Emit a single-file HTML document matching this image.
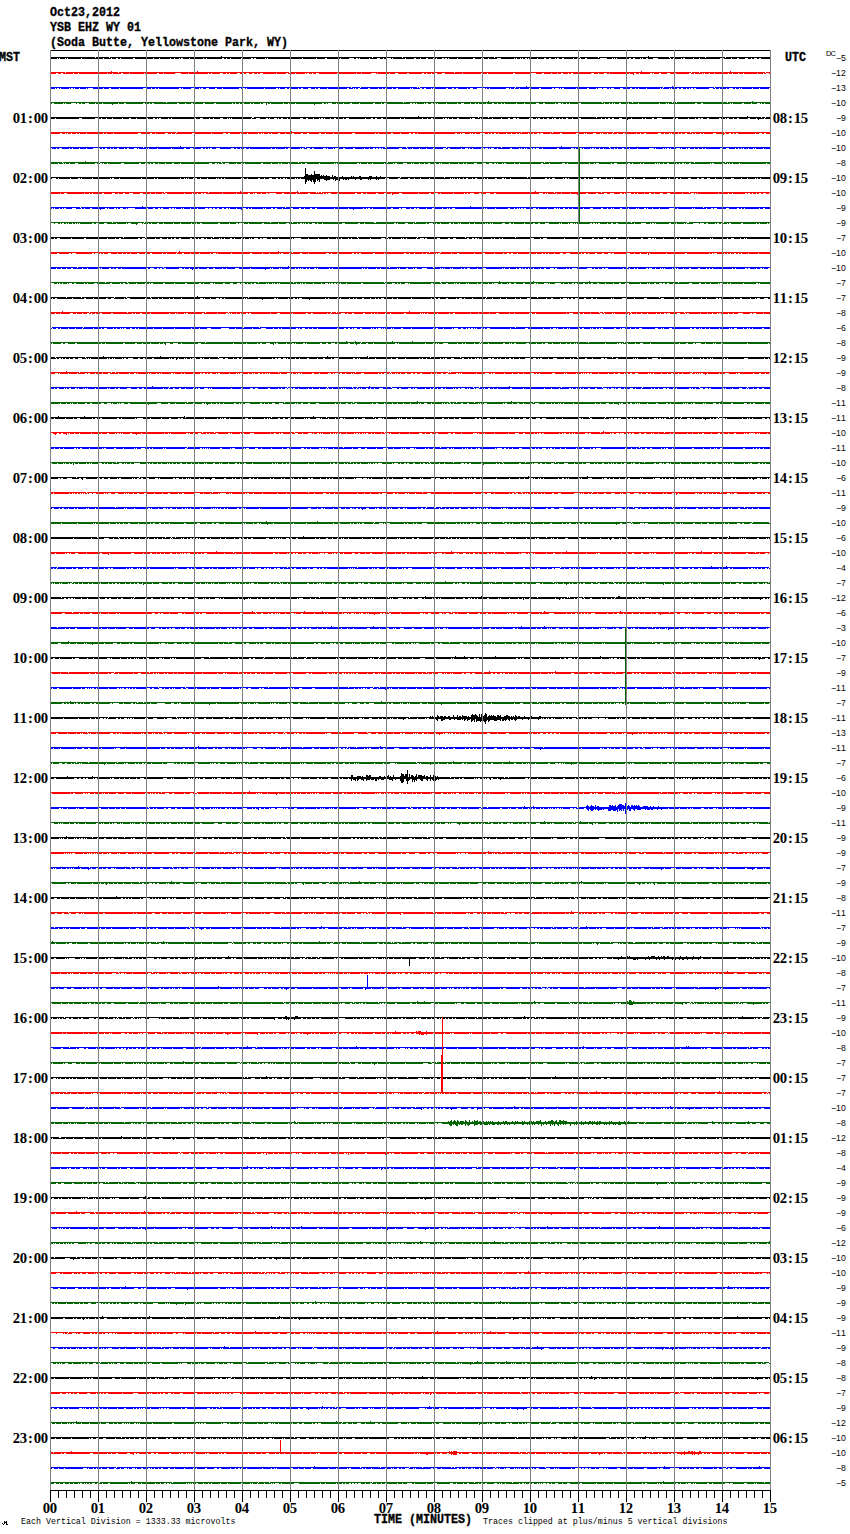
<!DOCTYPE html><html><head><meta charset="utf-8"><style>
html,body{margin:0;padding:0;background:#fff}
body{width:850px;height:1534px;position:relative;overflow:hidden}
div{position:absolute;white-space:pre;line-height:1;color:#000}
.m{font-family:"Liberation Mono",monospace;font-weight:bold;font-size:13.66px;transform:scaleX(.854);transform-origin:0 0;-webkit-text-stroke:.35px #000}
.s{font-family:"Liberation Serif",serif;font-weight:bold;font-size:13.6px}
.s b{display:inline-block;width:7px;text-align:center;font-weight:bold;transform:scaleX(1.08)}
.r{font-family:"Liberation Sans",sans-serif;font-size:8.7px}
.r b{display:inline-block;width:5px;text-align:center;font-weight:normal}
.f{font-family:"Liberation Mono",monospace;font-size:9.1px;transform:scaleX(.914);transform-origin:0 0}

</style></head><body>
<svg width="850" height="1534" shape-rendering="crispEdges" style="position:absolute;left:0;top:0"><path fill="#000" d="M50 57h45v1h1v-1h13v1h1v-1h111v-1h1v1h150v1h1v-1h29v1h1v-1h91v1h1v-1h84v1h1v-1h18v1h1v-1h49v-1h1v1h20v1h1v-1h35v1h1v-1h19v1h1v-1h44V59h-9v-1h-2v1h-2v-1h-3v1h-2v-1h-1v1h-3v-1h-3v1h-6v-1h-2v1h-5v-1h-1v1h-7v-1h-4v1h-20v-1h-1v1h-5v-1h-1v1h-8v-1h-2v1h-1v-1h-1v1h-6v-1h-2v1h-2v-1h-1v1h-12v-1h-5v1h-5v-1h-2v1h-3v-1h-1v1h-1v-1h-1v1h-5v-1h-2v1h-2v-1h-2v1h-12v-1h-1v1h-1v-1h-1v1h-1v-1h-1v1h-5v-1h-7v1h-13v-1h-2v1h-4v-1h-1v1h-2v-1h-1v1h-3v-1h-1v1h-9v-1h-2v1h-3v-1h-2v1h-1v-1h-1v1h-4v-1h-2v1h-3v-1h-2v1h-6v-1h-1v1h-8v-1h-1v1h-1v-1h-2v1h-2v-1h-1v1h-1v-1h-1v1h-3v-1h-1v1h-1v-1h-1v1h-13v-1h-4v1h-8v-1h-1v1h-4v-1h-1v1h-1v-1h-1v1h-6v-1h-2v1h-15v-1h-1v1h-8v-1h-1v1h-1v-1h-2v1h-1v-1h-2v1h-5v-1h-1v1h-2v-1h-1v1h-5v-1h-2v1h-5v-1h-1v1h-4v-1h-2v1h-8v-1h-1v1h-12v-1h-1v1h-1v-1h-4v1h-3v-1h-1v1h-3v-1h-3v1h-7v-1h-1v1h-9v-1h-1v1h-1v-1h-2v1h-2v-1h-5v1h-8v-1h-1v1h-1v-1h-1v1h-11v-1h-2v1h-8v-1h-1v1h-13v-1h-1v1h-34v-1h-1v1h-1v-1h-1v1h-9v-1h-2v1h-1v-1h-2v1h-8v-1h-2v1h-10v-1h-1v1h-3v-1h-1v1h-2v-1h-2v1h-15v-1h-1v1h-2v-1h-1v1h-8v-1h-1v1h-4v-1h-1v1h-6v-1h-2v1h-1v-1h-1v1h-4v-1h-1v1h-3v-1h-1v1h-10v-1h-1v1h-5v-1h-1v1h-18v-1h-2v1h-12v-1h-1v1h-2v-1h-2v1h-4v-1h-1v1h-7v-1h-1v1h-21v-1h-1v1h-13v-1h-1v1h-1v-1h-1v1h-5v-1h-1v1h-1v-1h-1v1h-7z"/><path fill="#f00" d="M50 72h15v1h1v-1h45v-1h1v1h6v1h1v-1h78v-1h1v1h91v1h1v-1h164v1h1v-1h186v-1h1v1h49v1h1v-1h7v1h1v-1h30v-1h1v1h34v1h1v-1h4V74h-1v-1h-3v1h-2v-1h-1v1h-5v-1h-1v1h-13v-1h-1v1h-4v-1h-1v1h-5v-1h-1v1h-3v-1h-1v1h-13v-1h-1v1h-4v-1h-1v1h-4v-1h-1v1h-1v-1h-1v1h-7v-1h-1v1h-3v-1h-2v1h-13v-1h-1v1h-5v-1h-3v1h-6v-1h-2v1h-5v-1h-1v1h-1v-1h-2v1h-10v-1h-1v1h-3v-1h-2v2h-1v-1h-3v-1h-1v1h-19v-1h-1v1h-2v-1h-3v1h-5v-1h-1v1h-4v-1h-3v1h-12v-1h-1v1h-5v-1h-2v1h-2v-1h-1v1h-5v-1h-2v1h-3v-1h-1v1h-5v-1h-1v1h-7v-1h-2v1h-6v-1h-5v1h-16v-1h-2v1h-25v-1h-1v1h-4v-1h-2v1h-18v-1h-1v1h-17v-1h-3v1h-5v-1h-3v1h-2v-1h-1v1h-4v-1h-1v1h-2v-1h-2v1h-13v-1h-2v1h-9v-1h-3v1h-5v-1h-1v1h-11v-1h-1v1h-1v-1h-5v1h-9v-1h-1v1h-4v-1h-1v1h-18v-1h-1v1h-18v-1h-3v1h-3v-1h-1v1h-3v-1h-2v1h-1v-1h-1v1h-9v-1h-1v1h-7v-1h-2v1h-9v-1h-1v1h-13v-1h-3v1h-2v-1h-1v1h-3v-1h-2v1h-3v-1h-3v1h-2v-1h-1v1h-3v-1h-3v1h-7v-1h-1v1h-2v-1h-1v1h-3v-1h-3v1h-8v-1h-1v1h-2v-1h-1v1h-13v-1h-1v1h-5v-1h-1v1h-7v-1h-6v1h-11v-1h-1v1h-4v-1h-2v1h-12v-1h-1v1h-14v-1h-1v1h-6v-1h-2v1h-8v-1h-1v1h-4v-1h-1v1h-28v-1h-1v1h-4v-1h-1v1h-10v-1h-2v1h-3v-1h-2v1h-5v-1h-1z"/><path fill="#00f" d="M50 87h301v1h1v-1h8v1h1v-1h56v1h1v-1h1v1h1v-1h95v1h1v-1h10v-1h1v1h136v1h1v-1h8v-1h1v1h41v1h1v-1h55V88h-1v1h-9v-1h-1v1h-6v-1h-1v1h-10v-1h-1v1h-1v-1h-1v1h-3v-1h-1v1h-2v-1h-4v1h-2v-1h-1v1h-6v-1h-1v1h-3v-1h-1v1h-2v-1h-4v1h-13v-1h-2v1h-1v-1h-2v1h-1v-1h-1v1h-2v-1h-1v1h-3v-1h-2v1h-2v-1h-2v1h-5v-1h-1v1h-1v-1h-1v1h-6v-1h-1v1h-1v-1h-1v1h-13v-1h-1v1h-7v-1h-1v1h-2v-1h-1v1h-3v-1h-2v1h-7v-1h-3v1h-6v-1h-3v1h-1v-1h-1v1h-2v-1h-4v1h-1v-1h-4v1h-1v-1h-1v1h-7v-1h-2v1h-8v-1h-1v1h-1v-1h-1v1h-12v-1h-2v1h-1v-1h-1v1h-1v-1h-4v1h-1v-1h-2v1h-11v-1h-2v1h-9v-1h-1v1h-9v-1h-1v1h-4v-1h-1v1h-3v-1h-1v1h-1v-1h-3v1h-16v-1h-1v1h-2v-1h-1v1h-1v-1h-8v1h-4v-1h-3v1h-2v-1h-1v1h-9v-1h-2v1h-2v-1h-2v1h-4v-1h-2v1h-12v-1h-1v1h-1v-1h-1v1h-5v-1h-2v1h-2v-1h-2v1h-7v-1h-1v1h-1v-1h-1v1h-12v-1h-2v1h-3v-1h-1v1h-5v-1h-2v1h-2v-1h-1v1h-3v-1h-1v1h-8v-1h-2v1h-8v-1h-2v1h-2v-1h-1v1h-1v-1h-1v1h-4v-1h-2v1h-19v-1h-1v1h-7v-1h-2v1h-2v-1h-1v1h-4v-1h-3v1h-5v-1h-2v1h-2v-1h-1v1h-8v-1h-1v1h-2v-1h-2v1h-5v-1h-1v1h-1v-1h-2v1h-11v-1h-1v1h-17v-1h-1v1h-1v-1h-2v1h-2v-1h-2v1h-16v-1h-1v1h-5v-1h-2v1h-6v-1h-3v1h-3v-1h-2v1h-1v-1h-1v1h-5v-1h-3v1h-8v-1h-1v1h-1v-1h-2v1h-20v-1h-1v1h-2v-1h-1v1h-3v-1h-1v1h-5v-1h-3v1h-23v-1h-1v1h-8v-1h-2v1h-5v-1h-1v1h-10v-1h-5v1h-1v-1h-1v1h-6v-1h-1v1h-4v-1h-1v1h-1v-1h-2v1h-1v-1h-1v1h-8v-1h-1v1h-1v-1h-2v1h-1v-1h-1v1h-5z"/><path fill="#006400" d="M50 102h116v1h1v-1h236v1h1v-1h84v-1h1v1h113v1h1v-1h29v1h1v-1h39v1h1v-1h3v1h1v-1h50v1h1v-1h24v-1h1v1h17V104h-5v-1h-1v1h-2v-1h-1v1h-1v-1h-3v1h-5v-1h-1v1h-7v-1h-2v1h-9v-1h-1v1h-1v-1h-1v1h-27v-1h-2v1h-4v-1h-2v1h-26v-1h-1v1h-1v-1h-1v1h-6v-1h-1v1h-20v-1h-1v1h-9v-1h-1v1h-7v-1h-2v1h-4v-1h-1v1h-1v-1h-1v1h-2v-1h-1v1h-4v-1h-1v1h-23v-1h-2v1h-9v-1h-1v1h-2v-1h-1v1h-3v-1h-1v1h-1v-1h-3v1h-2v-1h-1v1h-10v-1h-2v1h-4v-1h-3v1h-11v-1h-1v1h-7v-1h-1v1h-11v-1h-1v1h-2v-1h-1v1h-3v-1h-1v1h-3v-1h-2v1h-5v-1h-1v1h-7v-1h-1v1h-2v-1h-1v1h-4v-1h-1v1h-6v-1h-3v1h-3v-1h-1v1h-10v-1h-1v1h-8v-1h-1v1h-1v-1h-2v1h-1v-1h-2v1h-3v-1h-2v1h-1v-1h-1v1h-7v-1h-1v1h-1v-1h-2v1h-1v-1h-2v1h-23v-1h-3v1h-2v-1h-1v1h-6v-1h-2v1h-13v-1h-1v1h-7v-1h-2v1h-6v-1h-1v1h-6v-1h-1v1h-4v-1h-4v1h-1v-1h-1v1h-2v-1h-2v1h-7v1h-1v-1h-18v-1h-1v1h-6v-1h-1v1h-4v-1h-1v1h-12v-1h-1v1h-2v-1h-1v2h-1v-2h-3v1h-2v-1h-1v1h-6v-1h-1v1h-2v-1h-1v1h-6v-1h-1v1h-3v-1h-1v1h-3v-1h-1v1h-2v-1h-1v1h-16v-1h-2v1h-9v-1h-2v1h-10v-1h-2v1h-5v-1h-1v1h-6v-1h-2v1h-23v-1h-2v1h-2v-1h-1v1h-4v-1h-2v1h-17v-1h-2v1h-5v-1h-1v1h-5v1h-1v-1h-9v-1h-1v1h-6v-1h-1v1h-6v-1h-4v1h-3v-1h-1v1h-2v-1h-2v1h-1v-1h-5v1h-5v-1h-1v1h-1v-1h-1v1h-9v-1h-2v1h-2z"/><path fill="#000" d="M50 117h202v1h2v-1h164v-1h1v1h59v1h1v-1h9v1h1v-1h107v1h1v-1h150v-1h1v1h13v1h1v-1h3v1h1v-1h4V119h-5v-1h-1v1h-5v1h-1v-1h-1v-1h-1v1h-6v-1h-2v1h-9v-1h-2v1h-3v-1h-1v1h-4v-1h-2v1h-1v-1h-1v1h-4v-1h-2v1h-10v-1h-2v1h-4v-1h-2v1h-1v-1h-2v1h-2v-1h-1v1h-6v-1h-1v1h-10v-1h-2v1h-2v-1h-1v1h-11v-1h-5v1h-3v-1h-2v1h-6v-1h-1v1h-2v-1h-1v1h-10v-1h-1v1h-3v1h-1v-1h-5v-1h-3v1h-5v-1h-2v1h-2v-1h-2v1h-2v-1h-1v1h-3v-1h-1v1h-20v-1h-3v1h-5v-1h-1v1h-4v-1h-2v1h-3v-1h-1v1h-2v-1h-1v1h-3v-1h-2v1h-1v-1h-1v1h-3v-1h-2v1h-3v-1h-1v1h-3v-1h-2v1h-1v-1h-1v1h-3v-1h-4v1h-10v-1h-2v1h-1v-1h-3v1h-3v-1h-2v1h-6v-1h-1v1h-8v-1h-1v1h-11v-1h-1v1h-5v-1h-3v1h-1v-1h-1v1h-11v-1h-2v1h-4v-1h-1v1h-3v-1h-1v1h-1v-1h-2v1h-1v-1h-1v1h-8v-1h-1v1h-1v-1h-2v1h-3v-1h-1v1h-4v-1h-1v1h-17v-1h-1v1h-3v-1h-1v1h-17v-1h-2v1h-4v-1h-2v1h-2v-1h-2v1h-5v-1h-1v1h-16v-1h-3v1h-2v-1h-1v1h-7v-1h-2v1h-3v-1h-1v1h-5v-1h-1v1h-1v-1h-2v1h-1v-1h-1v1h-5v-1h-1v1h-5v-1h-2v1h-3v-1h-3v1h-12v-1h-1v1h-4v-1h-2v1h-2v-1h-1v1h-1v-1h-3v1h-4v-1h-1v1h-1v-1h-2v1h-6v-1h-4v1h-4v-1h-1v1h-19v-1h-1v1h-1v-1h-1v1h-1v-1h-1v1h-4v-1h-3v1h-6v-1h-1v1h-3v-1h-1v1h-6v-1h-3v1h-4v-1h-2v1h-22v-1h-1v1h-2v-1h-1v1h-7v-1h-2v1h-1v-1h-1v1h-2v-1h-2v1h-5v-1h-1v1h-10v-1h-1v1h-5v-1h-2v1h-6v-1h-1v1h-9v-1h-1v1h-5v-1h-1v1h-4v-1h-1v1h-3v-1h-3v1h-13v-1h-3v1h-23v-1h-1v1h-5z"/><path fill="#f00" d="M50 132h126v1h1v-1h114v-1h1v1h229v1h1v-1h30v1h1v-1h60v1h1v-1h12v-1h1v1h63v1h1v-1h33v1h1v-1h45V134h-4v-1h-2v1h-2v-1h-3v1h-3v-1h-1v1h-17v-1h-2v1h-2v-1h-1v1h-2v-1h-2v1h-3v-1h-1v1h-1v1h-1v-1h-7v-1h-3v1h-9v-1h-1v1h-2v-1h-1v1h-4v-1h-1v1h-2v-1h-1v1h-5v-1h-2v1h-3v-1h-1v1h-2v-1h-1v1h-6v-1h-1v1h-1v-1h-1v1h-4v-1h-1v1h-3v-1h-3v1h-12v-1h-2v1h-3v-1h-1v1h-3v-1h-1v1h-11v-1h-2v1h-5v-1h-1v1h-4v-1h-1v1h-4v-1h-1v1h-4v-1h-1v1h-1v-1h-1v1h-4v-1h-3v1h-6v-1h-1v1h-1v-1h-1v1h-6v-1h-2v1h-14v-1h-2v1h-9v-1h-1v1h-7v-1h-3v1h-1v-1h-2v1h-3v-1h-1v1h-4v-1h-1v1h-8v-1h-1v1h-2v-1h-1v1h-4v-1h-1v1h-4v-1h-1v1h-7v-1h-1v1h-2v-1h-2v1h-2v-1h-1v1h-2v-1h-1v1h-3v-1h-2v1h-1v-1h-2v1h-4v-1h-1v1h-2v-1h-1v1h-1v-1h-1v1h-5v-1h-3v1h-1v-1h-1v1h-3v-1h-2v1h-20v-1h-1v1h-16v-1h-1v1h-2v-1h-2v1h-2v-1h-2v1h-8v-1h-1v1h-7v-1h-2v1h-12v-1h-1v1h-2v-1h-1v1h-20v-1h-3v1h-18v-1h-1v1h-7v-1h-1v1h-4v-1h-2v1h-10v-1h-2v1h-4v-1h-2v1h-7v-1h-2v1h-6v-1h-1v1h-5v-1h-2v1h-6v-1h-1v1h-2v-1h-1v1h-4v-1h-1v1h-1v-1h-1v1h-2v-1h-1v1h-10v-1h-1v1h-6v-1h-1v1h-10v-1h-2v1h-2v-1h-3v1h-11v-1h-1v1h-17v-1h-2v1h-16v-1h-1v1h-3v-1h-1v1h-3v-1h-3v1h-9v-1h-1v1h-3v-1h-2v1h-9v-1h-3v1h-24v-1h-1v1h-6v-1h-1v1h-2v-1h-1v1h-16v-1h-1v1h-6v-1h-1v1h-2v-1h-1v1h-4v-1h-1v1h-3v-1h-1v1h-1v-1h-1v1h-3v-1h-2v1h-9v-1h-1z"/><path fill="#00f" d="M50 147h93v1h1v-1h36v-1h1v1h124v1h1v-1h79v1h1v-1h20v1h1v-1h39v1h1v-1h54v1h1v-1h59v-1h1v1h47v1h1v-1h160V149h-6v-1h-1v1h-7v-1h-1v1h-1v-1h-1v1h-4v-1h-1v1h-4v-1h-1v1h-1v-1h-1v1h-2v-1h-1v1h-2v-1h-1v1h-6v-1h-3v1h-4v-1h-2v1h-14v-1h-1v1h-2v-1h-1v1h-3v-1h-1v1h-3v-1h-1v1h-4v-1h-2v1h-1v-1h-1v1h-4v-1h-1v1h-1v-1h-4v1h-5v-1h-1v1h-1v-1h-2v1h-1v-1h-1v1h-1v-1h-1v1h-7v-1h-1v1h-1v-1h-5v1h-11v-1h-1v1h-7v-1h-1v1h-5v-1h-2v1h-4v-1h-1v1h-2v-1h-1v1h-3v-1h-1v1h-6v-1h-1v1h-3v-1h-1v1h-3v-1h-1v1h-1v-1h-2v1h-1v-1h-1v1h-6v-1h-1v1h-1v-1h-2v1h-4v-1h-1v1h-1v-1h-3v1h-12v-1h-2v1h-14v-1h-1v1h-3v-1h-3v1h-1v-1h-2v1h-1v-1h-1v1h-4v-1h-1v1h-1v-1h-1v1h-2v-1h-1v1h-1v-1h-1v1h-7v-1h-2v1h-12v-1h-1v1h-3v-1h-3v1h-1v-1h-1v1h-1v-1h-3v1h-1v-1h-1v1h-1v-1h-1v1h-8v-1h-1v1h-2v-1h-1v1h-1v-1h-3v1h-3v-1h-1v1h-11v-1h-2v1h-2v-1h-3v1h-8v-1h-2v1h-6v-1h-1v1h-6v-1h-1v1h-6v-1h-1v1h-4v-1h-1v1h-5v-1h-3v1h-16v-1h-1v1h-1v-1h-2v1h-1v-1h-2v1h-1v-1h-2v1h-3v-1h-1v1h-4v-1h-1v1h-9v-1h-2v1h-8v-1h-2v1h-4v-1h-4v1h-1v-1h-1v1h-5v-1h-1v1h-1v-1h-3v1h-9v-1h-2v1h-2v-1h-3v1h-3v-1h-2v1h-1v-1h-1v1h-10v-1h-2v1h-2v-1h-1v1h-9v-1h-1v1h-3v-1h-1v1h-21v-1h-1v1h-3v-1h-2v1h-3v-1h-1v1h-3v-1h-1v1h-2v-1h-3v1h-11v-1h-4v1h-4v-1h-2v1h-1v-1h-1v1h-2v-1h-1v1h-2v-1h-2v1h-6v-1h-1v1h-1v-1h-3v1h-4v-1h-2v1h-12v-1h-1v1h-13v-1h-1v1h-8v-1h-1v1h-9v-1h-1v1h-1v-1h-3v1h-5v-1h-2v1h-2v-1h-1v1h-5v-1h-2v1h-3v-1h-1v1h-2v-1h-1v1h-3v-1h-2v1h-2v-1h-1v1h-2v-1h-7v1h-6v-1h-1v1h-6v-1h-1v1h-6v-1h-1v1h-2v-1h-1v1h-7v-1h-3v1h-2v-1h-1v1h-4v-1h-2z"/><path fill="#006400" d="M50 162h12v1h1v-1h22v-1h1v1h13v1h1v-1h121v1h1v-1h76v1h1v-1h88v1h1v-1h156v1h1v-1h149v1h1v-1h30v1h1v-1h44V164h-3v-1h-1v1h-26v-1h-1v1h-6v-1h-1v1h-2v-1h-1v1h-1v-1h-1v1h-3v-1h-1v1h-9v-1h-2v1h-1v-1h-1v1h-19v-1h-2v1h-3v-1h-1v1h-1v-1h-2v1h-2v-1h-1v1h-2v-1h-1v1h-7v-1h-2v1h-3v-1h-1v1h-3v-1h-1v1h-1v-1h-1v1h-1v-1h-1v1h-11v-1h-1v1h-2v-1h-1v1h-7v-1h-1v1h-2v-1h-2v1h-11v-1h-3v1h-2v-1h-1v1h-12v-1h-3v1h-1v-1h-1v1h-4v-1h-1v1h-21v-1h-1v1h-2v-1h-3v1h-12v-1h-1v1h-6v-1h-2v1h-21v-1h-1v1h-4v-1h-1v1h-8v-1h-2v1h-1v-1h-1v1h-4v-1h-1v1h-1v-1h-2v1h-2v-1h-3v1h-3v-1h-3v1h-6v-1h-3v1h-7v-1h-1v1h-2v-1h-1v1h-4v-1h-1v1h-8v-1h-1v1h-7v-1h-1v1h-1v-1h-1v1h-3v-1h-1v1h-5v-1h-2v1h-3v-1h-1v1h-4v-1h-1v1h-5v-1h-1v1h-1v-1h-1v1h-4v-1h-4v1h-6v-1h-2v1h-1v-1h-1v1h-8v-1h-1v1h-11v-1h-1v1h-4v-1h-1v1h-6v-1h-1v1h-1v-1h-2v1h-18v-1h-1v1h-1v-1h-1v1h-1v-1h-1v1h-14v-1h-1v1h-12v-1h-2v1h-3v-1h-1v1h-10v-1h-1v1h-1v-1h-1v1h-6v-1h-1v1h-2v-1h-1v1h-6v-1h-1v1h-8v-1h-2v1h-16v-1h-1v1h-2v-1h-1v1h-4v-1h-1v1h-7v-1h-4v1h-2v-1h-1v1h-3v-1h-1v1h-1v-1h-2v1h-3v-1h-3v1h-28v-1h-1v1h-6v-1h-2v1h-6v-1h-1v1h-6v-1h-1v1h-3v-1h-2v1h-2v-1h-1v1h-2v-1h-1v1h-1v-1h-1v1h-4v-1h-2v1h-15v-1h-3v1h-13v-1h-1v1h-3v-1h-1v1h-1v-1h-2v1h-3v-1h-2v1h-17v-1h-3v1h-5v-1h-1v1h-3v-1h-1v1h-1v-1h-1v1h-4v-1h-1v1h-8z"/><path fill="#000" d="M50 177h254v-1h1v-8h1v6h2v1h3v-1h1v1h2v-4h1v3h5v2h1v-1h1v1h1v-1h1v1h2v-1h1v1h3v1h2v-2h1v2h1v-1h2v1h2v-1h1v1h3v-1h1v1h8v-1h1v1h1v-1h1v1h5v-1h2v1h8v-1h3v1h4v-1h1v1h3v-1h1v1h19v1h1v-1h43v1h1v-1h82v1h1v-1h242V179h-9v-1h-1v1h-2v-1h-1v1h-1v-1h-1v1h-7v-1h-1v1h-5v-1h-1v1h-7v-1h-3v1h-6v-1h-1v1h-8v-1h-1v1h-5v-1h-3v1h-3v-1h-3v1h-2v-1h-2v1h-6v-1h-3v1h-7v-1h-1v1h-2v-1h-2v1h-6v-1h-1v1h-1v-1h-1v1h-7v-1h-2v1h-1v-1h-1v1h-11v-1h-2v1h-8v-1h-1v1h-2v-1h-2v1h-5v-1h-1v1h-10v-1h-1v1h-1v-1h-1v1h-4v-1h-1v1h-5v-1h-2v1h-2v-1h-4v1h-4v-1h-1v1h-2v-1h-2v1h-3v-1h-1v1h-11v-1h-1v1h-1v-1h-2v1h-1v-1h-1v1h-8v-1h-3v1h-2v-1h-1v1h-2v-1h-2v1h-34v-1h-1v1h-4v-1h-1v1h-1v-1h-2v1h-5v-1h-2v1h-7v-1h-1v1h-2v-1h-1v1h-7v-1h-2v1h-2v-1h-1v1h-4v-1h-2v1h-2v-1h-1v1h-3v-1h-1v1h-1v-1h-1v1h-2v-1h-1v1h-1v-1h-1v1h-1v-1h-1v1h-20v-1h-1v1h-8v-1h-1v1h-5v-1h-1v1h-4v-1h-2v1h-8v-1h-2v1h-9v-1h-4v1h-6v1h-1v-1h-1v1h-1v-1h-5v1h-1v-1h-1v1h-1v-1h-6v1h-2v-1h-4v1h-1v-1h-6v1h-1v-1h-1v1h-2v-1h-1v1h-1v-1h-3v2h-1v-2h-1v1h-2v1h-1v-2h-1v1h-1v-1h-3v1h-3v1h-1v-1h-2v-1h-4v3h-1v-2h-1v1h-1v-2h-1v3h-1v2h-1v-2h-1v-2h-1v2h-1v-1h-1v-1h-1v1h-1v-1h-1v2h-1v2h-1v-5h-4v-1h-1v1h-2v-1h-1v1h-1v-1h-1v1h-8v-1h-1v1h-1v-1h-2v1h-2v-1h-1v1h-2v-1h-2v1h-4v-1h-3v1h-4v-1h-1v1h-4v-1h-2v1h-10v-1h-1v1h-3v-1h-1v1h-1v-1h-1v1h-16v-1h-1v1h-2v-1h-1v1h-2v-1h-1v1h-1v-1h-1v1h-8v-1h-1v1h-6v-1h-1v1h-3v-1h-2v1h-1v-1h-1v1h-4v-1h-1v1h-1v-1h-1v1h-1v-1h-1v1h-3v-1h-1v1h-22v-1h-1v1h-2v-1h-1v1h-12v-1h-1v1h-21v-1h-1v1h-5v-1h-2v1h-1v-1h-1v1h-17v-1h-1v1h-10v-1h-1v1h-1v-1h-2v1h-7v-1h-1v1h-11v-1h-1v1h-2v-1h-4v1h-1v-1h-1z"/><path fill="#f00" d="M50 192h114v1h1v-1h43v1h1v-1h31v-1h1v1h56v-1h1v1h1v1h1v-1h16v1h1v-1h1v1h1v-1h2v1h1v-1h213v-1h1v1h18v1h1v-1h46v1h1v-1h87v1h1v-1h80V193h-1v1h-3v-1h-3v1h-2v-1h-2v1h-2v-1h-1v1h-3v-1h-1v1h-2v-1h-2v1h-1v-1h-2v1h-12v-1h-1v1h-3v-1h-1v1h-5v-1h-1v1h-3v-1h-1v1h-20v-1h-1v1h-1v-1h-1v1h-1v-1h-3v1h-8v-1h-1v1h-12v-1h-3v1h-4v-1h-3v1h-5v-1h-1v1h-3v-1h-2v1h-4v-1h-1v1h-6v-1h-1v1h-2v-1h-1v1h-3v-1h-4v1h-2v-1h-1v1h-2v-1h-2v1h-6v-1h-4v1h-3v-1h-3v1h-6v-1h-2v1h-8v-1h-2v1h-8v1h-1v-1h-6v-1h-1v1h-8v-1h-1v1h-4v-1h-1v1h-8v-1h-1v1h-1v-1h-1v1h-2v-1h-4v1h-43v-1h-2v1h-4v-1h-4v1h-3v-1h-1v1h-1v-1h-2v1h-5v-1h-4v1h-2v-1h-1v1h-2v-1h-1v1h-10v-1h-1v1h-12v-1h-1v1h-2v-1h-3v1h-4v-1h-2v1h-10v-1h-1v1h-16v-1h-3v1h-6v1h-1v-2h-1v1h-5v-1h-2v1h-6v-1h-2v1h-9v-1h-1v1h-3v-1h-2v1h-4v-1h-2v1h-17v-1h-1v1h-6v-1h-3v1h-1v-1h-1v1h-2v-1h-1v1h-13v-1h-2v1h-11v-1h-1v1h-12v-1h-2v1h-6v-1h-7v1h-1v-1h-2v1h-4v-1h-1v1h-4v-1h-2v1h-1v-1h-1v1h-3v-1h-2v1h-11v-1h-1v1h-13v-1h-1v1h-16v-1h-2v1h-1v-1h-2v1h-3v-1h-1v1h-4v-1h-1v1h-7v-1h-1v1h-17v-1h-2v1h-2v-1h-1v1h-6v-1h-1v1h-4v-1h-1v1h-7v-1h-3v1h-7v-1h-4v1h-4v-1h-2v1h-4v-1h-1v1h-3v-1h-3v1h-8v-1h-2v1h-3v-1h-1v1h-5v-1h-1v1h-2v-1h-1v1h-4v-1h-1v1h-17v-1h-3v1h-3v-1h-1v1h-9v-1h-1z"/><path fill="#00f" d="M50 207h30v1h1v-1h61v-1h1v1h142v1h1v-1h184v-1h1v1h232v1h1v-1h66V209h-5v-1h-2v1h-3v-1h-1v1h-14v-1h-1v1h-2v-1h-1v1h-2v-1h-2v1h-8v-1h-3v1h-3v-1h-1v1h-5v-1h-3v1h-1v-1h-2v1h-4v-1h-1v1h-11v-1h-1v1h-1v-1h-1v1h-14v-1h-1v1h-3v-1h-5v1h-9v-1h-1v1h-6v-1h-1v1h-4v-1h-1v1h-1v-1h-2v1h-5v-1h-1v1h-1v-1h-1v1h-7v-1h-1v1h-6v-1h-2v1h-6v-1h-1v1h-1v-1h-1v1h-3v-1h-1v1h-4v-1h-2v1h-8v-1h-3v1h-6v-1h-1v1h-10v-1h-1v1h-3v-1h-1v1h-3v-1h-2v1h-3v-1h-1v1h-1v-1h-1v1h-1v-1h-2v1h-6v-1h-1v1h-8v-1h-1v1h-2v-1h-3v1h-7v-1h-2v1h-1v-1h-2v1h-1v-1h-1v1h-1v-1h-1v1h-2v-1h-1v1h-4v-1h-2v1h-12v-1h-1v1h-8v-1h-1v1h-1v-1h-1v1h-29v-1h-3v1h-2v-1h-1v1h-1v-1h-1v1h-4v-1h-1v1h-7v-1h-3v1h-5v-1h-1v1h-7v-1h-2v1h-1v-1h-2v1h-3v-1h-1v1h-4v-1h-4v1h-1v-1h-2v1h-6v-1h-2v1h-18v-1h-1v1h-2v-1h-2v1h-1v-1h-1v1h-2v-1h-1v1h-9v1h-1v-1h-4v-1h-1v1h-9v-1h-1v1h-3v-1h-1v1h-17v-1h-2v1h-3v-1h-2v1h-5v-1h-1v1h-3v-1h-2v1h-6v-1h-2v1h-8v-1h-1v1h-5v-1h-2v1h-2v-1h-2v1h-5v-1h-1v1h-1v-1h-1v1h-11v-1h-1v1h-2v-1h-1v1h-2v-1h-3v1h-1v1h-1v-1h-4v-1h-1v1h-6v-1h-1v1h-1v-1h-2v1h-2v-1h-2v1h-3v-1h-2v1h-2v-1h-2v1h-1v-1h-3v1h-1v-1h-3v1h-7v-1h-1v1h-2v-1h-1v1h-3v-1h-1v1h-6v-1h-1v1h-1v-1h-1v1h-5v-1h-1v1h-1v-1h-2v1h-1v-1h-2v1h-6v-1h-2v1h-1v-1h-2v1h-3v-1h-2v1h-5v-1h-1v1h-12v-1h-7v1h-1v-1h-1v1h-3v-1h-3v1h-2v-1h-1v1h-1v-1h-2v1h-5v-1h-1v1h-1v-1h-2v1h-4v1h-1v-1h-8v-1h-2v1h-5v-1h-1v1h-2v-1h-1v1h-5v-1h-4v1h-6v-1h-2v1h-1v-1h-1v1h-2v-1h-1v1h-4v-1h-1v1h-1v-1h-1v1h-1v-1h-1z"/><path fill="#006400" d="M50 222h62v1h1v-1h31v1h1v-1h125v1h1v-1h21v1h1v-1h81v1h2v-1h39v1h1v-1h215v1h1v-1h55v1h2v-1h34v1h1v-1h46V223h-1v1h-1v-1h-1v1h-7v-1h-1v1h-2v-1h-1v1h-13v-1h-2v1h-10v-1h-2v1h-1v-1h-1v1h-5v-1h-1v1h-2v-1h-2v1h-1v-1h-1v1h-7v-1h-2v1h-2v-1h-4v1h-1v-1h-6v1h-6v-1h-1v1h-1v-1h-1v1h-7v-1h-1v1h-1v-1h-1v1h-3v-1h-2v1h-13v-1h-1v1h-1v-1h-2v1h-1v-1h-1v1h-4v-1h-5v1h-6v-1h-1v1h-16v-1h-2v1h-3v-1h-2v1h-3v-1h-1v1h-7v-1h-2v1h-1v-1h-1v1h-1v-1h-2v1h-1v-1h-2v1h-13v-1h-1v1h-1v-1h-1v1h-1v-1h-3v1h-1v-1h-1v1h-6v-1h-1v1h-1v-1h-1v1h-10v-1h-4v1h-5v-1h-2v1h-3v-1h-2v1h-8v-1h-1v1h-10v-1h-1v1h-2v-1h-2v1h-4v-1h-3v1h-9v-1h-1v1h-1v-1h-1v1h-2v-1h-1v1h-1v-1h-1v1h-10v-1h-1v1h-4v-1h-1v1h-8v-1h-1v1h-1v-1h-1v1h-4v-1h-1v1h-2v-1h-2v1h-8v-1h-1v1h-3v-1h-1v1h-3v-1h-4v1h-2v-1h-1v1h-12v-1h-1v1h-5v-1h-3v1h-7v-1h-1v1h-1v-1h-2v1h-29v-1h-1v1h-4v-1h-2v1h-13v-1h-3v1h-19v-1h-1v1h-4v-1h-1v1h-2v-1h-3v1h-3v-1h-1v1h-2v-1h-1v1h-1v-1h-1v1h-1v-1h-2v1h-2v-1h-1v1h-8v-1h-3v1h-7v-1h-1v1h-14v-1h-2v1h-13v-1h-1v1h-4v-1h-5v1h-1v-1h-2v1h-6v-1h-1v1h-9v-1h-2v1h-16v-1h-2v1h-3v-1h-1v1h-4v-1h-1v1h-10v-1h-1v1h-6v-1h-1v1h-9v-1h-1v1h-4v-1h-2v1h-5v-1h-1v1h-2v-1h-1v1h-1v-1h-1v1h-2v-1h-1v1h-1v-1h-4v1h-1v1h-1v-1h-5v-1h-3v1h-1v-1h-1v1h-9v-1h-1v1h-9v-1h-3v1h-5v-1h-3v1h-2v-1h-2v1h-12v-1h-1v1h-1v-1h-1v1h-1v-1h-1v1h-2v-1h-1v1h-3v-1h-1v1h-1v-1h-1v1h-2v-1h-2v1h-1v-1h-1v1h-2v-1h-3v1h-1v-1h-4z"/><path fill="#000" d="M50 237h73v1h1v-1h21v1h1v-1h67v1h1v-1h143v1h1v-1h29v1h1v-1h29v1h1v-1h47v1h1v-1h49v1h1v-1h254V239h-23v-1h-1v1h-1v-1h-1v1h-3v-1h-1v1h-6v-1h-3v1h-3v-1h-1v1h-14v-1h-1v1h-1v-1h-1v1h-13v-1h-1v1h-2v-1h-1v1h-2v-1h-1v1h-10v-1h-1v1h-2v-1h-1v1h-12v-1h-1v1h-7v-1h-1v1h-1v-1h-2v1h-1v-1h-3v1h-5v-1h-2v1h-12v-1h-1v1h-10v-1h-2v1h-6v-1h-1v1h-3v-1h-3v1h-4v-1h-1v1h-4v-1h-2v1h-10v-1h-2v1h-1v-1h-1v1h-13v-1h-1v1h-17v-1h-4v1h-2v-1h-1v1h-6v-1h-3v1h-28v-1h-1v1h-2v-1h-1v1h-4v-1h-1v1h-2v-1h-1v1h-12v-1h-1v1h-1v-1h-2v1h-1v-1h-2v1h-3v-1h-2v1h-11v-1h-3v1h-3v-1h-2v1h-8v-1h-3v1h-10v-1h-2v1h-1v-1h-4v1h-3v-1h-1v1h-9v-1h-1v1h-2v-1h-1v1h-1v-1h-1v1h-9v-1h-1v1h-2v-1h-1v1h-3v-1h-4v1h-10v-1h-1v1h-11v-1h-1v1h-6v-1h-1v1h-2v-1h-1v1h-6v-1h-1v1h-4v-1h-1v1h-7v-1h-1v1h-9v-1h-1v1h-9v-1h-1v1h-7v-1h-7v1h-1v-1h-1v1h-13v-1h-1v1h-6v-1h-1v1h-4v-1h-4v1h-1v-1h-2v1h-2v-1h-4v1h-2v-1h-1v1h-1v-1h-1v1h-4v-1h-1v1h-2v-1h-1v1h-6v-1h-1v1h-2v-1h-2v1h-5v-1h-1v1h-2v-1h-1v1h-1v-1h-1v1h-7v-1h-1v1h-4v-1h-1v1h-2v-1h-3v1h-2v-1h-1v1h-2v-1h-1v1h-3v-1h-2v1h-9v-1h-2v1h-3v-1h-2v1h-2v-1h-1v1h-3v-1h-1v1h-5v-1h-2v1h-4v-1h-1v1h-10v-1h-3v1h-2v-1h-2v1h-17v-1h-2v1h-3v-1h-1v1h-7v-1h-1v1h-21v-1h-2v1h-12v-1h-1v1h-11v-1h-3v1h-2v-1h-1v1h-4z"/><path fill="#f00" d="M50 252h127v1h1v-1h1v-1h1v1h98v-1h1v1h13v1h1v-1h136v1h1v-1h10v1h1v-1h329V254h-11v-1h-1v1h-9v-1h-1v1h-6v-1h-1v1h-2v-1h-1v1h-2v-1h-2v1h-3v-1h-1v1h-2v-1h-1v1h-2v-1h-1v1h-1v-1h-1v1h-5v-1h-3v1h-1v-1h-1v1h-2v-1h-1v1h-22v-1h-2v1h-18v-1h-1v1h-16v-1h-1v2h-1v-2h-1v1h-6v-1h-1v1h-5v-1h-1v1h-4v-1h-4v1h-12v-1h-2v1h-1v-1h-3v1h-4v-1h-2v1h-5v-1h-2v1h-6v-1h-1v1h-2v-1h-2v1h-2v-1h-1v1h-11v-1h-4v1h-3v-1h-3v1h-5v-1h-1v1h-5v-1h-1v1h-2v-1h-1v1h-2v-1h-1v1h-5v-1h-1v1h-6v-1h-1v1h-11v-1h-1v1h-4v-1h-2v1h-2v-1h-2v1h-3v-1h-1v1h-8v-1h-1v1h-9v-1h-2v1h-8v-1h-1v1h-15v-1h-2v1h-5v-1h-1v1h-11v-1h-2v1h-1v-1h-1v1h-9v-1h-1v1h-3v-1h-1v1h-7v-1h-1v1h-4v-1h-1v1h-3v-1h-2v1h-19v-1h-1v1h-9v-1h-2v1h-12v-1h-2v1h-2v-1h-1v1h-2v-1h-2v1h-14v-1h-1v1h-5v-1h-1v1h-2v-1h-3v1h-17v-1h-1v1h-6v-1h-2v1h-9v-1h-2v1h-6v-1h-2v1h-1v-1h-1v1h-9v-1h-1v1h-6v-1h-1v1h-10v-1h-2v1h-18v-1h-1v1h-13v-1h-1v1h-1v-1h-3v1h-2v-1h-1v1h-10v-1h-1v1h-4v-1h-1v1h-3v-1h-1v1h-6v-1h-2v1h-5v-1h-1v1h-9v-1h-1v1h-3v-1h-1v1h-10v-1h-2v1h-3v-1h-2v1h-6v-1h-2v1h-6v-1h-1v1h-3v-1h-1v1h-3v-1h-1v1h-4v-1h-1v1h-6v-1h-3v1h-4v-1h-1v1h-2v-1h-1v1h-1v-1h-4v1h-1v-1h-2v1h-16v-1h-4v1h-1v-1h-2v1h-10v-1h-2v1h-7z"/><path fill="#00f" d="M50 267h27v1h1v-1h85v1h1v-1h124v-1h1v1h100v1h1v-1h43v1h1v-1h193v1h1v-1h142V268h-2v1h-4v-1h-1v1h-1v-1h-2v1h-3v-1h-1v1h-6v-1h-2v1h-1v-1h-2v1h-9v-1h-1v1h-2v-1h-1v1h-19v-1h-1v1h-2v-1h-1v1h-2v-1h-1v1h-6v-1h-2v1h-7v-1h-2v1h-5v-1h-1v1h-5v-1h-1v1h-1v-1h-1v1h-2v-1h-1v1h-7v-1h-1v1h-1v-1h-1v1h-1v-1h-1v1h-4v-1h-1v1h-3v-1h-3v1h-1v-1h-2v1h-8v-1h-1v1h-2v-1h-1v1h-4v-1h-1v1h-5v-1h-1v1h-15v-1h-3v1h-1v-1h-2v1h-3v-1h-1v1h-3v-1h-1v1h-2v-1h-5v1h-8v-1h-1v1h-1v-1h-5v1h-2v-1h-1v1h-2v-1h-1v1h-9v-1h-2v1h-1v-1h-4v1h-4v-1h-2v1h-3v-1h-1v1h-6v-1h-1v1h-4v-1h-1v1h-2v-1h-1v1h-2v-1h-1v1h-1v-1h-2v1h-2v-1h-1v1h-6v-1h-1v1h-4v-1h-1v1h-1v-1h-1v1h-16v-1h-3v1h-5v-1h-1v1h-7v-1h-3v1h-2v-1h-1v1h-2v-1h-1v1h-8v-1h-1v1h-1v-1h-1v1h-5v-1h-1v1h-1v-1h-1v1h-1v-1h-1v1h-13v-1h-5v1h-5v-1h-2v1h-1v-1h-1v1h-5v-1h-2v1h-6v-1h-1v1h-1v-1h-1v1h-16v-1h-1v1h-3v-1h-1v1h-8v-1h-1v1h-2v-1h-1v1h-1v-1h-1v1h-23v-1h-1v1h-5v-1h-1v1h-2v-1h-1v1h-11v-1h-1v1h-1v-1h-2v1h-4v-1h-1v1h-2v-1h-1v1h-3v-1h-1v1h-1v-1h-1v1h-1v-1h-1v1h-2v-1h-1v1h-5v-1h-1v1h-7v-1h-1v1h-1v-1h-1v1h-6v-1h-1v1h-1v-1h-1v1h-4v1h-1v-1h-14v-1h-1v1h-11v-1h-4v1h-8v-1h-1v1h-3v-1h-1v1h-7v-1h-2v1h-4v-1h-2v1h-8v-1h-1v1h-3v-1h-1v1h-1v1h-1v-1h-2v-1h-1v1h-4v-1h-1v1h-2v-1h-3v1h-13v-1h-2v1h-2v-1h-2v1h-1v-1h-2v1h-3v-1h-4v1h-2v-1h-1v1h-25v-1h-1v1h-3v-1h-2v1h-2v-1h-1v1h-2v-1h-2v1h-7v-1h-1v1h-1v-1h-1v1h-11v-1h-1v1h-4v-1h-1v1h-9v-1h-2v1h-4v-1h-1v1h-4v-1h-1v1h-4v-1h-1v1h-6z"/><path fill="#006400" d="M50 282h55v1h1v-1h21v1h1v-1h130v1h1v-1h34v1h1v-1h90v1h1v-1h55v1h1v-1h58v-1h1v1h33v-1h1v1h55v-1h1v1h88v1h1v-1h91V284h-10v-1h-1v1h-1v-1h-2v1h-12v-1h-1v1h-12v-1h-1v1h-2v-1h-1v1h-5v-1h-2v1h-1v-1h-1v1h-7v-1h-1v1h-4v-1h-1v1h-4v-1h-2v1h-7v-1h-3v1h-15v-1h-1v1h-4v-1h-2v1h-2v-1h-2v1h-1v-1h-3v1h-3v-1h-2v1h-4v-1h-1v1h-1v-1h-1v1h-6v-1h-1v1h-11v-1h-2v1h-1v-1h-1v1h-4v-1h-2v1h-5v-1h-1v1h-7v-1h-1v1h-6v-1h-2v1h-4v-1h-2v1h-2v-1h-1v1h-3v-1h-2v1h-6v-1h-2v1h-1v-1h-2v1h-3v-1h-1v1h-4v-1h-1v1h-2v-1h-6v1h-5v-1h-1v1h-1v-1h-4v1h-6v-1h-1v1h-1v-1h-2v1h-9v-1h-2v1h-7v-1h-2v1h-3v-1h-2v1h-1v-1h-1v1h-5v-1h-1v1h-3v-1h-4v1h-1v-1h-1v1h-3v-1h-1v1h-6v-1h-1v1h-3v-1h-1v1h-8v-1h-1v1h-1v-1h-1v1h-6v-1h-1v1h-2v-1h-1v1h-1v-1h-1v1h-6v-1h-2v1h-4v-1h-1v1h-6v-1h-1v1h-1v-1h-2v1h-21v-1h-1v1h-1v-1h-3v1h-4v-1h-1v1h-2v-1h-1v1h-2v-1h-3v1h-6v-1h-1v1h-22v-1h-2v1h-14v-1h-1v1h-5v-1h-1v1h-2v-1h-1v1h-1v-1h-2v1h-1v-1h-2v1h-1v-1h-1v1h-1v-1h-3v1h-3v-1h-1v1h-7v-1h-1v1h-7v-1h-1v1h-2v-1h-1v1h-1v-1h-1v1h-3v-1h-1v1h-5v-1h-1v1h-10v-1h-1v1h-1v-1h-1v1h-2v-1h-1v1h-1v-1h-1v1h-3v-1h-1v1h-1v-1h-1v1h-10v-1h-2v1h-2v-1h-1v1h-3v-1h-1v1h-2v-1h-4v1h-1v-1h-3v1h-4v-1h-3v1h-5v-1h-2v1h-8v-1h-1v1h-1v-1h-3v1h-6v-1h-1v1h-2v-1h-2v1h-12v-1h-2v1h-10v-1h-1v1h-9v-1h-2v1h-10v-1h-2v1h-1v-1h-1v1h-3v-1h-1v1h-8v-1h-1v1h-7v-1h-1v1h-3v-1h-2v1h-2v-1h-1v1h-8v-1h-2v1h-13v-1h-3v1h-6v-1h-1v1h-2v-1h-1v1h-8v-1h-2v1h-2v-1h-3v1h-1v-1h-1v1h-4v-1h-1v1h-2v-1h-1v1h-1v-1h-1v1h-3v-1h-3v1h-1z"/><path fill="#000" d="M50 297h16v1h1v-1h14v1h1v-1h32v1h1v-1h11v1h1v-1h23v1h1v-1h46v-1h1v1h50v1h1v-1h237v1h1v-1h50v1h1v-1h121v1h1v-1h110V299h-2v-1h-4v1h-4v-1h-3v1h-1v-1h-1v1h-4v-1h-1v1h-8v-1h-2v1h-5v-1h-1v1h-13v-1h-2v1h-1v-1h-2v1h-9v-1h-1v1h-4v-1h-1v1h-12v-1h-1v1h-8v-1h-1v1h-4v-1h-1v1h-10v-1h-3v1h-14v-1h-3v1h-9v-1h-1v1h-8v-1h-4v1h-8v-1h-1v1h-1v-1h-1v1h-14v-1h-1v1h-3v-1h-2v1h-5v-1h-2v1h-6v-1h-3v1h-2v-1h-2v1h-2v-1h-1v1h-1v-1h-4v1h-2v-1h-1v1h-7v-1h-2v1h-4v-1h-1v1h-15v-1h-4v1h-6v-1h-1v1h-4v-1h-1v1h-8v-1h-1v1h-5v-1h-1v1h-7v-1h-1v1h-6v-1h-1v1h-12v-1h-1v1h-7v-1h-1v1h-2v-1h-3v1h-2v-1h-1v1h-8v-1h-2v1h-6v-1h-2v1h-2v-1h-1v1h-3v-1h-1v1h-19v-1h-1v1h-13v-1h-1v1h-4v-1h-1v1h-8v-1h-3v1h-2v-1h-1v1h-2v-1h-1v1h-4v-1h-1v1h-6v-1h-2v1h-5v-1h-1v1h-2v-1h-1v1h-3v-1h-1v1h-8v-1h-1v1h-1v1h-1v-2h-1v1h-8v-1h-1v1h-2v-1h-1v1h-15v1h-1v-1h-7v-1h-3v1h-1v-1h-1v1h-2v-1h-2v1h-4v-1h-1v1h-10v-1h-1v1h-1v-1h-2v1h-11v1h-1v-1h-15v-1h-1v1h-1v-1h-1v1h-1v-1h-1v1h-17v-1h-1v1h-2v-1h-2v1h-1v-1h-3v1h-5v-1h-1v1h-5v-1h-1v1h-1v-1h-3v1h-18v-1h-1v1h-7v-1h-1v1h-3v-1h-1v1h-6v-1h-1v1h-3v-1h-1v1h-6v-1h-1v1h-5v-1h-1v1h-15v-1h-3v1h-2v-1h-1v1h-10v-1h-3v1h-3v-1h-2v1h-12v-1h-1v1h-7v-1h-2v1h-11v-1h-1v1h-15v-1h-2v1h-2v-1h-1v1h-2z"/><path fill="#f00" d="M50 312h12v-1h1v1h26v1h1v-1h37v1h1v-1h77v1h1v-1h22v1h1v-1h102v1h1v-1h4v1h1v-1h72v-1h1v1h189v1h1v-1h3v1h1v-1h26v1h1v-1h53v1h1v-1h85V314h-6v-1h-1v1h-7v-1h-3v1h-1v-1h-2v1h-7v-1h-5v1h-4v-1h-1v1h-4v-1h-1v1h-7v-1h-2v1h-1v-1h-1v1h-4v-1h-1v1h-4v-1h-1v1h-6v-1h-1v1h-11v-1h-2v1h-1v-1h-1v1h-5v-1h-3v1h-7v-1h-3v1h-1v-1h-2v1h-3v-1h-1v1h-3v-1h-1v1h-8v-1h-1v1h-5v-1h-1v1h-4v-1h-1v1h-4v-1h-1v1h-1v1h-1v-2h-1v1h-1v-1h-1v1h-11v-1h-1v1h-1v-1h-1v1h-7v-1h-1v1h-2v-1h-2v1h-9v-1h-1v1h-6v-1h-1v1h-3v-1h-1v1h-6v-1h-4v1h-2v-1h-1v1h-30v-1h-1v1h-3v-1h-3v1h-14v-1h-1v1h-4v-1h-1v1h-10v-1h-3v1h-6v-1h-1v1h-10v-1h-1v1h-7v-1h-1v1h-15v-1h-2v1h-3v-1h-1v1h-11v-1h-1v1h-9v-1h-1v1h-2v-1h-1v1h-1v-1h-1v1h-1v-1h-1v1h-14v-1h-2v1h-13v-1h-1v1h-4v-1h-1v1h-7v-1h-1v1h-2v-1h-1v1h-2v-1h-1v1h-6v-1h-2v1h-9v-1h-2v1h-4v-1h-1v1h-2v-1h-4v1h-10v-1h-1v1h-2v-1h-1v1h-14v-1h-2v1h-3v-1h-2v1h-13v-1h-1v1h-12v-1h-3v1h-6v-1h-1v1h-19v-1h-2v1h-1v-1h-2v1h-5v-1h-1v1h-3v-1h-1v1h-4v-1h-1v1h-1v-1h-1v1h-1v-1h-2v1h-8v-1h-1v1h-13v-1h-2v1h-14v-1h-2v1h-1v-1h-1v1h-6v-1h-1v1h-1v-1h-1v1h-5v-1h-1v1h-18v-1h-1v1h-8v-1h-2v1h-4v-1h-1v1h-2v-1h-1v1h-19v-1h-2v1h-9v-1h-2v1h-4v-1h-1v1h-3v-1h-1v1h-2v-1h-2v1h-4v-1h-1v1h-5v-1h-1v1h-3v-1h-3v1h-9v-1h-1v1h-4v-1h-1v1h-5z"/><path fill="#00f" d="M50 327h1v1h1v-1h31v1h1v-1h159v1h1v-1h15v1h1v-1h255v1h1v-1h254V329h-6v-1h-2v1h-9v-1h-1v1h-2v-1h-1v1h-1v-1h-1v1h-3v-1h-1v1h-6v-1h-3v1h-2v-1h-1v1h-1v-1h-1v1h-9v-1h-1v1h-9v-1h-1v1h-3v-1h-1v1h-3v-1h-1v1h-1v-1h-1v1h-3v-1h-2v1h-2v-1h-2v1h-18v-1h-3v1h-5v-1h-1v1h-1v-1h-1v1h-3v-1h-3v1h-13v-1h-3v1h-3v-1h-1v1h-4v-1h-1v1h-5v-1h-3v1h-1v-1h-1v1h-4v-1h-2v1h-11v-1h-2v1h-1v-1h-1v1h-2v-1h-1v1h-3v-1h-1v1h-1v-1h-1v1h-6v-1h-2v1h-2v-1h-1v1h-9v-1h-1v1h-1v-1h-1v1h-3v-1h-1v1h-5v-1h-1v1h-1v-1h-3v1h-2v-1h-1v1h-6v-1h-1v1h-12v-1h-1v1h-2v-1h-3v1h-14v-1h-1v1h-20v-1h-3v1h-2v-1h-1v1h-1v-1h-2v1h-4v-1h-1v1h-1v-1h-1v1h-1v-1h-2v1h-1v-1h-2v1h-1v-1h-1v1h-3v-1h-2v1h-3v-1h-4v1h-1v-1h-1v1h-8v-1h-1v1h-5v-1h-2v1h-2v-1h-1v1h-21v-1h-1v1h-8v-1h-2v1h-7v-1h-1v1h-1v-1h-1v1h-6v-1h-1v1h-1v-1h-1v1h-1v-1h-3v1h-1v-1h-1v1h-2v-1h-1v1h-1v-1h-1v1h-9v-1h-2v1h-3v-1h-3v1h-1v-1h-1v1h-2v-1h-2v1h-2v-1h-2v1h-6v-1h-1v1h-19v-1h-1v1h-4v-1h-1v1h-3v-1h-1v1h-3v-1h-3v1h-2v-1h-1v1h-1v-1h-2v1h-14v-1h-1v1h-2v-1h-1v1h-4v-1h-1v1h-7v-1h-5v1h-8v-1h-1v1h-9v-1h-1v1h-6v-1h-1v1h-6v-1h-8v1h-10v-1h-4v1h-7v-1h-1v1h-7v-1h-1v1h-16v-1h-1v1h-11v-1h-1v1h-8v-1h-1v1h-14v-1h-1v1h-2v-1h-1v1h-3v-1h-2v1h-4v-1h-2v1h-1v-1h-1v1h-1v-1h-1v1h-3v-1h-1v1h-2v-1h-1v1h-6v-1h-3v1h-2v-1h-1v1h-2v-1h-1v1h-4v-1h-1v1h-10v-1h-1v1h-6v-1h-1v1h-6v-1h-1v1h-7v-1h-1v1h-2v-1h-2v1h-3v-1h-1v1h-2z"/><path fill="#006400" d="M50 342h155v1h1v-1h140v-1h1v1h8v-1h1v1h5v1h1v-1h30v-1h1v1h19v-1h1v1h67v1h1v-1h107v1h1v-1h35v1h1v-1h145V344h-1v-1h-1v1h-20v-1h-1v1h-24v-1h-2v1h-5v-1h-1v1h-1v-1h-1v1h-7v-1h-1v1h-4v-1h-5v1h-1v-1h-2v1h-5v-1h-2v1h-6v-1h-1v1h-28v-1h-1v1h-7v-1h-3v1h-4v-1h-1v1h-7v-1h-1v1h-4v-1h-1v1h-1v-1h-2v1h-1v-1h-1v1h-11v-1h-1v1h-28v-1h-1v1h-1v-1h-1v1h-3v-1h-1v1h-3v-1h-1v1h-5v-1h-1v1h-7v-1h-1v1h-4v-1h-3v1h-2v-1h-1v1h-5v-1h-1v1h-5v-1h-1v1h-1v-1h-3v1h-10v-1h-2v1h-2v-1h-1v1h-1v-1h-1v1h-4v-1h-2v1h-14v-1h-1v1h-6v-1h-1v1h-1v-1h-1v1h-4v-1h-1v1h-8v-1h-1v1h-2v-1h-1v1h-4v-1h-1v1h-9v-1h-5v1h-4v-1h-1v1h-1v-1h-1v1h-2v-1h-1v1h-7v-1h-1v1h-26v-1h-1v1h-1v-1h-2v1h-21v-1h-1v1h-5v-1h-2v1h-5v-1h-1v1h-3v1h-1v-1h-1v-1h-1v1h-4v-1h-2v1h-10v-1h-1v1h-2v-1h-4v1h-3v-1h-2v1h-4v-1h-2v1h-13v-1h-1v1h-1v-1h-2v1h-7v-1h-1v1h-1v-1h-2v1h-5v-1h-1v1h-8v-1h-2v1h-1v-1h-1v2h-1v-1h-3v-1h-4v1h-4v-1h-2v1h-2v-1h-1v1h-10v-1h-1v1h-12v-1h-1v1h-32v-1h-3v1h-16v-1h-1v1h-3v-1h-5v1h-3v-1h-4v2h-1v-1h-1v-1h-1v1h-3v-1h-1v1h-8v-1h-1v1h-7v-1h-1v1h-5v-1h-2v1h-10v-1h-2v1h-17v-1h-1v1h-3v-1h-1v1h-2v-1h-1v1h-21v-1h-2v1h-7v-1h-3v1h-2v-1h-2v1h-8v-1h-1v1h-2z"/><path fill="#000" d="M50 357h5v1h1v-1h29v1h1v-1h17v-1h1v1h56v-1h1v1h57v1h1v-1h108v-1h1v1h39v-1h1v2h1v-1h61v1h1v-1h29v1h1v-1h69v1h1v-1h46v1h1v-1h34v1h1v-1h157V359h-1v-1h-1v1h-3v-1h-1v1h-16v-1h-4v1h-16v-1h-1v1h-2v-1h-1v1h-11v-1h-1v1h-1v-1h-1v1h-2v-1h-1v1h-3v-1h-1v1h-2v-1h-1v1h-7v-1h-1v1h-8v-1h-1v1h-22v-1h-1v1h-2v-1h-6v1h-4v-1h-1v1h-9v-1h-1v1h-1v-1h-1v1h-1v-1h-1v1h-15v-1h-2v1h-9v-1h-2v1h-1v-1h-3v1h-8v-1h-1v1h-5v-1h-2v1h-11v-1h-1v1h-2v-1h-1v1h-5v-1h-1v1h-7v-1h-4v1h-4v-1h-1v1h-6v-1h-2v1h-1v-1h-1v1h-2v-1h-3v1h-3v-1h-5v1h-5v-1h-1v1h-5v-1h-1v1h-2v-1h-2v1h-3v-1h-1v1h-4v-1h-1v1h-2v-1h-1v1h-3v-1h-2v1h-1v-1h-3v1h-7v-1h-1v1h-1v-1h-2v1h-1v-1h-1v1h-3v-1h-1v1h-2v-1h-1v1h-4v-1h-2v1h-8v-1h-3v1h-4v-1h-2v1h-1v-1h-1v1h-2v-1h-1v1h-13v-1h-1v1h-3v-1h-1v1h-2v-1h-1v1h-13v-1h-1v1h-7v-1h-2v1h-4v-1h-1v1h-15v-1h-1v1h-15v-1h-1v1h-1v-1h-1v1h-2v-1h-2v1h-15v-1h-4v1h-2v-1h-1v1h-6v-1h-2v1h-5v-1h-1v1h-8v-1h-2v1h-7v-1h-1v1h-3v-1h-1v1h-4v-1h-1v1h-2v-1h-1v1h-1v-1h-3v1h-2v-1h-3v1h-1v-1h-2v1h-2v-1h-1v1h-12v-1h-2v1h-16v-1h-1v1h-2v-1h-2v1h-3v-1h-1v1h-5v-1h-3v1h-2v-1h-4v1h-9v-1h-1v1h-5v-1h-1v1h-1v-1h-2v1h-4v-1h-4v1h-1v-1h-1v1h-3v-1h-1v1h-1v-1h-1v1h-5v-1h-1v1h-1v1h-1v-2h-2v1h-2v-1h-1v1h-1v-1h-1v1h-15v-1h-2v1h-7v-1h-2v1h-3v-1h-2v1h-5v-1h-5v1h-2v-1h-2v1h-1v-1h-1v1h-7v-1h-1v1h-1v-1h-1v1h-2v-1h-1v1h-1v-1h-1v1h-16v-1h-1v1h-1v-1h-1v1h-1v-1h-1v1h-4v-1h-4v1h-3v-1h-2v1h-3v-1h-1v1h-3v-1h-1v1h-2v-1h-1v1h-1v-1h-2v1h-2v-1h-1v1h-5v-1h-1z"/><path fill="#f00" d="M50 372h16v-1h1v1h12v1h1v-1h31v1h1v-1h3v1h1v-1h162v1h1v-1h76v1h1v-1h34v1h1v-1h57v1h1v-1h1v1h1v-1h241v1h1v-1h77V373h-1v1h-3v-1h-1v1h-4v-1h-2v1h-5v-1h-1v1h-13v-1h-2v1h-1v-1h-1v1h-7v-1h-4v1h-2v-1h-1v1h-2v-1h-1v1h-11v-1h-1v1h-1v1h-1v-1h-2v-1h-2v1h-1v-1h-1v1h-1v-1h-1v1h-1v-1h-1v1h-3v-1h-2v1h-7v-1h-1v1h-3v-1h-1v1h-5v-1h-2v1h-3v-1h-1v1h-5v-1h-1v1h-7v-1h-1v1h-2v-1h-1v1h-1v-1h-1v1h-10v-1h-3v1h-3v-1h-2v1h-2v-1h-1v1h-2v-1h-1v1h-4v-1h-2v1h-3v-1h-1v1h-5v-1h-1v1h-9v-1h-1v1h-6v-1h-2v1h-1v-1h-2v1h-1v-1h-1v1h-1v-1h-1v1h-1v-1h-1v1h-4v-1h-1v1h-9v-1h-1v1h-1v-1h-1v1h-9v-1h-3v1h-12v-1h-1v1h-2v-1h-1v1h-2v-1h-4v1h-6v-1h-1v1h-4v-1h-1v1h-5v-1h-1v1h-7v-1h-1v1h-9v-1h-2v1h-1v-1h-1v1h-2v-1h-4v1h-8v-1h-1v1h-14v-1h-1v1h-1v-1h-1v1h-1v-1h-2v1h-8v-1h-2v1h-3v-1h-2v1h-4v-1h-1v1h-4v-1h-1v1h-9v-1h-2v1h-3v-1h-2v1h-2v-1h-2v1h-4v-1h-2v1h-4v-1h-1v1h-2v-1h-1v1h-1v-1h-1v1h-3v-1h-1v1h-1v-1h-1v1h-2v-1h-3v1h-2v-1h-1v1h-2v-1h-1v1h-14v-1h-3v1h-7v-1h-1v1h-1v-1h-1v1h-5v-1h-1v1h-3v-1h-2v1h-2v-1h-3v1h-1v-1h-1v1h-2v-1h-3v1h-8v-1h-1v1h-5v-1h-2v1h-10v-1h-1v1h-1v-1h-2v1h-1v-1h-1v1h-3v-1h-1v1h-2v-1h-3v1h-6v-1h-1v1h-10v-1h-1v1h-1v-1h-1v1h-1v-1h-1v1h-2v-1h-1v1h-2v-1h-2v1h-3v-1h-1v1h-1v-1h-1v1h-3v-1h-1v1h-5v-1h-3v1h-1v-1h-1v1h-1v-1h-1v1h-6v-1h-1v1h-9v-1h-2v1h-1v-1h-1v1h-4v-1h-2v1h-2v-1h-1v1h-2v-1h-2v1h-1v-1h-2v1h-5v-1h-2v1h-8v-1h-1v1h-2v-1h-1v1h-6v-1h-1v1h-1v-1h-2v1h-9v-1h-1v1h-1v-1h-1v1h-2v-1h-1v1h-5v-1h-1v1h-1v-1h-1v1h-10v-1h-1v1h-1v-1h-2v1h-4v-1h-1v1h-10v-1h-1v1h-8v-1h-2v1h-5v-1h-1v1h-6v-1h-1v1h-5v-1h-2v1h-1v-1h-2v1h-7v-1h-1v1h-8v-1h-1v1h-8v-1h-1v1h-1v-1h-3v1h-5z"/><path fill="#00f" d="M50 387h102v-1h1v1h16v1h1v-1h117v1h1v-1h39v1h1v-1h24v1h1v-1h4v1h1v-1h11v-1h1v1h21v1h1v-1h81v1h1v-1h5v1h1v-1h29v-1h1v1h51v1h1v-1h40v1h1v-1h39v1h1v-1h56v1h1v-1h47v1h1v-1h22V389h-6v-1h-2v1h-3v-1h-2v1h-3v-1h-1v1h-4v-1h-1v1h-1v-1h-1v1h-4v-1h-3v1h-6v-1h-1v1h-6v-1h-1v1h-1v-1h-1v1h-12v-1h-2v1h-1v-1h-3v1h-2v-1h-3v1h-4v-1h-1v1h-2v-1h-1v1h-1v-1h-2v1h-12v-1h-1v1h-1v-1h-2v1h-4v-1h-2v1h-1v-1h-3v1h-4v-1h-1v1h-3v-1h-1v1h-2v-1h-1v1h-9v-1h-1v1h-5v-1h-1v1h-2v-1h-3v1h-5v-1h-1v1h-3v-1h-3v1h-2v-1h-1v1h-1v-1h-3v1h-2v-1h-1v1h-1v-1h-4v1h-6v-1h-2v1h-5v-1h-2v1h-4v-1h-1v1h-2v-1h-1v1h-1v-1h-1v1h-1v-1h-1v1h-3v-1h-1v1h-1v-1h-2v1h-9v-1h-1v1h-7v-1h-1v1h-6v-1h-1v1h-20v-1h-1v1h-11v-1h-2v1h-12v-1h-1v1h-3v-1h-1v1h-3v-1h-2v1h-3v-1h-1v1h-1v-1h-1v1h-3v-1h-3v1h-1v-1h-1v1h-4v-1h-1v1h-1v-1h-1v1h-2v-1h-4v1h-1v-1h-2v1h-2v-1h-1v1h-1v-1h-1v1h-7v-1h-1v1h-2v-1h-2v1h-3v-1h-1v1h-3v-1h-1v1h-2v-1h-1v1h-4v-1h-1v1h-8v-1h-2v1h-1v-1h-1v1h-2v-1h-3v1h-7v-1h-2v1h-2v-1h-5v1h-9v-1h-4v1h-4v-1h-1v1h-3v-1h-1v1h-2v-1h-2v1h-4v-1h-1v1h-1v-1h-1v1h-2v-1h-1v1h-2v-1h-1v1h-7v-1h-1v1h-1v-1h-1v1h-1v-1h-1v1h-8v-1h-1v1h-3v-1h-1v1h-1v-1h-1v1h-6v-1h-1v1h-6v-1h-1v1h-3v-1h-1v1h-9v-1h-1v1h-3v-1h-2v1h-1v-1h-4v1h-1v-1h-2v1h-3v-1h-1v1h-2v-1h-1v1h-8v-1h-2v1h-10v-1h-3v1h-2v-1h-3v1h-8v-1h-1v1h-9v-1h-1v1h-19v-1h-1v1h-1v-1h-1v1h-1v-1h-4v1h-4v-1h-2v1h-1v-1h-1v1h-2v-1h-1v1h-7v-1h-1v1h-4v-1h-2v1h-4v-1h-2v1h-4v-1h-1v1h-4v-1h-1v1h-19v-1h-2v1h-3v-1h-2v1h-6v-1h-4v1h-7v-1h-2v1h-2v-1h-1v1h-5v-1h-1v1h-1v-1h-1v1h-11v-1h-1v1h-7v-1h-1v1h-1v-1h-1v1h-1v-1h-1v1h-4v-1h-1v1h-1v-1h-2v1h-4v-1h-2v1h-2v-1h-1v1h-1v-1h-1v1h-5v-1h-2v1h-2v-1h-1v1h-4z"/><path fill="#006400" d="M50 402h137v1h1v-1h96v1h1v-1h68v1h1v-1h63v-1h1v1h31v1h1v-1h6v1h1v-1h17v1h1v-1h36v-1h1v1h21v1h1v-1h187v-1h1v1h48V404h-5v-1h-1v1h-9v-1h-2v1h-2v-1h-1v1h-3v-1h-3v1h-11v-1h-2v1h-11v-1h-1v1h-3v-1h-3v1h-7v-1h-1v1h-1v-1h-1v1h-8v-1h-2v1h-1v-1h-1v1h-3v-1h-1v1h-1v-1h-1v1h-1v-1h-1v1h-12v-1h-1v1h-2v-1h-2v1h-8v-1h-2v1h-8v-1h-1v1h-7v-1h-1v1h-1v-1h-1v1h-1v-1h-1v1h-3v-1h-2v1h-2v-1h-2v1h-3v-1h-2v1h-1v-1h-1v2h-1v-1h-4v-1h-1v1h-4v-1h-3v1h-5v-1h-1v1h-4v-1h-1v1h-21v-1h-1v1h-9v-1h-1v1h-2v-1h-1v1h-1v-1h-1v1h-3v-1h-1v1h-2v-1h-1v1h-5v-1h-1v1h-6v-1h-4v1h-3v-1h-1v1h-7v-1h-1v1h-4v-1h-2v1h-4v-1h-1v1h-5v-1h-2v1h-1v-1h-1v1h-16v-1h-3v1h-3v-1h-1v1h-1v-1h-1v1h-9v-1h-2v1h-4v-1h-2v1h-7v-1h-1v1h-2v-1h-1v1h-2v-1h-1v1h-2v-1h-1v1h-1v-1h-1v1h-10v-1h-1v1h-4v-1h-3v1h-3v-1h-1v1h-1v-1h-1v1h-7v-1h-1v1h-6v-1h-1v1h-5v-1h-1v1h-4v-1h-1v1h-7v-1h-1v1h-6v-1h-2v1h-3v-1h-1v1h-15v-1h-2v1h-3v-1h-1v1h-3v-1h-2v1h-5v-1h-1v1h-4v-1h-1v1h-16v-1h-3v1h-6v-1h-2v1h-5v-1h-2v1h-3v-1h-1v1h-1v-1h-1v1h-12v-1h-4v1h-4v-1h-3v1h-3v-1h-1v1h-3v-1h-1v1h-2v-1h-2v1h-10v-1h-5v1h-2v-1h-2v1h-1v-1h-1v1h-3v-1h-2v1h-10v-1h-1v1h-3v-1h-1v1h-2v-1h-1v1h-4v-1h-1v1h-3v1h-1v-1h-1v-1h-1v1h-1v-1h-2v1h-8v-1h-1v1h-7v-1h-1v1h-9v-1h-1v1h-5v-1h-2v1h-7v-1h-4v1h-8v1h-1v-1h-1v-1h-1v1h-16v-1h-2v1h-4v-1h-3v1h-1v-1h-1v1h-1v-1h-1v1h-4v-1h-1v1h-1v-1h-4v1h-3v-1h-3v1h-9v-1h-2v1h-3v-1h-2v1h-7v-1h-1v1h-4v-1h-1v1h-1v-1h-1v1h-3v-1h-1v1h-5v-1h-1v1h-10z"/><path fill="#000" d="M50 418h1v-1h7v-1h1v1h25v-1h1v1h99v-1h1v2h1v-1h8v-1h1v1h76v1h1v-1h41v-1h1v1h12v1h1v-1h46v1h1v-1h215v1h1v-1h15v1h1v-1h63v1h1v-1h4v1h1v-1h6v1h1v-1h36v1h1v-1h51V419h-1v-1h-2v1h-2v-1h-3v1h-9v-1h-1v1h-2v-1h-1v1h-1v-1h-1v1h-4v-1h-1v1h-15v-1h-1v1h-1v-1h-2v1h-1v-1h-3v1h-1v-1h-2v1h-2v-1h-1v1h-2v-1h-1v1h-4v1h-1v-1h-2v-1h-1v1h-7v-1h-1v1h-2v-1h-1v1h-1v-1h-3v1h-6v-1h-1v1h-2v-1h-1v1h-3v-1h-1v1h-7v-1h-2v1h-1v-1h-1v1h-1v-1h-2v1h-1v-1h-1v1h-1v-1h-2v1h-4v-1h-1v1h-6v-1h-1v1h-3v-1h-2v1h-3v-1h-1v1h-1v-1h-2v1h-2v-1h-1v1h-6v-1h-3v1h-1v-1h-3v1h-1v-1h-2v1h-1v-1h-1v1h-4v-1h-1v1h-12v-1h-2v1h-7v-1h-1v1h-1v-1h-2v1h-16v-1h-1v1h-6v-1h-1v1h-9v-1h-4v1h-2v-1h-4v1h-4v-1h-3v1h-3v-1h-3v1h-3v-1h-1v1h-5v-1h-1v1h-2v-1h-1v1h-14v-1h-1v1h-5v-1h-3v1h-6v-1h-2v1h-2v-1h-2v1h-14v-1h-2v1h-4v-1h-1v1h-5v-1h-1v1h-4v-1h-2v1h-17v-1h-1v1h-12v-1h-1v1h-4v-1h-1v1h-4v-1h-1v1h-1v-1h-1v1h-1v-1h-1v1h-10v-1h-1v1h-2v-1h-1v1h-1v-1h-4v1h-2v-1h-1v1h-10v-1h-3v1h-4v-1h-1v1h-2v-1h-1v1h-9v-1h-1v1h-1v-1h-3v1h-4v-1h-1v1h-6v-1h-1v1h-6v-1h-1v1h-1v-1h-4v1h-6v-1h-2v1h-1v-1h-1v1h-1v-1h-1v1h-9v-1h-1v1h-4v-1h-2v1h-3v-1h-2v1h-3v-1h-2v1h-8v-1h-1v1h-1v-1h-1v1h-2v-1h-1v1h-12v-1h-1v1h-3v-1h-3v1h-15v-1h-1v1h-3v-1h-2v1h-1v-1h-1v1h-1v-1h-1v1h-2v-1h-1v1h-12v-1h-1v1h-21v-1h-2v1h-1v-1h-2v1h-7v-1h-2v1h-7v-1h-1v1h-10v-1h-1v1h-3v-1h-1v1h-3v-1h-6v1h-1v-1h-1v1h-13v-1h-1v1h-2v-1h-2v1h-15v-1h-2v1h-1v-1h-1v1h-1v-1h-2v1h-2v-1h-1v1h-12v-1h-3v1h-3v-1h-1v1h-7v-1h-1v1h-10v-1h-1v1h-4z"/><path fill="#f00" d="M50 432h96v-1h1v1h55v1h1v-1h11v1h1v-1h79v1h1v-1h89v1h1v-1h215v1h1v-1h2v-1h1v1h60v1h1v-1h105V434h-2v-1h-1v1h-7v-1h-1v1h-1v-1h-1v1h-2v-1h-6v1h-2v-1h-1v1h-1v-1h-1v1h-8v-1h-2v1h-5v-1h-1v1h-4v-1h-1v1h-3v-1h-2v1h-6v-1h-1v1h-7v-1h-2v1h-3v-1h-1v1h-5v-1h-1v1h-4v-1h-1v1h-13v-1h-1v1h-2v-1h-1v1h-11v-1h-1v1h-4v-1h-1v1h-1v-1h-1v1h-5v-1h-2v1h-3v-1h-2v1h-5v-1h-2v1h-1v-1h-2v1h-1v-1h-1v1h-3v-1h-4v1h-1v-1h-3v1h-2v-1h-2v1h-1v-1h-1v1h-5v-1h-1v1h-13v-1h-2v1h-1v-1h-3v1h-10v-1h-1v1h-1v-1h-1v1h-2v-1h-1v1h-3v-1h-2v1h-1v-1h-1v1h-2v-1h-1v1h-15v-1h-2v1h-1v-1h-2v1h-1v-1h-1v1h-2v-1h-1v1h-9v-1h-2v1h-4v-1h-4v1h-6v-1h-1v1h-13v-1h-1v1h-9v-1h-1v1h-5v-1h-1v1h-1v-1h-4v1h-11v-1h-1v1h-6v-1h-2v1h-2v-1h-3v1h-10v-1h-2v1h-1v-1h-1v1h-2v-1h-2v1h-4v-1h-1v1h-3v-1h-3v1h-9v-1h-1v1h-9v-1h-1v1h-8v-1h-1v1h-1v-1h-4v1h-3v-1h-1v1h-6v-1h-1v1h-2v-1h-1v1h-3v-1h-2v1h-1v-1h-1v1h-1v-1h-1v1h-2v-1h-1v1h-1v-1h-2v1h-1v-1h-1v1h-7v-1h-1v1h-5v-1h-1v1h-2v-1h-1v1h-1v-1h-1v1h-1v-1h-1v1h-2v-1h-1v1h-7v-1h-1v1h-1v-1h-1v1h-1v-1h-2v1h-3v-1h-1v1h-1v-1h-4v1h-5v-1h-1v1h-4v-1h-3v1h-3v-1h-2v1h-7v-1h-2v1h-1v-1h-1v1h-3v-1h-2v1h-3v-1h-1v1h-16v-1h-4v1h-6v-1h-1v1h-2v-1h-1v1h-8v-1h-1v1h-1v-1h-2v1h-10v-1h-2v1h-6v-1h-1v1h-2v-1h-1v1h-5v-1h-3v1h-4v-1h-1v1h-3v-1h-1v1h-1v-1h-2v1h-15v-1h-1v1h-1v-1h-1v1h-3v-1h-1v1h-22v-1h-1v1h-4v1h-1v-1h-4v-1h-2v1h-7v-1h-1v1h-1v-1h-1v1h-1v-1h-2v1h-1v-1h-1v1h-6v-1h-2v1h-5v-1h-1v1h-9v-1h-1v1h-11v-1h-1v1h-4v-1h-1v1h-4v-1h-1v1h-1v-1h-1v2h-1v-1h-3v-1h-2v1h-2v-1h-2v1h-1v1h-1v-1h-2v-1h-2v1h-1z"/><path fill="#00f" d="M50 447h137v1h1v-1h155v1h1v-1h96v1h1v-1h198v1h1v-1h130V449h-6v-1h-1v1h-3v-1h-1v1h-2v-1h-1v1h-2v-1h-1v1h-8v-1h-2v1h-21v-1h-2v1h-3v-1h-1v1h-1v-1h-1v1h-3v-1h-1v1h-6v-1h-1v1h-9v-1h-2v1h-19v-1h-1v1h-4v-1h-2v1h-1v-1h-1v1h-2v-1h-1v1h-9v-1h-2v1h-3v-1h-2v1h-3v-1h-1v1h-4v-1h-1v1h-4v-1h-1v1h-4v-1h-2v1h-24v-1h-5v1h-1v-1h-2v1h-2v-1h-1v1h-6v-1h-2v1h-5v-1h-1v1h-10v-1h-1v1h-4v-1h-1v1h-5v-1h-1v1h-2v-1h-2v1h-1v-1h-1v1h-2v-1h-4v1h-3v-1h-1v1h-2v-1h-1v1h-3v-1h-2v1h-8v-1h-3v1h-6v-1h-1v1h-3v-1h-1v1h-2v-1h-2v1h-2v-1h-5v1h-1v-1h-1v1h-15v-1h-2v1h-1v-1h-1v1h-4v-1h-1v1h-3v-1h-1v1h-1v-1h-1v1h-2v-1h-1v1h-8v-1h-1v1h-1v-1h-1v1h-2v-1h-2v1h-13v-1h-1v1h-4v-1h-1v1h-2v-1h-1v1h-9v-1h-1v1h-1v-1h-4v1h-4v-1h-1v1h-1v-1h-1v1h-1v-1h-1v1h-7v-1h-1v1h-5v-1h-1v1h-1v-1h-3v1h-6v-1h-1v1h-9v-1h-2v1h-4v-1h-3v1h-5v-1h-1v1h-18v-1h-1v1h-5v-1h-1v1h-1v-1h-1v1h-1v-1h-2v1h-1v-1h-2v1h-8v-1h-1v1h-3v-1h-1v1h-2v-1h-3v1h-12v-1h-2v1h-4v-1h-1v1h-10v-1h-1v1h-9v-1h-1v1h-3v-1h-3v1h-6v-1h-3v1h-1v-1h-1v1h-9v-1h-3v1h-1v-1h-1v1h-8v-1h-2v1h-10v-1h-1v1h-1v-1h-1v1h-1v-1h-1v1h-1v-1h-1v1h-1v-1h-2v1h-13v-1h-2v1h-19v-1h-1v1h-1v-1h-1v1h-10v-1h-1v1h-2v-1h-1v1h-2v-1h-1v1h-1v-1h-4v1h-4v-1h-1v1h-1v-1h-1v1h-10v-1h-1v1h-7v-1h-2v1h-8v-1h-2v1h-1v-1h-1v1h-12v-1h-1v1h-7v-1h-2v1h-2v-1h-1v1h-1v-1h-2v1h-10v-1h-1v1h-3v-1h-1v1h-4v-1h-1v1h-4z"/><path fill="#006400" d="M50 462h66v1h1v-1h233v1h1v-1h78v1h1v-1h23v1h1v-1h48v1h1v-1h22v1h1v-1h29v1h1v-1h88v1h1v-1h125V464h-4v-1h-1v1h-2v-1h-1v1h-2v-1h-2v1h-6v-1h-2v1h-1v-1h-1v1h-3v-1h-1v1h-10v-1h-2v1h-1v-1h-1v1h-2v-1h-1v1h-1v-1h-1v1h-1v-1h-2v1h-4v-1h-2v1h-4v-1h-1v1h-4v-1h-2v1h-3v-1h-1v1h-1v-1h-1v1h-7v-1h-1v1h-10v-1h-1v1h-9v-1h-1v1h-1v-1h-3v1h-2v-1h-1v1h-1v-1h-3v1h-3v-1h-2v1h-14v-1h-1v1h-4v-1h-2v1h-1v-1h-1v1h-5v-1h-2v1h-2v-1h-1v1h-4v-1h-1v1h-2v-1h-1v1h-1v-1h-1v1h-2v-1h-1v1h-4v-1h-2v1h-4v-1h-1v1h-2v-1h-1v1h-4v-1h-4v1h-3v-1h-1v1h-7v-1h-1v1h-6v-1h-4v1h-5v-1h-1v1h-4v-1h-3v1h-5v-1h-1v1h-3v-1h-2v1h-2v-1h-4v1h-1v-1h-1v1h-1v-1h-1v1h-9v-1h-2v1h-15v-1h-1v1h-3v-1h-1v1h-2v-1h-1v1h-12v1h-1v-2h-2v1h-10v-1h-2v1h-2v-1h-2v1h-1v-1h-3v1h-16v-1h-1v1h-4v-1h-1v1h-8v-1h-1v1h-2v-1h-1v1h-2v-1h-2v1h-2v-1h-1v1h-5v-1h-2v1h-4v-1h-2v1h-1v-1h-2v1h-3v-1h-1v1h-2v-1h-4v1h-1v-1h-1v1h-10v-1h-4v1h-1v-1h-2v1h-1v-1h-1v1h-2v-1h-1v1h-1v-1h-1v1h-7v-1h-1v1h-3v-1h-1v1h-2v-1h-1v1h-5v-1h-1v1h-2v-1h-1v1h-6v-1h-1v1h-2v-1h-2v1h-2v-1h-1v1h-15v-1h-1v1h-5v-1h-1v1h-18v-1h-1v1h-2v-1h-1v1h-3v-1h-1v1h-4v-1h-1v1h-1v-1h-1v1h-2v-1h-1v1h-19v-1h-1v1h-6v-1h-2v1h-4v-1h-1v1h-2v-1h-2v1h-6v-1h-1v1h-6v-1h-1v1h-1v-1h-1v1h-4v-1h-2v1h-6v-1h-1v1h-1v-1h-1v1h-5v-1h-1v1h-6v-1h-1v1h-4v-1h-1v1h-4v-1h-2v1h-3v-1h-1v1h-3v-1h-1v1h-2v-1h-1v1h-1v-1h-1v1h-5v-1h-1v1h-3v-1h-1v1h-4v-1h-1v1h-2v-1h-1v1h-1v-1h-2v1h-6v-1h-6v1h-3v-1h-1v1h-3v-1h-1v1h-1v-1h-1v1h-2v-1h-3v1h-6v-1h-1v1h-4v-1h-1v1h-2v-1h-1v1h-2v-1h-4v1h-6v-1h-1v1h-1v-1h-1v1h-2v-1h-1v1h-7v-1h-1v1h-3v-1h-1v2h-1v-2h-1v1h-2v-1h-1v1h-3v-1h-1v1h-1v-1h-1v1h-5v-1h-1v1h-5v-1h-2z"/><path fill="#000" d="M50 477h26v1h1v-1h62v1h1v-1h388v-1h1v1h58v-1h1v1h182V478h-1v1h-1v-1h-1v1h-5v-1h-1v1h-1v-1h-3v1h-3v1h-1v-1h-1v-1h-1v1h-2v-1h-1v1h-12v-1h-1v1h-2v-1h-2v1h-7v-1h-1v1h-2v-1h-1v1h-3v-1h-1v1h-4v-1h-1v1h-1v-1h-4v1h-2v-1h-1v1h-7v-1h-2v1h-1v-1h-1v1h-3v-1h-1v1h-1v-1h-1v1h-2v-1h-2v1h-1v-1h-1v1h-1v-1h-2v1h-7v-1h-1v1h-3v-1h-1v1h-2v-1h-1v1h-2v-1h-5v1h-1v-1h-1v1h-10v-1h-1v1h-1v-1h-1v1h-10v-1h-2v1h-2v-1h-1v1h-5v-1h-1v1h-5v-1h-1v1h-3v-1h-1v1h-2v-1h-3v1h-1v-1h-1v1h-10v-1h-4v1h-6v-1h-1v1h-1v-1h-1v1h-10v-1h-1v1h-1v-1h-1v1h-2v-1h-2v1h-3v-1h-1v1h-14v-1h-1v1h-2v-1h-1v1h-1v-1h-1v1h-3v-1h-1v1h-1v-1h-4v1h-4v-1h-1v1h-4v-1h-1v1h-9v-1h-1v1h-12v-1h-1v1h-15v-1h-1v1h-4v-1h-2v1h-2v-1h-1v1h-1v-1h-1v1h-1v-1h-1v1h-2v-1h-2v1h-4v-1h-1v1h-7v-1h-1v1h-1v-1h-2v1h-2v-1h-1v1h-4v-1h-4v1h-1v-1h-4v1h-8v-1h-1v1h-1v-1h-1v1h-9v-1h-2v1h-3v-1h-3v1h-10v-1h-1v1h-3v-1h-1v1h-4v-1h-1v1h-11v-1h-1v1h-2v-1h-1v1h-1v-1h-4v1h-1v-1h-6v1h-1v-1h-1v1h-9v-1h-1v1h-1v-1h-1v1h-9v-1h-1v1h-2v-1h-1v1h-2v-1h-1v1h-5v-1h-1v1h-7v-1h-2v1h-1v-1h-2v1h-6v-1h-1v1h-2v-1h-1v1h-4v-1h-1v1h-1v-1h-1v1h-6v-1h-1v1h-2v-1h-1v1h-7v-1h-1v1h-2v-1h-1v1h-12v-1h-1v1h-3v-1h-1v1h-2v-1h-2v1h-6v-1h-1v1h-1v-1h-1v1h-4v-1h-1v1h-2v-1h-1v1h-6v-1h-2v1h-9v-1h-3v1h-1v1h-1v-1h-5v-1h-1v1h-4v-1h-1v1h-8v-1h-1v1h-1v-1h-1v1h-1v-1h-1v1h-3v-1h-1v1h-3v-1h-3v1h-1v-1h-2v1h-13v-1h-1v1h-1v-1h-3v1h-6v-1h-3v1h-3v-1h-2v1h-2v-1h-2v1h-2v-1h-1v1h-1v-1h-1v1h-11v-1h-2v1h-1v-1h-1v1h-7v-1h-2v1h-4v-1h-2v1h-2v-1h-1v1h-1v-1h-1v1h-11v-1h-3v2h-1v-1h-1v-1h-2v1h-7v-1h-5v1h-4v-1h-2v1h-1v-1h-2v1h-8z"/><path fill="#f00" d="M50 492h36v1h1v-1h125v1h1v-1h95v1h1v-1h113v1h1v-1h92v1h1v-1h5v1h1v-1h70v1h1v-1h127v1h1v-1h49V494h-2v-1h-3v1h-2v-1h-1v1h-5v-1h-2v1h-5v-1h-1v1h-12v-1h-3v1h-2v-1h-1v1h-1v-1h-3v1h-10v-1h-1v1h-3v-1h-1v1h-3v-1h-1v1h-1v-1h-1v1h-2v-1h-2v1h-3v-1h-1v1h-1v-1h-2v1h-16v-1h-1v1h-1v1h-1v-2h-1v2h-1v-2h-2v1h-5v-1h-1v1h-2v-1h-1v1h-12v-1h-1v1h-2v-1h-2v1h-4v-1h-1v1h-2v-1h-5v1h-4v-1h-3v1h-4v-1h-1v1h-1v-1h-1v1h-5v-1h-4v1h-5v-1h-2v1h-6v-1h-1v1h-5v-1h-1v1h-2v-1h-1v1h-4v-1h-1v1h-1v-1h-1v1h-1v-1h-1v1h-1v-1h-4v1h-13v-1h-3v1h-4v-1h-2v1h-7v-1h-1v1h-2v-1h-1v1h-3v-1h-1v1h-3v-1h-1v1h-5v-1h-1v1h-1v-1h-1v1h-2v-1h-1v1h-4v-1h-2v1h-2v-1h-2v1h-2v-1h-1v1h-14v-1h-1v1h-3v-1h-4v1h-2v-1h-2v1h-1v-1h-1v1h-6v-1h-2v1h-20v-1h-1v1h-17v-1h-1v1h-3v-1h-4v1h-11v-1h-1v1h-6v-1h-1v1h-1v-1h-2v1h-7v-1h-1v1h-2v-1h-2v1h-7v-1h-4v1h-2v-1h-1v1h-8v-1h-1v1h-5v-1h-1v1h-6v-1h-1v1h-22v-1h-1v1h-4v-1h-1v1h-3v-1h-3v1h-8v-1h-1v1h-27v-1h-1v1h-8v-1h-1v1h-14v-1h-1v1h-8v-1h-1v1h-4v-1h-2v1h-1v-1h-1v1h-13v-1h-1v1h-1v-1h-1v1h-3v-1h-6v1h-1v-1h-1v1h-7v-1h-1v1h-6v-1h-1v1h-3v-1h-6v1h-10v-1h-2v1h-3v-1h-1v1h-8v-1h-2v1h-5v-1h-1v1h-7v-1h-1v1h-7v-1h-3v1h-5v-1h-2v1h-3v-1h-1v1h-4v-1h-1v1h-1v-1h-1v1h-1v-1h-1v1h-6v-1h-3v1h-4v-1h-3v1h-1v-1h-1v1h-1v-1h-1v1h-8v-1h-3v1h-1v-1h-3v1h-1v-1h-1v1h-2v-1h-1v1h-1v-1h-1v1h-1v-1h-1v1h-2v-1h-1v1h-2v-1h-1v1h-1v-1h-1v1h-2v-1h-1v1h-15v-1h-1v1h-3z"/><path fill="#00f" d="M50 507h65v1h1v-1h310v1h1v-1h8v1h1v-1h5v1h1v-1h191v1h1v-1h38v1h1v-1h71v1h1v-1h25V509h-11v-1h-1v1h-5v-1h-1v1h-4v-1h-1v1h-7v-1h-2v1h-6v-1h-1v1h-2v-1h-1v1h-6v-1h-2v1h-7v-1h-1v1h-2v-1h-2v1h-4v-1h-1v1h-5v-1h-2v1h-9v-1h-1v1h-2v-1h-1v1h-2v-1h-1v1h-6v-1h-1v1h-5v-1h-1v1h-2v-1h-1v1h-5v-1h-1v1h-5v-1h-1v1h-2v-1h-1v1h-8v-1h-1v1h-2v-1h-3v1h-6v-1h-1v1h-2v-1h-1v1h-3v-1h-6v1h-2v-1h-1v1h-1v-1h-1v1h-7v-1h-1v1h-4v-1h-1v1h-2v-1h-3v1h-3v-1h-1v1h-4v-1h-2v1h-10v-1h-1v1h-8v-1h-5v1h-5v-1h-3v1h-3v-1h-2v1h-12v-1h-2v1h-10v-1h-1v1h-3v-1h-1v1h-3v-1h-1v1h-5v-1h-1v1h-1v-1h-3v1h-1v-1h-1v1h-10v-1h-1v1h-2v-1h-2v1h-1v-1h-1v1h-1v-1h-1v1h-1v-1h-1v1h-1v-1h-2v1h-2v-1h-1v1h-4v-1h-2v1h-7v-1h-2v1h-4v-1h-1v1h-4v-1h-1v1h-3v-1h-1v1h-5v-1h-1v1h-13v-1h-1v1h-2v-1h-2v1h-3v-1h-1v1h-10v-1h-1v1h-1v-1h-2v1h-3v-1h-2v1h-6v-1h-1v1h-1v-1h-1v1h-6v-1h-1v1h-3v-1h-2v1h-1v-1h-1v1h-6v-1h-3v1h-3v1h-1v-1h-1v-1h-1v1h-2v-1h-2v1h-2v-1h-1v1h-1v-1h-2v1h-4v-1h-1v1h-4v-1h-2v1h-5v-1h-1v1h-8v-1h-1v1h-1v-1h-2v1h-3v-1h-1v1h-6v-1h-3v1h-19v-1h-1v1h-28v-1h-1v1h-13v-1h-1v1h-1v-1h-3v1h-2v-1h-2v1h-9v-1h-1v1h-2v-1h-1v1h-3v-1h-1v1h-2v-1h-1v1h-1v-1h-1v1h-1v-1h-1v1h-1v-1h-1v1h-8v-1h-1v1h-1v-1h-1v1h-9v-1h-1v1h-2v-1h-1v1h-1v-1h-1v1h-2v-1h-1v1h-5v-1h-1v1h-4v-1h-2v1h-2v-1h-1v1h-1v-1h-3v1h-4v-1h-1v1h-6v-1h-1v1h-1v-1h-2v1h-13v-1h-1v1h-7v-1h-1v1h-1v-1h-1v1h-28v-1h-1v1h-6v-1h-1v1h-1v-1h-1v1h-8v-1h-1v1h-2v-1h-1v1h-5v-1h-1v1h-4v-1h-2v1h-2v-1h-1v1h-5v-1h-2v1h-2z"/><path fill="#006400" d="M50 522h216v-1h1v1h50v-1h1v1h56v1h1v-1h128v1h1v-1h29v1h1v-1h97v1h1v-1h120v1h1v-1h16v1h1V524h-18v-1h-2v1h-6v-1h-2v1h-2v-1h-3v1h-8v-1h-1v1h-3v-1h-1v1h-9v-1h-1v1h-5v-1h-2v1h-5v-1h-1v1h-6v-1h-2v1h-10v-1h-1v1h-1v-1h-1v1h-4v-1h-1v1h-4v-1h-1v1h-11v-1h-1v1h-10v-1h-3v1h-1v-1h-4v1h-7v-1h-1v1h-1v-1h-5v1h-4v-1h-2v1h-3v1h-1v-1h-25v-1h-1v1h-2v-1h-1v1h-3v-1h-2v1h-2v-1h-1v1h-2v-1h-1v1h-5v-1h-2v1h-2v-1h-1v1h-3v-1h-1v1h-10v-1h-2v1h-6v-1h-1v1h-16v-1h-2v1h-1v-1h-1v1h-2v-1h-1v1h-7v-1h-1v1h-2v-1h-1v1h-2v-1h-2v1h-14v-1h-2v1h-1v-1h-1v1h-6v-1h-1v1h-4v-1h-3v1h-1v-1h-2v1h-3v-1h-1v1h-2v-1h-1v1h-2v-1h-1v1h-3v-1h-1v1h-10v-1h-1v1h-18v-1h-5v1h-5v-1h-1v1h-2v-1h-1v1h-5v-1h-1v1h-2v-1h-1v1h-14v-1h-3v1h-2v-1h-1v1h-1v-1h-4v1h-5v-1h-1v1h-9v-1h-2v1h-2v-1h-1v1h-1v-1h-1v1h-3v-1h-1v1h-2v-1h-1v1h-10v-1h-1v1h-5v-1h-1v1h-26v-1h-1v1h-12v-1h-1v1h-19v-1h-1v1h-5v1h-1v-1h-6v-1h-1v1h-1v-1h-2v1h-3v-1h-1v1h-7v-1h-1v1h-1v-1h-1v1h-18v-1h-1v1h-5v-1h-3v1h-2v-1h-2v1h-5v-1h-1v1h-6v-1h-3v1h-11v-1h-2v1h-14v-1h-1v1h-4v-1h-1v1h-3v-1h-2v1h-4v-1h-2v1h-2v-1h-1v1h-11v-1h-1v1h-8v-1h-2v1h-4v-1h-1v1h-3v-1h-1v1h-2v-1h-1v1h-6v-1h-1v1h-13v-1h-1v1h-1v-1h-1v1h-15v-1h-1v1h-15v-1h-1v1h-11z"/><path fill="#000" d="M50 537h47v1h1v-1h20v1h1v-1h46v1h1v-1h5v1h1v-1h3v1h1v-1h127v-1h1v1h34v1h1v-1h109v1h1v-1h97v1h1v-1h181v1h1v-2h1v1h40V539h-1v-1h-1v1h-1v-1h-1v1h-7v-1h-2v1h-11v-1h-1v1h-1v-1h-1v1h-1v-1h-1v1h-1v-1h-1v1h-11v-1h-1v1h-8v-1h-2v1h-6v-1h-2v1h-9v-1h-1v1h-7v-1h-1v1h-1v-1h-2v1h-1v-1h-2v1h-3v-1h-1v1h-6v-1h-2v1h-4v-1h-1v1h-3v-1h-3v1h-6v-1h-3v1h-2v-1h-1v1h-2v-1h-1v1h-2v-1h-1v1h-16v-1h-2v1h-4v-1h-1v1h-1v-1h-1v1h-5v-1h-2v1h-1v1h-1v-1h-1v-1h-1v1h-7v-1h-1v1h-13v-1h-1v1h-5v-1h-3v1h-10v-1h-3v1h-7v-1h-1v1h-3v-1h-1v1h-1v-1h-1v1h-12v-1h-2v1h-1v-1h-1v1h-8v-1h-1v1h-10v-1h-1v1h-2v-1h-1v1h-1v-1h-2v1h-7v-1h-3v1h-14v-1h-1v1h-15v-1h-1v1h-8v-1h-1v1h-2v-1h-1v1h-4v-1h-1v1h-5v-1h-1v1h-5v-1h-1v1h-4v-1h-2v1h-14v-1h-2v1h-3v-1h-2v1h-6v-1h-1v1h-5v-1h-1v1h-1v-1h-1v1h-11v-1h-1v1h-5v-1h-1v1h-3v-1h-1v1h-3v-1h-1v1h-8v-1h-1v1h-13v-1h-1v1h-4v-1h-1v1h-1v-1h-1v1h-3v-1h-1v1h-4v-1h-1v1h-4v-1h-2v1h-6v-1h-1v1h-3v-1h-1v1h-17v-1h-2v1h-4v-1h-1v1h-2v-1h-3v1h-4v-1h-1v1h-1v-1h-1v1h-1v-1h-1v1h-1v-1h-1v1h-1v-1h-1v1h-4v-1h-3v1h-13v-1h-2v1h-3v-1h-1v1h-3v-1h-1v1h-2v-1h-2v1h-4v-1h-1v1h-8v-1h-1v1h-4v-1h-1v1h-9v-1h-1v1h-3v-1h-2v1h-5v-1h-1v1h-1v-1h-2v1h-1v-1h-2v1h-1v-1h-2v1h-2v-1h-1v1h-3v-1h-1v1h-1v-1h-1v1h-8v-1h-1v1h-1v-1h-1v1h-7v-1h-1v1h-4v-1h-1v1h-2v-1h-1v1h-5v-1h-1v1h-2v-1h-1v1h-5v-1h-1v1h-5v-1h-1v1h-2v-1h-1v1h-2v-1h-1v1h-2v-1h-1v1h-4v-1h-1v1h-5v-1h-1v1h-4v-1h-5v1h-12v-1h-1v1h-17v-1h-1v1h-22v-1h-1z"/><path fill="#f00" d="M50 552h166v-1h1v1h16v1h1v-1h217v-1h1v1h52v1h1v-1h61v-1h1v1h134v-1h1v1h53v1h1v-1h14V553h-1v1h-1v-1h-3v1h-5v-1h-1v1h-11v-1h-2v1h-15v-1h-1v1h-6v-1h-1v1h-4v-1h-1v1h-4v-1h-2v1h-9v-1h-1v1h-6v-1h-2v1h-2v-1h-2v1h-1v-1h-1v1h-14v-1h-1v1h-2v-1h-1v1h-14v-1h-2v1h-1v-1h-1v1h-1v-1h-2v1h-6v-1h-2v1h-7v-1h-2v1h-4v-1h-1v1h-5v-1h-1v1h-21v-1h-2v1h-1v-1h-1v1h-9v-1h-1v1h-24v-1h-1v1h-6v-1h-2v1h-6v-1h-1v1h-11v-1h-1v1h-1v-1h-2v1h-2v-1h-1v1h-2v-1h-5v1h-1v-1h-1v1h-13v-1h-1v1h-7v-1h-1v1h-2v-1h-2v1h-1v-1h-1v1h-2v-1h-2v1h-8v-1h-1v1h-3v-1h-2v1h-3v-1h-1v1h-3v-1h-3v1h-4v-1h-1v1h-1v-1h-3v1h-9v-1h-1v1h-2v-1h-5v1h-2v-1h-1v1h-1v-1h-2v1h-2v-1h-1v1h-10v-1h-1v1h-7v-1h-1v1h-2v-1h-2v1h-3v-1h-1v1h-5v-1h-1v1h-10v-1h-2v1h-11v-1h-2v1h-4v-1h-1v1h-5v-1h-2v1h-3v-1h-3v1h-8v-1h-1v1h-3v-1h-1v1h-1v-1h-1v1h-1v-1h-2v1h-1v-1h-1v1h-4v-1h-3v1h-1v-1h-4v1h-1v-1h-1v1h-6v-1h-1v1h-2v-1h-3v1h-3v-1h-1v1h-4v-1h-2v1h-1v-1h-2v1h-2v-1h-2v1h-1v-1h-1v1h-8v-1h-1v1h-3v-1h-2v1h-22v-1h-1v1h-14v-1h-1v1h-10v-1h-1v1h-17v-1h-3v1h-2v-1h-1v1h-3v-1h-1v1h-7v-1h-3v1h-1v-1h-2v1h-1v-1h-1v1h-1v-1h-1v1h-3v-1h-1v1h-4v-1h-2v1h-5v-1h-1v1h-3v-1h-1v1h-3v-1h-1v1h-4v-1h-2v1h-3v-1h-1v1h-2v-1h-1v1h-9v-1h-3v1h-21v-1h-1v2h-1v-1h-6v-1h-2v1h-13v-1h-1v1h-8v-1h-3v1h-4v-1h-1v1h-1v-1h-2v1h-1v-1h-1v1h-9v-1h-1v1h-5z"/><path fill="#00f" d="M50 567h7v1h1v-1h229v1h1v-1h69v1h1v-1h202v1h1v-1h77v1h1v-1h72v-1h1v1h14v-1h1v1h42v1h1V569h-1v-1h-1v1h-1v-1h-2v1h-3v-1h-1v1h-3v-1h-1v1h-2v-1h-1v1h-1v-1h-2v1h-2v-1h-1v1h-15v-1h-1v1h-2v-1h-2v1h-8v-1h-1v1h-17v-1h-1v1h-1v-1h-2v1h-4v-1h-2v1h-2v-1h-2v1h-6v-1h-3v1h-3v-1h-2v1h-4v-1h-1v1h-7v-1h-2v1h-5v-1h-1v1h-2v-1h-1v1h-5v-1h-1v1h-1v-1h-2v1h-5v-1h-2v1h-9v-1h-1v1h-2v-1h-3v1h-2v-1h-1v1h-1v-1h-2v1h-8v-1h-1v1h-1v-1h-1v1h-3v-1h-2v1h-4v-1h-2v1h-11v-1h-1v1h-4v-1h-1v1h-1v-1h-1v1h-2v-1h-2v1h-4v-1h-1v1h-4v-1h-5v1h-1v-1h-2v1h-4v-1h-1v1h-7v-1h-3v1h-1v-1h-1v1h-3v-1h-1v1h-6v-1h-2v1h-9v-1h-1v1h-12v-1h-2v1h-1v-1h-1v1h-4v-1h-1v1h-6v-1h-1v1h-1v-1h-2v1h-7v-1h-2v1h-3v-1h-1v1h-2v-1h-1v1h-1v-1h-3v1h-5v-1h-2v1h-10v-1h-1v1h-2v-1h-1v1h-4v-1h-3v1h-1v-1h-1v1h-20v-1h-4v1h-2v-1h-2v1h-1v-1h-1v1h-4v-1h-1v1h-8v-1h-1v1h-1v-1h-2v1h-6v-1h-2v1h-2v-1h-1v1h-1v-1h-1v1h-3v-1h-1v1h-13v-1h-1v1h-1v-1h-1v1h-1v-1h-1v1h-1v-1h-1v1h-21v-1h-1v1h-2v-1h-2v1h-2v-1h-1v1h-2v-1h-4v1h-3v-1h-1v1h-1v-1h-1v1h-5v-1h-1v1h-5v-1h-2v1h-2v-1h-2v1h-6v-1h-1v1h-3v-1h-3v1h-1v-1h-2v1h-3v-1h-1v1h-1v-1h-2v1h-1v-1h-2v1h-3v-1h-3v1h-1v-1h-2v1h-6v-1h-1v1h-1v-1h-1v1h-4v-1h-1v1h-1v-1h-3v1h-2v-1h-1v1h-2v-1h-1v1h-5v-1h-1v1h-7v-1h-1v1h-4v-1h-1v1h-2v-1h-1v1h-5v-1h-2v1h-6v-1h-2v1h-2v-1h-1v1h-2v-1h-2v1h-9v-1h-2v1h-1v-1h-1v1h-24v-1h-1v1h-6v-1h-1v1h-2v-1h-1v1h-1v-1h-1v1h-4v-1h-2v1h-1v-1h-1v1h-2v-1h-1v1h-13v-1h-2v1h-1v-1h-2v1h-3v-1h-1v1h-5v-1h-1v1h-6v-1h-3v1h-2v-1h-1v1h-1v-1h-2v1h-5v-1h-2v1h-3v-1h-1v1h-6v-1h-1v1h-8v-1h-1v1h-2v-1h-1v1h-3z"/><path fill="#006400" d="M50 582h22v1h1v-1h206v1h1v-1h165v-1h1v1h34v-1h1v1h14v1h1v-1h57v1h1v-1h42v1h1v-1h16v1h1v-1h25v1h1v-1h43v1h1v-1h84v1h1v-1h1V584h-3v-1h-2v1h-1v-1h-1v1h-4v-1h-2v1h-4v-1h-1v1h-9v-1h-2v1h-2v-1h-3v1h-5v-1h-1v1h-5v-1h-1v1h-3v-1h-1v1h-19v-1h-1v1h-1v-1h-1v1h-5v-1h-1v1h-1v-1h-2v1h-7v-1h-1v1h-9v-1h-1v1h-6v-1h-1v2h-1v-1h-17v-1h-2v1h-1v-1h-1v1h-6v-1h-1v1h-4v-1h-1v1h-4v-1h-1v1h-2v-1h-1v1h-3v-1h-1v1h-2v-1h-2v1h-5v-1h-2v1h-7v-1h-2v1h-5v-1h-2v1h-6v-1h-2v1h-2v-1h-1v1h-2v-1h-1v1h-4v-1h-1v1h-2v-1h-1v1h-2v1h-1v-1h-2v-1h-1v1h-5v-1h-1v1h-1v-1h-1v1h-12v-1h-1v1h-2v-1h-4v1h-9v-1h-1v1h-2v-1h-2v1h-7v-1h-2v1h-10v-1h-1v1h-10v-1h-1v1h-1v-1h-1v1h-19v-1h-1v1h-2v-1h-2v1h-3v-1h-3v1h-1v-1h-1v1h-2v-1h-2v1h-20v-1h-1v1h-1v-1h-1v1h-4v-1h-1v1h-1v-1h-1v1h-1v-1h-1v1h-5v-1h-3v1h-6v-1h-3v1h-1v-1h-1v1h-7v-1h-1v1h-1v-1h-1v1h-5v-1h-1v1h-5v-1h-1v1h-3v-1h-1v1h-6v-1h-2v1h-4v-1h-2v1h-1v-1h-3v1h-3v-1h-1v1h-6v-1h-2v1h-5v-1h-1v1h-2v-1h-1v1h-3v-1h-2v1h-7v-1h-1v1h-1v-1h-1v1h-1v-1h-2v1h-1v-1h-1v1h-3v-1h-1v1h-4v-1h-2v1h-19v-1h-1v1h-4v-1h-1v1h-1v-1h-1v1h-3v-1h-1v1h-2v-1h-1v1h-2v-1h-2v1h-11v-1h-1v1h-3v-1h-3v1h-1v-1h-1v1h-3v-1h-1v1h-2v-1h-1v1h-2v-1h-1v1h-3v-1h-1v1h-3v-1h-2v1h-1v-1h-1v1h-1v-1h-1v1h-7v-1h-1v1h-4v-1h-1v1h-1v-1h-1v1h-3v-1h-1v1h-1v-1h-1v1h-4v-1h-1v1h-4v-1h-1v1h-1v-1h-1v1h-9v-1h-1v1h-5v-1h-3v1h-2v-1h-1v1h-3v-1h-1v1h-6v-1h-3v1h-6v-1h-1v1h-8v1h-1v-2h-1v1h-3v-1h-2v1h-2v-1h-1v1h-3v-1h-1v1h-4v-1h-1v1h-5v-1h-1v1h-2v-1h-2v1h-2v-1h-1v1h-3v-1h-1v1h-7v-1h-1v1h-1v-1h-1v1h-5v-1h-1v1h-3v-1h-1v1h-5v-1h-1v1h-3v-1h-1v1h-3v-1h-1v1h-2v-1h-2v1h-1v-1h-1v1h-6v-1h-1v1h-1v-1h-1v1h-4v-1h-1v1h-1v-1h-1v1h-2z"/><path fill="#000" d="M50 597h11v1h1v-1h72v1h1v-1h184v1h1v-1h68v1h1v-1h36v-1h1v1h55v-1h1v1h55v1h1v-1h29v1h1v-1h1v1h1v-1h13v1h1v-1h31v1h1v-1h2v-1h2v1h17v1h1v-1h85v1h1v-1h46V598h-1v1h-1v-1h-1v1h-2v-1h-2v1h-2v1h-1v-1h-11v-1h-1v1h-7v-1h-2v1h-2v-1h-1v1h-3v-1h-3v1h-8v-1h-2v1h-2v-1h-1v1h-5v-1h-1v1h-2v-1h-1v1h-3v-1h-1v1h-10v-1h-1v1h-2v-1h-2v1h-7v-1h-1v1h-19v-1h-2v1h-9v-1h-1v1h-1v-1h-4v1h-3v-1h-1v1h-2v-1h-1v1h-2v-1h-1v1h-2v-1h-1v1h-17v-1h-1v1h-2v-1h-1v1h-4v-1h-1v1h-4v-1h-1v1h-9v-1h-2v1h-5v-1h-1v1h-2v-1h-3v1h-1v-1h-1v1h-2v-1h-1v1h-9v-1h-1v1h-2v-1h-1v1h-1v1h-1v-1h-3v-1h-1v1h-24v-1h-2v1h-4v-1h-1v2h-1v-2h-1v1h-3v-1h-1v1h-8v-1h-1v1h-8v-1h-1v1h-1v-1h-1v1h-9v-1h-2v1h-4v-1h-1v1h-4v-1h-1v1h-2v-1h-1v1h-2v-1h-1v1h-1v-1h-2v1h-3v-1h-2v1h-7v-1h-1v1h-14v-1h-1v1h-1v-1h-1v1h-2v-1h-1v1h-2v-1h-1v1h-7v-1h-1v1h-2v-1h-4v1h-4v-1h-2v1h-3v-1h-1v1h-1v-1h-1v1h-3v-1h-5v1h-5v-1h-1v1h-1v-1h-1v1h-16v-1h-1v1h-1v-1h-1v1h-1v-1h-1v1h-1v-1h-1v1h-4v-1h-1v1h-2v-1h-2v1h-7v-1h-1v1h-1v-1h-1v1h-1v-1h-1v1h-4v-1h-3v1h-1v-1h-2v1h-20v-1h-1v1h-4v-1h-1v1h-7v-1h-4v1h-1v-1h-1v1h-21v-1h-1v1h-5v-1h-1v1h-7v-1h-1v1h-3v-1h-1v1h-6v-1h-1v1h-1v-1h-1v1h-3v1h-1v-1h-1v-1h-1v1h-3v-1h-1v1h-14v-1h-1v1h-2v-1h-1v1h-1v-1h-4v1h-5v-1h-1v1h-3v-1h-1v1h-1v-1h-1v1h-5v-1h-4v1h-6v-1h-3v1h-3v-1h-2v1h-2v-1h-4v1h-3v-1h-1v1h-4v-1h-1v1h-4v-1h-1v1h-7v-1h-2v1h-4v-1h-2v1h-11v-1h-1v1h-1v-1h-1v1h-8v-1h-2v1h-3v-1h-1v1h-6v-1h-2v1h-2v-1h-2v1h-5v-1h-1v1h-11v-1h-1v1h-5v-1h-1v1h-6v-1h-1v1h-1v-1h-2v1h-1v-1h-2v1h-2v-1h-2v1h-14z"/><path fill="#f00" d="M50 612h22v1h1v-1h179v-1h1v1h2v1h1v-1h48v-1h1v1h17v-1h1v1h65v1h1v-1h62v1h1v-1h90v1h1v-1h1v-1h1v1h75v-1h1v1h48v1h1v-1h100V614h-4v-1h-2v1h-3v-1h-1v1h-21v-1h-1v1h-1v-1h-2v1h-6v-1h-1v1h-4v-1h-1v1h-4v-1h-1v1h-4v-1h-3v1h-4v-1h-3v1h-12v-1h-2v1h-1v-1h-1v1h-3v-1h-5v1h-3v-1h-3v1h-13v1h-1v-1h-2v-1h-2v1h-4v-1h-1v1h-6v-1h-1v1h-4v-1h-1v1h-6v-1h-1v1h-8v-1h-1v1h-4v-1h-2v1h-3v-1h-1v1h-5v-1h-1v1h-12v-1h-4v1h-3v-1h-1v1h-2v-1h-1v1h-2v-1h-1v1h-4v-1h-2v1h-3v-1h-1v1h-4v-1h-1v1h-12v-1h-5v1h-9v-1h-1v1h-8v-1h-3v1h-11v-1h-2v1h-2v-1h-1v1h-1v-1h-2v1h-1v-1h-1v1h-15v-1h-1v1h-3v-1h-2v1h-3v-1h-1v1h-2v-1h-2v1h-9v-1h-2v1h-9v-1h-1v1h-2v-1h-2v1h-4v-1h-3v1h-2v-1h-1v1h-1v-1h-3v1h-8v-1h-3v1h-3v-1h-1v1h-1v-1h-3v1h-19v-1h-1v1h-9v-1h-2v1h-4v-1h-2v1h-1v-1h-2v1h-5v1h-1v-1h-5v-1h-1v1h-1v-1h-1v1h-3v-1h-2v1h-1v-1h-1v1h-3v-1h-1v1h-1v-1h-3v1h-2v-1h-1v1h-1v-1h-3v1h-1v-1h-1v1h-14v-1h-1v1h-2v-1h-1v1h-9v-1h-1v1h-11v-1h-2v1h-5v-1h-1v1h-1v-1h-3v1h-5v-1h-1v1h-5v-1h-1v1h-1v-1h-1v1h-1v-1h-1v1h-2v-1h-2v1h-2v-1h-1v1h-5v-1h-2v1h-4v-1h-1v1h-14v-1h-2v1h-21v-1h-1v1h-3v-1h-1v1h-8v-1h-4v1h-2v-1h-1v1h-3v-1h-1v1h-10v-1h-1v1h-2v-1h-4v1h-8v-1h-1v1h-6v-1h-2v1h-1v-1h-2v1h-3v-1h-3v1h-32v-1h-1v1h-2v-1h-1v1h-7v-1h-1v1h-7v-1h-1v1h-8v-1h-2v1h-6v-1h-1v1h-3v-1h-1v1h-14v-1h-3v1h-12z"/><path fill="#00f" d="M50 627h7v1h1v-1h232v1h1v-1h40v-1h1v1h41v-1h1v1h147v-1h1v1h22v-1h1v1h107v1h1v-1h117V628h-2v1h-1v-1h-1v1h-8v-1h-2v1h-5v-1h-2v1h-7v-1h-1v1h-1v-1h-1v1h-2v-1h-1v1h-1v-1h-1v1h-1v-1h-3v1h-2v-1h-3v1h-4v-1h-4v1h-8v-1h-1v1h-1v-1h-2v1h-7v-1h-1v1h-1v-1h-1v1h-5v-1h-1v1h-1v-1h-2v1h-1v-1h-1v1h-4v-1h-1v1h-10v1h-1v-2h-1v1h-1v-1h-1v1h-5v-1h-1v1h-3v-1h-1v1h-7v-1h-1v1h-8v-1h-1v1h-3v-1h-2v1h-1v-1h-1v1h-3v-1h-2v1h-1v-1h-3v1h-3v-1h-3v1h-2v-1h-1v1h-6v-1h-1v1h-1v-1h-4v1h-1v-1h-1v1h-6v-1h-1v1h-7v-1h-1v1h-14v-1h-2v1h-2v-1h-1v1h-1v-1h-1v1h-4v-1h-3v1h-4v-1h-1v1h-1v-1h-1v1h-1v-1h-1v1h-5v-1h-1v1h-4v-1h-1v1h-5v-1h-1v1h-12v-1h-1v1h-2v-1h-2v1h-10v-1h-1v1h-6v-1h-1v1h-4v-1h-2v1h-8v-1h-1v1h-7v-1h-1v1h-24v-1h-1v1h-1v-1h-3v1h-3v-1h-1v1h-1v-1h-1v1h-13v-1h-2v1h-8v-1h-2v1h-8v-1h-4v1h-4v-1h-1v1h-1v-1h-1v1h-4v-1h-2v1h-7v-1h-1v1h-9v-1h-3v1h-13v-1h-1v1h-5v-1h-1v1h-5v-1h-1v1h-14v-1h-1v1h-3v-1h-1v1h-4v-1h-1v1h-6v-1h-2v1h-2v-1h-1v1h-2v-1h-2v1h-4v-1h-2v1h-8v-1h-1v1h-14v-1h-1v1h-3v-1h-2v1h-2v-1h-1v1h-10v-1h-2v1h-3v-1h-2v1h-5v-1h-1v1h-2v-1h-2v1h-2v-1h-1v1h-2v-1h-2v1h-1v-1h-2v1h-6v-1h-1v1h-4v-1h-1v1h-11v-1h-1v1h-4v-1h-1v1h-8v-1h-1v1h-2v-1h-2v1h-4v-1h-1v1h-5v-1h-3v1h-1v-1h-2v1h-2v-1h-1v1h-4v-1h-1v1h-2v-1h-4v1h-4v-1h-2v1h-2v-1h-1v1h-12v-1h-1v1h-4v-1h-3v1h-10v-1h-1v1h-7v-1h-1v1h-5v-1h-1v1h-8v-1h-2v1h-14v-1h-2v1h-5v-1h-1v1h-3v-1h-1v1h-15z"/><path fill="#006400" d="M50 642h18v-1h1v1h159v1h1v-1h220v1h1v-1h202v1h1v-1h84v1h1v-1h32V643h-1v1h-7v-1h-1v1h-7v-1h-1v1h-13v-1h-1v1h-4v-1h-1v1h-5v-1h-1v1h-3v-1h-2v1h-1v-1h-1v1h-4v-1h-1v1h-7v-1h-1v1h-3v-1h-2v1h-2v-1h-1v1h-4v-1h-1v1h-1v-1h-3v1h-10v-1h-2v1h-1v-1h-1v1h-6v-1h-1v1h-7v-1h-3v1h-3v-1h-2v1h-21v-1h-1v1h-1v-1h-1v1h-26v-1h-1v1h-1v-1h-1v1h-8v-1h-1v1h-11v-1h-1v1h-4v-1h-2v1h-1v-1h-1v1h-6v-1h-1v1h-1v-1h-1v1h-3v-1h-1v1h-1v-1h-2v1h-2v-1h-1v1h-16v-1h-1v1h-1v-1h-1v1h-6v-1h-1v1h-3v-1h-1v1h-1v-1h-1v1h-4v-1h-2v1h-3v-1h-1v1h-6v-1h-1v1h-10v-1h-1v1h-2v-1h-1v1h-3v-1h-1v1h-6v-1h-1v1h-5v-1h-1v1h-6v-1h-1v1h-4v-1h-3v1h-18v-1h-2v1h-2v-1h-4v1h-3v-1h-1v1h-11v-1h-3v1h-1v-1h-1v1h-1v-1h-2v1h-2v-1h-1v1h-3v-1h-1v1h-9v-1h-1v1h-2v-1h-5v1h-7v-1h-1v1h-3v-1h-2v1h-3v-1h-1v1h-9v-1h-1v1h-5v-1h-1v1h-1v-1h-1v1h-7v-1h-2v1h-3v-1h-1v1h-3v-1h-2v1h-1v-1h-3v1h-4v-1h-1v1h-4v-1h-3v1h-2v-1h-2v1h-26v-1h-1v1h-5v-1h-1v1h-6v-1h-1v1h-2v-1h-1v1h-5v-1h-3v1h-3v-1h-1v1h-2v-1h-1v1h-7v-1h-3v1h-2v-1h-1v1h-8v-1h-3v1h-8v-1h-1v1h-4v-1h-1v1h-27v-1h-2v1h-4v-1h-1v1h-1v-1h-1v1h-5v-1h-3v1h-6v-1h-1v1h-2v-1h-4v1h-1v-1h-1v1h-25v-1h-2v1h-2v-1h-1v1h-8v-1h-1v1h-3v-1h-4v1h-8v-1h-1v1h-11v1h-1v-1h-5v-1h-1v1h-1v-1h-1v1h-7v-1h-1v1h-6v-1h-1v1h-8v-1h-3v1h-8z"/><path fill="#000" d="M50 657h159v1h1v-1h54v1h1v-1h27v1h1v-1h4v1h1v-1h8v1h1v-1h72v1h1v-1h75v-1h1v1h8v-1h1v1h30v-1h1v1h104v-1h1v1h128v1h1v-1h31v1h1v-1h8V659h-2v-1h-3v1h-5v1h-1v-1h-1v-1h-1v1h-3v-1h-1v1h-1v-1h-1v1h-1v-1h-1v1h-3v-1h-1v1h-4v-1h-1v1h-9v-1h-1v1h-3v-1h-3v1h-3v-1h-1v1h-4v-1h-1v1h-1v-1h-1v1h-9v-1h-1v1h-2v-1h-1v1h-14v-1h-3v1h-13v-1h-1v1h-11v-1h-1v1h-16v-1h-1v1h-3v-1h-1v1h-8v-1h-1v1h-1v-1h-1v1h-5v-1h-1v1h-2v-1h-3v1h-1v-1h-2v1h-1v-1h-1v1h-7v-1h-1v1h-9v-1h-1v1h-13v-1h-1v1h-2v-1h-1v1h-2v-1h-4v1h-2v-1h-2v1h-3v-1h-1v1h-10v-1h-1v1h-9v-1h-1v1h-7v-1h-2v1h-6v-1h-2v1h-1v-1h-1v1h-2v-1h-2v1h-37v-1h-2v1h-1v-1h-2v1h-4v-1h-2v1h-14v-1h-1v1h-1v-1h-1v1h-15v-1h-1v1h-10v-1h-5v1h-7v-1h-1v1h-9v-1h-1v1h-4v-1h-2v1h-9v-1h-2v1h-6v-1h-1v1h-4v-1h-1v1h-1v-1h-2v1h-1v-1h-1v1h-10v-1h-1v1h-11v-1h-1v1h-5v-1h-1v1h-2v-1h-1v1h-18v-1h-1v1h-5v-1h-1v1h-5v-1h-2v1h-25v-1h-1v1h-14v-1h-1v1h-8v-1h-2v1h-2v-1h-2v1h-10v-1h-1v1h-8v-1h-2v1h-24v-1h-3v1h-25v-1h-1v1h-1v-1h-2v1h-1v-1h-1v1h-6v-1h-1v1h-1v-1h-3v1h-3v-1h-1v1h-6v-1h-3v1h-2v-1h-1v1h-4v-1h-1v1h-1v-1h-1v1h-1v-1h-1v1h-3v-1h-1v1h-2v-1h-1v1h-6v-1h-1v1h-8v-1h-1v1h-1v-1h-3v1h-13v-1h-1v1h-5v-1h-1v1h-8v-1h-4v1h-2v-1h-1v1h-12v-1h-1v1h-4v-1h-2v1h-2v-1h-1z"/><path fill="#f00" d="M50 672h18v1h1v-1h45v1h1v-1h34v1h1v-1h88v1h1v-1h187v1h1v-1h56v1h1v-1h5v-1h1v1h65v-1h1v1h59v1h1v-1h55v1h1v-1h9v1h1v-1h88V674h-13v-1h-1v1h-5v-1h-2v1h-9v-1h-2v1h-1v-1h-1v1h-19v-1h-1v1h-1v-1h-1v1h-1v-1h-1v1h-3v-1h-2v1h-10v-1h-2v1h-4v-1h-1v1h-14v-1h-1v1h-2v-1h-1v1h-10v-1h-1v1h-2v-1h-1v1h-12v-1h-1v1h-4v-1h-2v1h-2v-1h-1v1h-2v-1h-2v1h-7v-1h-2v1h-11v-1h-1v1h-9v-1h-2v1h-6v-1h-2v1h-2v-1h-2v1h-14v-1h-3v1h-16v-1h-2v1h-1v-1h-1v1h-2v-1h-1v1h-7v-1h-1v1h-9v-1h-1v1h-12v-1h-1v1h-3v-1h-1v1h-4v-1h-1v1h-3v-1h-2v1h-1v-1h-2v1h-3v-1h-2v1h-2v-1h-2v1h-16v-1h-3v1h-2v-1h-4v1h-2v-1h-2v1h-9v-1h-1v1h-1v-1h-1v1h-3v-1h-1v1h-1v-1h-1v1h-2v-1h-4v1h-5v-1h-1v1h-3v-1h-1v1h-5v-1h-1v1h-4v-1h-1v1h-1v-1h-1v1h-10v-1h-1v1h-3v-1h-1v1h-4v-1h-1v1h-2v-1h-1v1h-11v-1h-1v1h-1v-1h-1v1h-3v-1h-2v1h-5v-1h-1v1h-9v-1h-2v1h-2v-1h-1v1h-1v-1h-1v1h-2v-1h-1v1h-2v-1h-1v1h-1v-1h-2v1h-4v-1h-1v1h-2v-1h-1v1h-1v-1h-1v1h-3v-1h-2v1h-15v-1h-1v1h-2v-1h-3v1h-13v-1h-3v1h-1v-1h-2v1h-12v-1h-2v1h-7v-1h-1v1h-4v-1h-1v1h-3v-1h-2v1h-4v-1h-1v1h-3v-1h-1v1h-2v-1h-1v1h-16v-1h-1v1h-1v-1h-2v1h-5v-1h-1v1h-14v-1h-1v1h-17v-1h-1v1h-6v-1h-1v1h-3v-1h-1v1h-5v-1h-1v1h-2v-1h-1v1h-5v-1h-1v1h-1v-1h-1v1h-2v-1h-1v1h-12v-1h-3v1h-4v-1h-1v1h-14v-1h-1v1h-4v-1h-3v1h-2v-1h-1v1h-9v-1h-1v1h-2v-1h-1v1h-5v-1h-1v1h-28v-1h-1v1h-8v-1h-1v1h-1z"/><path fill="#00f" d="M50 687h108v1h1v-1h26v1h1v-1h82v1h1v-1h79v1h1v-1h24v1h1v-1h5v1h1v-1h92v1h1v-1h146v1h1v-1h42v1h1v-1h21v1h1v-1h85V689h-1v-1h-2v1h-11v-1h-1v1h-23v-1h-1v1h-1v-1h-2v1h-3v-1h-1v1h-5v-1h-3v1h-13v-1h-3v1h-1v-1h-1v1h-5v-1h-1v1h-12v-1h-2v1h-3v-1h-1v1h-1v-1h-1v1h-4v-1h-1v1h-2v-1h-1v1h-11v-1h-1v1h-15v-1h-2v1h-9v-1h-1v1h-1v-1h-1v1h-1v-1h-2v1h-1v-1h-2v1h-5v-1h-1v1h-3v-1h-1v1h-7v-1h-1v1h-28v-1h-1v1h-6v-1h-1v1h-6v-1h-1v1h-7v-1h-2v1h-10v-1h-1v1h-4v-1h-1v1h-6v-1h-1v1h-8v-1h-1v1h-10v-1h-3v1h-3v-1h-1v1h-13v-1h-1v1h-1v-1h-1v1h-12v-1h-1v1h-4v-1h-2v1h-5v-1h-1v1h-13v-1h-1v1h-2v-1h-2v1h-16v-1h-1v1h-5v-1h-1v1h-9v-1h-1v1h-7v-1h-1v1h-6v-1h-1v1h-1v-1h-1v1h-3v1h-1v-1h-7v-1h-1v1h-4v-1h-3v1h-3v-1h-1v1h-1v-1h-2v1h-1v-1h-1v1h-2v-1h-1v1h-3v-1h-1v1h-21v-1h-1v1h-17v-1h-3v1h-10v-1h-3v1h-5v-1h-1v1h-1v-1h-1v1h-2v-1h-1v1h-24v-1h-2v1h-1v-1h-2v1h-8v-1h-3v1h-2v-1h-5v1h-1v-1h-1v1h-6v-1h-1v1h-11v-1h-2v1h-8v-1h-1v1h-3v-1h-1v1h-9v-1h-1v1h-1v-1h-1v1h-6v-1h-2v1h-3v-1h-2v1h-6v-1h-1v1h-1v-1h-1v1h-2v-1h-1v1h-4v-1h-1v1h-2v-1h-3v1h-5v-1h-2v1h-2v-1h-3v1h-11v-1h-1v1h-2v-1h-1v1h-2v-1h-1v1h-1v-1h-2v1h-2v-1h-2v1h-1v-1h-1v1h-1v-1h-2v1h-8v-1h-1v1h-11v-1h-1v1h-2v-1h-2v1h-1v-1h-1v1h-1v-1h-1v1h-1v-1h-2v1h-3v-1h-1v1h-8v-1h-1v1h-13v-1h-2v1h-4v-1h-1v1h-2z"/><path fill="#006400" d="M50 702h20v-1h1v1h66v1h1v-1h5v1h1v-1h164v1h1v-1h72v-1h1v1h155v1h1v-1h118v1h1v-1h74v1h1v-1h38V703h-1v1h-4v-1h-1v1h-15v-1h-3v1h-6v-1h-1v1h-2v-1h-1v1h-1v-1h-1v1h-6v-1h-1v1h-3v-1h-2v1h-11v-1h-1v1h-4v-1h-2v1h-18v-1h-2v1h-11v-1h-3v1h-1v-1h-1v1h-1v-1h-1v1h-7v-1h-1v1h-14v-1h-1v1h-13v-1h-1v1h-4v-1h-1v1h-2v-1h-2v1h-1v-1h-3v1h-1v-1h-1v1h-3v-1h-1v1h-2v-1h-1v1h-3v-1h-1v1h-4v-1h-1v1h-5v-1h-1v1h-8v-1h-1v1h-7v-1h-1v1h-9v-1h-2v1h-2v-1h-2v1h-5v-1h-1v1h-1v-1h-1v1h-7v-1h-1v1h-4v-1h-1v1h-7v-1h-1v1h-8v-1h-3v1h-5v-1h-1v1h-22v-1h-1v1h-5v-1h-4v1h-4v-1h-1v1h-7v-1h-1v1h-12v-1h-1v1h-14v1h-1v-1h-13v-1h-1v1h-5v-1h-2v1h-10v-1h-1v1h-1v-1h-1v1h-4v-1h-1v1h-1v-1h-1v1h-7v-1h-2v1h-2v-1h-1v1h-14v-1h-5v1h-3v-1h-2v1h-4v-1h-3v1h-5v-1h-3v1h-1v-1h-3v1h-11v-1h-2v1h-13v-1h-1v1h-18v-1h-2v1h-5v-1h-2v1h-2v-1h-2v1h-8v-1h-1v1h-2v-1h-2v1h-1v-1h-1v1h-1v-1h-1v1h-12v-1h-2v1h-1v-1h-1v1h-4v-1h-1v1h-1v-1h-1v1h-6v-1h-2v1h-22v-1h-1v1h-6v1h-1v-1h-18v-1h-1v1h-9v-1h-2v1h-1v-1h-1v1h-3v-1h-3v1h-6v-1h-8v1h-6v-1h-1v1h-3v-1h-1v1h-10v-1h-1v1h-2v-1h-2v1h-7v-1h-1v1h-4v-1h-6v1h-1v-1h-2v1h-14v-1h-2v1h-2v-1h-2v1h-6v-1h-1v1h-2v-1h-1v1h-2v-1h-2v1h-1v-1h-1v1h-4v-1h-1v1h-2v-1h-1v1h-2v-1h-2v1h-12z"/><path fill="#000" d="M50 717h58v1h1v-1h67v1h1v-1h52v1h1v-1h18v1h1v-1h160v1h1v-1h20v-1h1v1h1v-1h1v1h4v-2h1v1h1v1h1v-1h3v1h1v-1h2v1h2v-1h2v1h3v-2h1v2h3v-2h1v2h1v-1h2v1h1v-2h1v1h4v1h1v-1h1v1h2v-2h1v-1h1v1h2v-1h1v1h1v1h1v1h1v-3h1v3h1v-3h1v-1h1v3h1v-1h1v-2h1v1h1v3h1v-1h1v-1h1v1h1v-1h1v1h1v-1h1v1h2v1h1v-2h2v1h1v-1h1v2h3v-1h2v-1h2v1h2v1h1v-1h1v1h1v-1h1v1h1v-2h1v1h1v1h1v-1h2v1h4v-1h1v1h5v-1h2v1h7v-1h2v1h36v1h1v-1h192V719h-17v-1h-2v1h-6v-1h-2v1h-11v-1h-2v1h-6v-1h-2v1h-1v-1h-2v1h-3v-1h-1v1h-2v-1h-1v1h-1v-1h-1v1h-2v-1h-3v1h-2v-1h-3v1h-2v-1h-1v1h-2v-1h-3v1h-4v-1h-4v1h-4v-1h-1v1h-2v-1h-1v1h-1v-1h-1v1h-1v-1h-1v1h-16v-1h-2v1h-5v-1h-2v1h-6v-1h-1v1h-8v-1h-2v1h-2v-1h-3v1h-3v-1h-1v1h-1v-1h-1v1h-2v-1h-1v1h-8v-1h-2v1h-1v-1h-6v1h-1v-1h-6v1h-4v-1h-1v1h-3v-1h-1v1h-1v-1h-1v1h-5v-1h-4v1h-3v-1h-1v1h-2v-1h-2v1h-1v-1h-1v1h-7v-1h-1v1h-1v-1h-2v1h-2v-1h-1v1h-1v-1h-1v1h-2v-1h-1v1h-1v-1h-1v1h-2v1h-1v-1h-9v1h-1v-1h-5v1h-1v-1h-5v1h-1v1h-1v-1h-1v-1h-1v1h-2v-1h-1v2h-1v-1h-1v-1h-1v1h-1v1h-1v-1h-1v1h-2v-2h-1v2h-1v-1h-3v1h-3v-1h-4v1h-1v1h-1v-2h-1v1h-1v3h-1v-2h-1v-1h-1v-1h-1v1h-1v1h-1v-1h-3v1h-1v-3h-1v3h-1v-2h-1v1h-1v1h-1v-3h-1v1h-2v1h-1v-2h-1v1h-1v1h-1v-2h-1v1h-1v-1h-1v1h-4v-1h-2v1h-1v-1h-3v1h-2v-1h-4v1h-2v1h-2v-2h-3v2h-1v-1h-1v-1h-7v-1h-2v1h-1v-1h-1v1h-7v-1h-1v1h-9v-1h-2v1h-2v1h-1v-1h-5v-1h-1v1h-4v-1h-1v1h-1v-1h-1v1h-7v-1h-1v1h-3v-1h-1v1h-6v-1h-3v1h-5v-1h-1v1h-1v-1h-3v1h-5v-1h-1v1h-4v-1h-1v1h-3v-1h-1v1h-2v-1h-1v1h-14v-1h-2v1h-15v-1h-1v1h-1v-1h-1v1h-1v-1h-3v1h-10v-1h-3v1h-1v-1h-1v1h-1v-1h-2v1h-1v-1h-2v1h-4v-1h-1v1h-1v-1h-3v1h-6v-1h-1v1h-6v-1h-1v1h-3v-1h-2v1h-6v-1h-1v1h-4v-1h-1v1h-7v-1h-2v1h-8v-1h-2v1h-10v-1h-1v1h-6v-1h-2v1h-6v-1h-2v1h-3v-1h-2v1h-1v-1h-1v1h-3v-1h-1v1h-2v-1h-2v1h-1v-1h-1v1h-1v-1h-1v1h-5v-1h-5v1h-2v-1h-1v1h-7v-1h-4v1h-5v-1h-3v1h-11v-1h-1v1h-1v-1h-2v1h-1v-1h-1v1h-1v-1h-3v1h-3v-1h-1v1h-2v-1h-2v1h-8v-1h-1v1h-1v-1h-2v1h-1v-1h-3v1h-4v-1h-1v1h-4v-1h-1v1h-11v-1h-1v1h-14v-1h-1v1h-13z"/><path fill="#f00" d="M50 732h37v1h1v-1h74v1h1v-1h121v1h1v-1h56v1h1v-1h25v1h1v-1h402V733h-1v1h-2v-1h-2v1h-9v-1h-1v1h-11v-1h-1v1h-4v-1h-1v1h-5v-1h-1v1h-2v-1h-3v1h-2v-1h-1v1h-12v-1h-2v1h-9v-1h-1v1h-6v-1h-2v1h-3v-1h-1v1h-4v-1h-2v1h-2v-1h-1v1h-4v-1h-1v1h-7v-1h-2v1h-1v-1h-1v1h-2v-1h-1v1h-2v-1h-1v1h-3v-1h-1v1h-5v-1h-1v1h-1v-1h-1v1h-2v-1h-1v1h-3v-1h-1v1h-5v1h-1v-1h-5v-1h-3v1h-1v-1h-1v1h-4v-1h-1v1h-2v-1h-1v1h-4v-1h-3v1h-11v-1h-1v1h-5v-1h-1v1h-29v-1h-1v1h-3v-1h-2v1h-2v-1h-2v1h-2v-1h-2v1h-3v-1h-3v1h-2v-1h-1v1h-4v-1h-1v1h-3v-1h-1v1h-19v-1h-3v1h-8v-1h-1v1h-7v-1h-3v1h-16v-1h-1v1h-2v-1h-1v1h-1v-1h-1v1h-5v-1h-1v1h-3v-1h-1v1h-2v-1h-2v1h-1v-1h-1v1h-1v-1h-3v1h-1v-1h-1v1h-3v1h-1v-1h-3v-1h-2v1h-6v-1h-1v1h-3v-1h-2v1h-4v-1h-1v1h-1v-1h-1v1h-1v-1h-1v1h-8v-1h-2v1h-1v-1h-2v1h-6v-1h-1v1h-9v-1h-1v1h-5v-1h-2v1h-5v-1h-3v1h-10v-1h-4v1h-15v-1h-1v1h-7v-1h-4v1h-1v-1h-1v1h-19v-1h-1v1h-2v-1h-1v1h-3v-1h-2v1h-1v-1h-2v1h-7v-1h-2v1h-1v-1h-1v1h-5v-1h-3v1h-2v-1h-2v1h-4v-1h-1v1h-7v-1h-2v1h-2v-1h-1v1h-6v-1h-1v1h-6v-1h-1v1h-7v-1h-1v1h-1v-1h-2v1h-3v-1h-1v1h-8v-1h-2v1h-9v-1h-1v1h-3v-1h-2v1h-8v-1h-3v1h-1v-1h-1v1h-13v-1h-2v1h-5v-1h-2v1h-1v-1h-1v1h-4v-1h-1v1h-3v-1h-1v1h-1v-1h-1v1h-4v-1h-1v1h-3v-1h-1v1h-1v-1h-1v1h-9v-1h-1v1h-9v-1h-1v1h-1v-1h-1v1h-2v-1h-1v1h-3v-1h-3v1h-13v-1h-1v1h-5v-1h-1v1h-1v-1h-1v1h-5v-1h-1v1h-1v-1h-1v1h-3v-1h-1v1h-8v-1h-1v1h-9v-1h-2v1h-6z"/><path fill="#00f" d="M50 747h148v-1h1v1h81v1h1v-1h21v1h1v-1h44v1h1v-1h8v1h1v-1h23v-1h1v1h41v1h1v-1h22v1h1v-1h97v1h1v-1h98v1h1v-1h127V749h-5v-1h-1v1h-17v-1h-1v1h-1v-1h-1v1h-9v-1h-1v1h-4v-1h-1v1h-1v-1h-5v1h-3v-1h-1v1h-7v-1h-1v1h-2v-1h-1v1h-2v-1h-2v1h-7v-1h-2v1h-8v-1h-1v1h-8v-1h-1v1h-2v-1h-1v1h-1v-1h-2v1h-1v-1h-3v1h-1v-1h-1v1h-5v-1h-2v1h-1v-1h-4v1h-1v-1h-1v1h-6v-1h-2v1h-3v-1h-2v1h-3v-1h-2v1h-11v-1h-2v1h-5v-1h-1v1h-3v-1h-1v1h-1v-1h-2v1h-3v-1h-1v1h-1v-1h-2v1h-18v-1h-1v1h-2v-1h-1v1h-37v1h-1v-1h-6v-1h-3v1h-7v-1h-2v1h-2v-1h-2v1h-5v-1h-1v1h-4v-1h-1v1h-1v-1h-1v1h-1v-1h-1v1h-6v-1h-3v1h-8v-1h-2v1h-2v-1h-1v1h-4v-1h-1v1h-2v-1h-1v1h-3v-1h-1v1h-3v-1h-1v1h-10v-1h-2v1h-4v-1h-1v1h-5v-1h-1v1h-3v-1h-1v1h-1v-1h-1v1h-2v-1h-2v1h-5v-1h-1v1h-7v-1h-1v1h-6v-1h-3v1h-10v-1h-5v1h-9v-1h-2v1h-3v-1h-1v1h-8v-1h-2v1h-1v-1h-1v1h-2v-1h-1v1h-14v-1h-1v1h-2v-1h-1v1h-1v-1h-2v1h-2v-1h-2v1h-1v-1h-1v1h-1v-1h-1v1h-5v-1h-1v1h-9v-1h-1v1h-5v-1h-2v1h-24v-1h-1v1h-8v-1h-1v1h-1v-1h-1v1h-11v-1h-2v1h-2v-1h-4v1h-4v-1h-6v1h-1v-1h-1v1h-8v-1h-1v1h-5v-1h-1v1h-1v-1h-1v1h-3v-1h-3v1h-4v-1h-1v1h-2v-1h-2v1h-5v-1h-1v1h-9v-1h-1v1h-8v-1h-1v1h-3v-1h-2v1h-8v-1h-1v1h-3v-1h-1v1h-3v-1h-2v1h-4v-1h-1v1h-13v-1h-1v1h-20v-1h-1v1h-5v-1h-4v1h-1v-1h-1v1h-12v-1h-1v1h-11v-1h-2v1h-4v-1h-2v1h-5v-1h-1v1h-15v-1h-1v1h-6v-1h-1v1h-3z"/><path fill="#006400" d="M50 762h26v1h1v-1h11v1h1v-1h28v1h1v-1h131v1h1v-1h166v1h1v-1h36v-1h1v1h55v-1h1v1h87v1h1v-1h172V764h-3v-1h-4v1h-3v-1h-1v1h-13v-1h-2v1h-5v-1h-1v1h-3v-1h-1v1h-3v-1h-3v1h-1v-1h-2v1h-3v-1h-1v1h-10v-1h-1v1h-3v-1h-1v1h-1v-1h-1v1h-6v-1h-1v1h-3v-1h-1v1h-15v-1h-1v1h-4v-1h-1v1h-3v-1h-2v1h-5v-1h-1v1h-12v-1h-1v1h-14v-1h-2v1h-1v-1h-1v1h-2v-1h-3v1h-10v-1h-1v1h-11v-1h-1v1h-6v-1h-1v1h-16v-1h-2v1h-5v1h-1v-1h-6v-1h-1v1h-1v-1h-1v1h-1v-1h-2v1h-1v-1h-3v1h-5v-1h-2v1h-12v-1h-1v1h-4v-1h-1v1h-1v-1h-1v1h-1v-1h-1v1h-3v-1h-1v1h-6v-1h-2v1h-11v-1h-1v1h-9v-1h-2v1h-3v-1h-1v1h-2v-1h-1v1h-1v-1h-2v1h-3v-1h-2v1h-9v-1h-1v1h-2v-1h-2v1h-9v-1h-1v1h-4v-1h-1v1h-8v-1h-1v1h-7v1h-1v-1h-9v-1h-1v1h-1v-1h-2v1h-20v-1h-1v1h-1v-1h-5v1h-6v-1h-1v1h-8v-1h-1v1h-15v-1h-1v1h-1v-1h-1v1h-1v-1h-1v1h-4v-1h-1v1h-4v-1h-2v1h-7v-1h-2v1h-2v-1h-1v1h-4v-1h-1v1h-12v-1h-1v1h-7v-1h-2v1h-1v-1h-1v1h-1v-1h-1v1h-17v-1h-1v1h-4v-1h-1v1h-2v-1h-1v1h-8v-1h-2v1h-4v-1h-2v1h-10v-1h-1v1h-2v-1h-2v1h-2v-1h-1v1h-1v-1h-1v1h-1v-1h-1v1h-9v-1h-2v1h-5v-1h-2v1h-2v-1h-2v1h-1v-1h-1v1h-1v-1h-1v1h-12v-1h-3v1h-8v-1h-1v1h-2v-1h-1v1h-2v-1h-1v1h-3v-1h-1v1h-2v-1h-7v1h-4v-1h-1v1h-10v-1h-1v1h-5v-1h-1v1h-1v-1h-2v1h-3v-1h-1v1h-2v-1h-1v1h-7v-1h-2v1h-1v-1h-1v1h-8v-1h-1v1h-8v-1h-1v1h-1v1h-1v-1h-22v-1h-1v1h-1v-1h-1v1h-4v-1h-1v1h-2v-1h-1v1h-4v-1h-2v1h-3v-1h-3v1h-6v-1h-1v1h-2z"/><path fill="#000" d="M50 777h17v-1h1v1h24v-1h1v1h258v-2h2v2h4v-1h4v1h1v-1h1v1h3v-2h2v1h1v-1h2v2h8v-1h2v1h3v-1h1v1h1v-2h1v1h1v-1h1v2h1v-1h1v1h2v-2h1v2h6v-1h1v-3h1v1h2v2h1v-2h2v-4h1v7h1v-3h1v3h1v-2h2v1h1v1h1v-1h1v-2h1v3h1v-2h4v1h2v-1h1v2h1v-1h2v1h2v-2h1v2h2v-2h1v1h2v1h1v-1h1v1h12v1h1v-1h53v1h1v-1h3v1h1v-1h114v-1h1v1h6v1h1v-1h139V779h-2v-1h-1v1h-4v-1h-1v1h-3v-1h-1v1h-4v-1h-1v1h-1v-1h-1v1h-1v-1h-1v1h-9v-1h-4v1h-1v-1h-1v1h-2v-1h-2v1h-14v-1h-1v1h-2v-1h-1v1h-2v-1h-1v1h-2v-1h-2v1h-3v-1h-1v1h-2v-1h-1v1h-5v1h-1v-2h-1v1h-1v-1h-2v1h-1v-1h-1v1h-1v-1h-2v1h-1v-1h-1v1h-2v-1h-1v1h-1v-1h-3v1h-5v-1h-1v1h-2v-1h-1v1h-7v-1h-2v1h-8v-1h-1v1h-5v-1h-3v1h-2v-1h-2v1h-2v-1h-1v1h-2v-1h-2v1h-10v-1h-3v1h-4v-1h-1v1h-1v-1h-1v1h-11v-1h-1v1h-1v-1h-1v1h-2v-1h-1v1h-1v-1h-1v1h-6v-1h-1v1h-2v-1h-1v1h-3v-1h-1v1h-10v-1h-2v1h-10v-1h-1v1h-1v-1h-1v1h-12v-1h-1v1h-7v-1h-1v1h-1v-1h-3v1h-24v1h-1v-1h-2v-1h-1v1h-4v-1h-2v2h-1v-1h-1v-1h-2v1h-1v-1h-1v1h-1v-1h-1v1h-3v-1h-2v1h-1v-1h-1v1h-1v-1h-1v1h-10v-1h-2v1h-2v-1h-1v1h-4v-1h-1v1h-15v1h-1v-1h-1v1h-1v1h-1v-1h-1v1h-1v-1h-1v-1h-1v2h-1v-2h-2v2h-1v-1h-1v-1h-3v2h-2v-1h-1v-1h-3v2h-1v-1h-1v2h-1v-2h-1v2h-1v-3h-2v1h-1v1h-1v3h-1v-3h-1v-2h-2v3h-1v1h-2v-2h-1v-2h-4v1h-1v-1h-2v2h-1v-1h-3v-1h-5v1h-3v-1h-2v1h-1v-1h-1v2h-2v-2h-1v1h-3v-1h-1v1h-3v1h-1v-2h-2v2h-1v-1h-2v-1h-2v1h-1v1h-1v-2h-1v2h-1v-1h-2v-1h-1v2h-1v-2h-2v-1h-1v1h-5v-1h-1v1h-2v-1h-2v1h-7v-1h-3v1h-6v-1h-1v1h-2v-1h-2v1h-7v-1h-1v1h-8v-1h-2v1h-1v-1h-4v1h-1v-1h-3v1h-4v-1h-2v1h-3v-1h-1v1h-10v-1h-3v1h-2v-1h-1v1h-5v-1h-2v1h-2v-1h-3v1h-4v-1h-1v1h-1v-1h-4v1h-7v-1h-1v1h-1v-1h-1v1h-1v-1h-1v1h-4v-1h-1v1h-4v-1h-4v1h-2v-1h-1v1h-1v-1h-1v1h-7v-1h-2v1h-3v-1h-1v1h-1v-1h-2v1h-2v-1h-1v1h-1v-1h-1v1h-1v-1h-2v1h-14v-1h-1v1h-1v-1h-1v1h-4v-1h-4v1h-19v-1h-4v1h-3v-1h-1v1h-6v-1h-1v1h-4v-1h-1v1h-4v-1h-1v1h-5v-1h-2v1h-1v-1h-1v1h-13v-1h-2v1h-1v-1h-1v1h-5v-1h-2v1h-1v-1h-2v1h-2v-1h-2v1h-2v-1h-3v1h-18v-1h-2v1h-4z"/><path fill="#f00" d="M50 792h111v1h1v-1h33v1h2v-1h35v1h1v-1h16v-1h1v1h365v1h1v-1h1v1h1v-1h43v1h1v-1h69v1h1v-1h38V794h-6v-1h-3v1h-6v-1h-1v1h-1v-1h-1v1h-6v-1h-3v1h-18v-1h-1v1h-3v-1h-1v1h-3v-1h-1v1h-1v-1h-3v1h-9v-1h-1v1h-5v-1h-2v1h-1v-1h-2v1h-3v-1h-1v1h-5v-1h-3v1h-1v-1h-1v1h-10v-1h-1v1h-7v-1h-1v1h-34v-1h-1v1h-3v-1h-1v1h-8v-1h-1v1h-6v-1h-2v1h-5v-1h-2v1h-1v-1h-1v1h-2v-1h-2v1h-6v-1h-1v1h-15v-1h-1v1h-2v-1h-1v1h-4v-1h-1v1h-8v-1h-1v1h-6v-1h-2v1h-3v-1h-1v1h-11v-1h-1v1h-1v-1h-1v1h-2v-1h-1v1h-11v-1h-2v1h-1v-1h-2v1h-15v-1h-1v1h-3v-1h-1v1h-3v-1h-1v1h-3v-1h-1v1h-1v-1h-2v1h-5v-1h-1v1h-3v-1h-1v1h-1v-1h-1v1h-3v-1h-3v1h-2v-1h-1v1h-1v-1h-1v1h-3v-1h-1v1h-4v-1h-2v1h-7v-1h-2v1h-1v-1h-1v1h-8v-1h-1v1h-4v-1h-1v1h-3v-1h-1v1h-5v-1h-1v1h-3v-1h-1v1h-1v-1h-2v1h-5v-1h-1v1h-2v-1h-2v1h-1v-1h-1v1h-2v-1h-1v1h-3v-1h-2v1h-1v-1h-1v1h-1v-1h-1v1h-14v-1h-1v1h-3v-1h-1v1h-2v-1h-1v1h-6v-1h-1v1h-2v-1h-2v1h-3v-1h-1v1h-5v-1h-2v1h-6v-1h-1v1h-5v-1h-2v1h-1v-1h-1v1h-2v-1h-1v1h-1v-1h-1v1h-3v-1h-1v1h-5v-1h-1v1h-3v-1h-1v1h-2v-1h-1v1h-7v-1h-1v1h-6v-1h-1v1h-1v1h-1v-1h-8v-1h-1v1h-5v-1h-1v1h-1v-1h-2v1h-1v-1h-1v1h-9v-1h-1v1h-21v-1h-1v1h-2v-1h-1v1h-11v-1h-1v1h-11v-1h-1v1h-4v-1h-3v1h-5v-1h-1v1h-10v-1h-2v1h-3v-1h-4v1h-6v-1h-1v1h-2v-1h-1v1h-2v-1h-1v1h-1v-1h-1v1h-2v-1h-3v1h-13v-1h-1v1h-5v-1h-2v1h-6v-1h-2v1h-7v-1h-1v1h-3v-1h-1v1h-1v-1h-1v1h-3v-1h-1v1h-3v-1h-1v1h-4v-1h-2v1h-1v-1h-1v1h-1v-1h-2v1h-8v-1h-2v1h-2v-1h-1v1h-18v-1h-2z"/><path fill="#00f" d="M50 807h98v1h1v-1h237v1h1v-1h23v1h1v-1h70v1h1v-1h5v1h1v-1h36v-1h1v1h8v-1h1v1h43v1h1v-1h8v-1h1v-1h1v1h1v1h1v-1h1v-1h1v1h2v1h1v-2h1v2h1v-1h2v1h10v-2h2v1h1v-1h1v1h2v-1h1v2h1v-1h1v-1h1v-1h3v1h2v1h1v-3h1v2h1v1h1v-1h1v1h1v1h1v-2h2v1h1v-1h1v1h1v-1h1v1h1v-1h1v1h1v1h3v-1h5v1h2v-1h1v1h2v-1h1v1h4v-1h1v1h111V809h-17v-1h-1v1h-2v-1h-3v1h-4v-1h-1v1h-7v-1h-1v1h-2v-1h-1v1h-1v-1h-1v1h-3v-1h-1v1h-7v-1h-1v1h-1v-1h-3v1h-4v-1h-1v1h-4v-1h-3v1h-8v-1h-1v1h-1v-1h-1v1h-2v-1h-1v1h-7v-1h-1v1h-10v-1h-1v1h-6v1h-1v-1h-3v1h-1v-1h-4v1h-2v-1h-1v1h-3v-1h-1v1h-1v-1h-4v1h-4v-1h-2v2h-1v-1h-1v-1h-2v2h-2v-2h-1v1h-1v2h-1v2h-1v-5h-1v2h-1v-2h-1v2h-1v-1h-1v1h-1v-2h-1v3h-1v-2h-1v1h-3v-1h-2v1h-3v-2h-4v1h-1v-1h-1v1h-3v1h-1v-1h-1v-1h-1v1h-1v-1h-1v1h-1v1h-2v-1h-1v-1h-1v2h-1v-1h-1v-1h-1v-1h-2v1h-8v-1h-2v1h-1v-1h-3v1h-7v-1h-1v1h-1v-1h-1v1h-1v-1h-2v1h-1v-1h-1v1h-2v-1h-1v1h-1v-1h-1v1h-1v-1h-1v1h-4v-1h-1v1h-2v-1h-1v1h-4v-1h-1v1h-2v-1h-1v1h-3v-1h-1v1h-5v-1h-1v1h-4v-1h-2v1h-5v-1h-1v1h-1v-1h-1v1h-6v-1h-2v1h-19v-1h-2v1h-11v-1h-1v1h-6v-1h-1v1h-1v-1h-2v1h-6v-1h-1v1h-3v-1h-2v1h-4v-1h-1v1h-7v-1h-2v1h-3v-1h-2v1h-3v-1h-2v1h-3v-1h-1v1h-4v-1h-2v1h-3v-1h-2v1h-10v-1h-2v1h-2v-1h-1v1h-9v-1h-1v1h-1v-1h-1v1h-2v-1h-1v1h-5v-1h-4v1h-4v-1h-4v1h-2v-1h-1v1h-18v-1h-1v1h-3v-1h-1v1h-1v-1h-1v1h-1v-1h-1v1h-4v-1h-1v1h-1v-1h-1v1h-1v-1h-1v1h-3v-1h-1v1h-11v-1h-1v1h-7v-1h-3v1h-6v-1h-2v1h-1v-1h-1v1h-1v-1h-6v1h-2v-1h-4v1h-1v-1h-1v1h-4v-1h-1v1h-3v-1h-2v2h-1v-1h-2v-1h-1v1h-2v-1h-1v1h-5v-1h-4v1h-6v-1h-1v1h-4v-1h-1v1h-1v-1h-1v1h-2v-1h-2v1h-4v-1h-1v1h-2v-1h-1v1h-1v-1h-1v1h-1v-1h-1v1h-2v-1h-1v1h-5v-1h-1v2h-1v-1h-2v-1h-2v1h-3v-1h-2v1h-12v-1h-1v1h-4v-1h-2v1h-4v-1h-3v1h-2v-1h-2v1h-7v-1h-1v1h-2v-1h-1v1h-3v-1h-1v1h-23v-1h-1v1h-4v-1h-1v1h-4v-1h-1v1h-6v-1h-1v1h-7v-1h-3v1h-12v-1h-2v1h-5v-1h-1v1h-1v-1h-1v1h-8v-1h-1v1h-4v-1h-1v1h-1v-1h-2v1h-9z"/><path fill="#006400" d="M50 822h190v1h1v-1h247v1h1v-1h55v-1h1v1h29v1h1v-1h5v-1h1v1h109v1h1v-1h77v1h1v-1h1V824h-11v-1h-1v1h-1v-1h-2v1h-2v-1h-4v1h-3v-1h-1v1h-4v-1h-2v1h-2v-1h-1v1h-6v-1h-2v1h-3v-1h-1v1h-3v-1h-1v1h-1v-1h-1v1h-3v-1h-1v1h-2v-1h-1v1h-12v-1h-1v1h-5v-1h-1v1h-12v-1h-1v1h-13v-1h-1v1h-3v-1h-1v1h-10v-1h-1v1h-1v-1h-1v1h-3v-1h-1v1h-4v-1h-1v1h-7v-1h-1v1h-1v-1h-2v1h-2v-1h-1v1h-4v-1h-1v1h-3v-1h-1v1h-2v-1h-1v1h-4v-1h-3v1h-8v-1h-2v1h-1v-1h-2v2h-1v-1h-3v-1h-1v1h-10v-1h-2v1h-3v-1h-1v1h-4v-1h-1v1h-2v-1h-1v1h-10v-1h-2v1h-1v-1h-1v1h-3v-1h-1v1h-6v-1h-4v1h-6v-1h-1v1h-1v-1h-2v1h-3v-1h-1v1h-3v-1h-1v1h-5v-1h-2v1h-1v-1h-3v1h-4v-1h-2v1h-2v-1h-1v1h-5v-1h-2v1h-6v-1h-1v1h-2v-1h-1v1h-2v-1h-1v1h-2v-1h-1v1h-4v-1h-2v1h-7v-1h-1v1h-1v1h-1v-1h-2v-1h-6v1h-1v-1h-1v1h-1v-1h-3v1h-4v-1h-1v1h-3v-1h-1v1h-2v-1h-1v1h-3v-1h-2v1h-2v-1h-1v1h-2v-1h-2v1h-1v-1h-1v1h-1v-1h-1v1h-4v-1h-1v1h-1v-1h-1v1h-8v-1h-2v1h-4v-1h-2v1h-6v-1h-1v1h-15v-1h-2v1h-2v-1h-2v1h-2v-1h-1v1h-3v-1h-1v1h-10v-1h-1v1h-3v-1h-1v1h-2v-1h-1v1h-7v-1h-1v1h-2v-1h-2v1h-1v-1h-1v1h-7v-1h-1v1h-2v-1h-1v1h-3v-1h-1v1h-1v-1h-2v1h-5v-1h-1v1h-3v-1h-2v1h-8v-1h-2v1h-4v-1h-3v1h-2v-1h-1v1h-1v-1h-1v1h-2v-1h-1v1h-8v-1h-1v1h-2v-1h-2v1h-6v-1h-1v1h-1v-1h-1v1h-7v-1h-1v1h-1v-1h-1v1h-1v-1h-2v1h-6v-1h-1v1h-5v-1h-4v1h-4v-1h-4v1h-12v-1h-2v1h-5v-1h-2v1h-6v-1h-1v1h-2v-1h-1v1h-2v-1h-1v1h-2v-1h-1v1h-6v-1h-2v1h-2v-1h-1v1h-3v-1h-1v1h-1v-1h-1v1h-4v-1h-1v1h-6v-1h-1v1h-3v-1h-1v1h-2v-1h-2v1h-5v-1h-1v1h-1v-1h-1v1h-1v-1h-1v1h-7v-1h-1v1h-1v-1h-1v1h-3v-1h-3v1h-1v-1h-1v1h-2v-1h-1v1h-5v-1h-1v1h-1v-1h-1v1h-3v-1h-2v1h-10v-1h-1v1h-6v-1h-1v1h-2v-1h-2v1h-4v-1h-1v1h-6v-1h-1v1h-1v-1h-1v1h-1v-1h-1v1h-4v-1h-3v1h-1z"/><path fill="#000" d="M50 837h16v-1h1v1h25v1h1v-1h31v1h1v-1h160v1h1v-1h92v1h1v-1h3v1h1v-1h44v1h1v-1h276v1h1v-1h65V839h-12v-1h-1v1h-5v-1h-6v1h-5v-1h-1v1h-6v-1h-2v1h-1v-1h-2v1h-3v-1h-1v1h-2v-1h-1v1h-1v-1h-3v1h-5v-1h-2v1h-3v-1h-2v1h-2v-1h-3v1h-1v-1h-2v1h-5v-1h-2v1h-3v-1h-2v1h-2v-1h-2v1h-2v-1h-2v1h-6v-1h-1v1h-4v-1h-1v1h-6v-1h-1v1h-2v-1h-1v1h-2v-1h-1v1h-5v-1h-1v1h-13v-1h-4v1h-3v-1h-1v1h-3v-1h-1v1h-17v-1h-6v1h-21v-1h-1v1h-2v-1h-2v1h-3v-1h-3v1h-1v-1h-1v1h-8v-1h-4v1h-1v-1h-1v1h-17v-1h-1v1h-3v-1h-3v1h-2v-1h-2v1h-5v-1h-3v1h-6v-1h-1v1h-11v-1h-1v1h-6v-1h-1v1h-2v-1h-2v1h-1v-1h-1v1h-10v-1h-1v1h-7v-1h-1v1h-6v-1h-1v1h-11v-1h-3v1h-4v-1h-1v1h-5v-1h-3v1h-7v-1h-1v1h-7v-1h-1v1h-2v-1h-3v1h-7v-1h-2v1h-1v-1h-1v1h-18v-1h-1v1h-4v-1h-1v1h-4v-1h-2v1h-4v-1h-1v1h-3v-1h-1v1h-2v-1h-2v1h-2v-1h-2v1h-13v-1h-1v1h-5v-1h-2v1h-8v-1h-2v1h-19v-1h-1v1h-9v-1h-1v1h-3v-1h-1v1h-3v-1h-2v1h-10v-1h-1v1h-1v-1h-1v1h-1v-1h-1v1h-8v-1h-1v1h-3v-1h-3v1h-14v-1h-1v1h-4v-1h-1v1h-12v-1h-1v1h-4v-1h-2v1h-4v-1h-1v1h-4v-1h-3v1h-3v-1h-1v1h-11v-1h-1v1h-7v-1h-2v1h-7v-1h-1v1h-7v-1h-1v1h-14v-1h-2v1h-8v-1h-2v1h-1v-1h-1v1h-13v-1h-1v1h-4v-1h-1v1h-6v-1h-2v1h-5v-1h-2v1h-10v-1h-1v1h-1v-1h-1v1h-1v-1h-2v1h-1v-1h-1v1h-2v-1h-1v1h-1v-1h-1v1h-6v-1h-1v1h-3v-1h-1v1h-1v-1h-1v1h-1v-1h-1v1h-9z"/><path fill="#f00" d="M50 852h145v1h1v-1h23v1h1v-1h4v1h1v-1h7v1h1v-1h14v1h1v-1h24v1h1v-1h23v1h1v-1h29v1h1v-1h161v-1h1v1h12v1h1v-1h36v1h1v-1h102v1h1v-1h21v1h1v-1h74v1h1v-1h31V853h-2v1h-6v-1h-3v1h-1v-1h-1v1h-1v-1h-2v1h-2v-1h-1v1h-1v-1h-3v1h-2v-1h-2v1h-7v-1h-2v1h-2v-1h-4v1h-3v-1h-1v1h-4v-1h-1v1h-1v-1h-1v1h-2v-1h-1v1h-5v-1h-1v1h-10v-1h-2v1h-2v-1h-2v1h-8v-1h-2v1h-1v-1h-1v1h-6v-1h-1v1h-7v-1h-1v1h-19v-1h-2v1h-5v-1h-3v1h-7v-1h-1v1h-3v-1h-2v1h-4v-1h-2v1h-2v-1h-3v1h-1v-1h-1v1h-2v-1h-1v1h-3v-1h-1v1h-5v-1h-1v1h-12v-1h-1v1h-3v-1h-2v1h-7v-1h-2v1h-1v-1h-2v1h-5v-1h-1v1h-4v-1h-1v1h-8v-1h-1v1h-5v-1h-1v1h-1v-1h-1v1h-8v-1h-1v1h-7v-1h-2v1h-5v-1h-1v1h-1v-1h-1v1h-7v-1h-1v1h-7v-1h-1v1h-2v-1h-1v1h-1v-1h-1v1h-4v-1h-2v1h-18v-1h-2v1h-1v-1h-4v1h-1v-1h-2v1h-1v-1h-1v1h-19v-1h-2v1h-2v-1h-3v1h-2v-1h-2v1h-7v-1h-4v1h-6v-1h-3v1h-4v-1h-1v1h-12v-1h-1v1h-10v-1h-3v1h-6v-1h-2v1h-3v-1h-2v1h-8v-1h-1v1h-7v-1h-2v1h-3v-1h-1v1h-7v-1h-3v1h-8v-1h-1v1h-3v-1h-1v1h-18v-1h-1v1h-10v-1h-1v1h-3v-1h-4v1h-5v-1h-1v1h-4v-1h-3v1h-2v-1h-1v1h-13v-1h-1v1h-8v-1h-2v1h-1v-1h-1v1h-2v-1h-2v1h-5v-1h-1v1h-19v-1h-1v1h-14v-1h-1v1h-6v-1h-1v1h-6v-1h-2v1h-2v-1h-1v1h-3v-1h-3v1h-15v-1h-2v1h-10v-1h-1v1h-1v-1h-1v1h-2v-1h-1v1h-1v-1h-1v1h-6v-1h-2v1h-6v-1h-1v1h-1v-1h-1v1h-6v-1h-2v1h-1v-1h-1v1h-4v-1h-1v1h-5v-1h-1v1h-1v-1h-1v1h-2v-1h-1v1h-1v-1h-1v1h-1v-1h-1v1h-3v-1h-1v1h-8v-1h-3v1h-1v-1h-1v1h-1v-1h-1v1h-1v-1h-1v1h-1v-1h-1v1h-14z"/><path fill="#00f" d="M50 867h28v-1h1v1h10v1h1v-1h40v1h1v-1h41v1h1v-1h284v1h1v-1h261v1h1v-1h50V869h-4v-1h-1v1h-1v-1h-1v1h-6v-1h-2v1h-2v1h-1v-1h-5v-1h-2v1h-18v-1h-2v1h-4v-1h-1v1h-4v-1h-2v1h-8v-1h-3v1h-2v-1h-1v1h-1v-1h-2v1h-3v-1h-2v1h-10v-1h-1v1h-5v-1h-5v1h-6v-1h-1v1h-2v1h-1v-1h-11v-1h-1v1h-5v-1h-3v1h-3v-1h-1v1h-4v-1h-1v1h-3v-1h-2v1h-4v-1h-1v1h-3v-1h-1v1h-3v-1h-2v1h-2v-1h-3v1h-2v-1h-1v1h-3v-1h-1v1h-4v-1h-1v1h-6v-1h-1v1h-8v-1h-1v1h-1v-1h-1v1h-1v-1h-1v1h-1v-1h-1v1h-1v-1h-1v1h-3v-1h-1v1h-2v-1h-1v1h-1v-1h-2v1h-1v-1h-1v1h-2v-1h-1v1h-3v-1h-3v1h-1v-1h-2v1h-2v-1h-4v1h-3v-1h-1v1h-4v-1h-1v1h-5v-1h-2v1h-9v-1h-1v1h-8v-1h-1v1h-3v-1h-2v1h-3v-1h-1v1h-2v-1h-1v1h-4v-1h-1v1h-11v-1h-3v1h-2v-1h-2v1h-2v-1h-1v1h-3v-1h-1v1h-5v-1h-1v1h-7v-1h-2v1h-4v-1h-1v1h-3v-1h-1v1h-2v-1h-3v1h-1v-1h-3v1h-11v-1h-1v1h-8v-1h-2v1h-7v-1h-1v1h-1v-1h-1v1h-3v-1h-2v1h-8v-1h-1v1h-8v-1h-1v1h-1v-1h-1v1h-2v-1h-1v1h-5v-1h-4v1h-5v-1h-1v1h-6v-1h-1v1h-2v-1h-2v1h-6v-1h-2v1h-4v-1h-1v1h-2v-1h-1v1h-1v-1h-1v1h-3v-1h-1v1h-2v-1h-1v1h-8v-1h-1v1h-4v-1h-1v1h-3v-1h-2v1h-2v-1h-1v1h-3v-1h-1v1h-1v-1h-1v1h-12v-1h-1v1h-1v-1h-3v1h-8v-1h-1v1h-2v-1h-1v1h-10v-1h-1v1h-3v-1h-2v1h-3v-1h-2v1h-2v-1h-2v1h-1v-1h-2v1h-4v-1h-1v1h-8v-1h-2v1h-4v-1h-1v1h-1v-1h-1v1h-3v-1h-1v1h-8v-1h-2v1h-2v-1h-1v1h-1v-1h-1v1h-1v-1h-6v1h-3v-1h-1v1h-3v-1h-2v1h-1v-1h-1v1h-3v-1h-1v1h-3v-1h-1v1h-6v-1h-3v1h-8v-1h-1v1h-7v-1h-1v1h-3v-1h-2v1h-1v-1h-2v1h-3v-1h-1v1h-5v-1h-1v1h-9v-1h-1v1h-1v-1h-3v1h-3v-1h-2v1h-3v-1h-1v1h-4v-1h-2v1h-4v-1h-1v1h-2v1h-1v-1h-7v-1h-1v1h-6v-1h-1v1h-1v-1h-1v1h-1v-1h-1v1h-2v-1h-1v1h-4v-1h-1v1h-5v-1h-1v1h-1v-1h-1v1h-2v-1h-1z"/><path fill="#006400" d="M50 882h89v1h1v-1h31v-1h1v1h48v1h1v-1h65v1h1v-1h42v1h1v-1h19v1h1v-1h9v-1h1v1h156v1h1v-1h36v1h1v-1h27v-1h1v1h188V884h-2v-1h-1v1h-12v-1h-1v1h-4v-1h-2v1h-4v-1h-1v1h-4v-1h-1v1h-2v-1h-1v1h-12v-1h-1v1h-4v-1h-1v1h-5v-1h-3v1h-12v-1h-1v1h-15v-1h-1v1h-3v-1h-1v1h-1v-1h-1v1h-6v-1h-2v1h-9v-1h-2v2h-1v-1h-1v-1h-2v1h-1v-1h-1v1h-2v-1h-2v1h-3v-1h-1v1h-1v1h-1v-1h-2v-1h-2v1h-9v-1h-1v1h-17v-1h-2v1h-1v-1h-1v1h-8v-1h-1v1h-12v-1h-1v1h-1v-1h-1v1h-3v-1h-1v1h-5v-1h-3v1h-3v-1h-1v1h-4v-1h-1v1h-7v-1h-1v1h-6v-1h-3v1h-9v-1h-1v1h-3v-1h-1v1h-3v-1h-1v1h-9v-1h-1v1h-4v-1h-1v1h-6v-1h-1v1h-5v-1h-2v1h-7v-1h-2v1h-3v-1h-5v1h-8v-1h-1v1h-12v-1h-1v1h-6v-1h-1v1h-10v-1h-1v1h-9v-1h-1v1h-4v-1h-1v1h-1v-1h-3v1h-3v-1h-2v1h-11v-1h-1v1h-1v-1h-1v1h-4v-1h-1v1h-1v-1h-1v1h-6v-1h-1v1h-4v-1h-2v1h-1v-1h-3v1h-6v-1h-1v1h-5v-1h-2v1h-14v-1h-2v1h-1v-1h-1v1h-1v-1h-1v1h-9v-1h-1v1h-3v-1h-3v1h-4v-1h-3v1h-6v-1h-1v1h-7v-1h-1v2h-1v-1h-1v-1h-5v1h-2v-1h-1v1h-6v-1h-1v1h-12v-1h-1v1h-2v-1h-1v1h-4v-1h-1v1h-1v-1h-1v1h-16v-1h-1v1h-3v-1h-3v1h-15v-1h-1v1h-9v-1h-1v1h-4v-1h-1v1h-1v-1h-2v1h-6v-1h-4v1h-1v-1h-1v1h-12v-1h-3v1h-4v-1h-1v1h-6v-1h-1v1h-1v-1h-1v1h-7v-1h-2v1h-2v-1h-2v1h-1v-1h-3v1h-5v-1h-2v1h-10v-1h-1v1h-7v-1h-1v1h-5v-1h-1v1h-3v-1h-1v1h-4v-1h-1v1h-1v1h-1v-1h-1v-1h-1v1h-3v-1h-1v1h-7v-1h-1v1h-15v-1h-1v1h-5v-1h-2v1h-1v-1h-2v1h-14v-1h-1v1h-1z"/><path fill="#000" d="M50 897h66v-1h1v1h85v1h1v-1h81v1h1v-1h59v1h1v-1h43v1h1v-1h28v1h1v-1h64v-1h1v1h52v1h1v-1h38v1h1v-1h195V898h-2v1h-11v-1h-1v1h-1v-1h-1v1h-20v-1h-1v1h-2v-1h-1v1h-1v-1h-1v1h-4v-1h-1v1h-1v-1h-1v1h-8v-1h-3v1h-4v-1h-2v1h-4v-1h-1v1h-2v-1h-1v1h-1v-1h-1v1h-12v-1h-4v1h-10v-1h-1v1h-2v-1h-1v1h-2v-1h-1v1h-1v-1h-2v1h-3v-1h-1v1h-5v-1h-2v1h-1v-1h-1v1h-11v-1h-1v1h-4v-1h-2v1h-1v-1h-1v1h-3v-1h-2v1h-1v-1h-1v1h-10v-1h-1v1h-4v-1h-2v1h-3v-1h-2v1h-7v-1h-1v1h-1v-1h-1v1h-5v-1h-2v1h-2v-1h-2v1h-4v-1h-1v1h-12v-1h-1v1h-2v-1h-3v1h-2v-1h-1v1h-1v-1h-1v1h-1v-1h-2v1h-10v-1h-2v1h-1v-1h-1v1h-1v-1h-1v1h-15v-1h-1v1h-3v-1h-1v1h-6v-1h-3v1h-4v-1h-1v1h-5v-1h-1v1h-4v-1h-1v1h-3v-1h-2v1h-5v-1h-1v1h-2v-1h-2v1h-2v-1h-2v1h-1v-1h-1v1h-18v-1h-2v1h-10v-1h-2v1h-16v-1h-2v1h-6v-1h-1v1h-4v-1h-1v1h-2v-1h-1v1h-1v-1h-2v1h-11v-1h-1v1h-1v-1h-1v1h-1v-1h-2v1h-1v-1h-2v1h-5v-1h-1v1h-4v-1h-1v1h-3v-1h-1v1h-8v-1h-1v1h-7v-1h-1v1h-5v-1h-1v1h-2v-1h-1v1h-6v-1h-2v1h-5v-1h-4v1h-2v-1h-1v1h-2v-1h-1v1h-1v-1h-2v1h-1v-1h-1v1h-2v-1h-1v1h-2v-1h-1v1h-8v-1h-1v1h-3v-1h-1v1h-3v-1h-3v1h-6v-1h-2v1h-5v-1h-3v1h-9v-1h-2v1h-2v-1h-1v1h-8v-1h-3v1h-7v-1h-2v1h-4v-1h-1v1h-6v-1h-1v1h-3v-1h-1v1h-4v-1h-3v1h-3v-1h-1v1h-2v-1h-1v1h-1v-1h-1v1h-4v-1h-4v1h-3v-1h-1v1h-10v-1h-2v1h-1v-1h-1v1h-2v-1h-2v1h-1v-1h-1v1h-4v-1h-1v1h-2v-1h-1v1h-2v-1h-1v1h-2v-1h-1v1h-2v-1h-3v1h-1v-1h-3v1h-2v-1h-1v1h-8v-1h-1v1h-2v-1h-1v1h-2v-1h-1v1h-2v-1h-2v1h-18v-1h-1v1h-6v-1h-2v1h-4v-1h-1v1h-1v-1h-1v1h-11v-1h-1v1h-5v-1h-1v1h-8v-1h-1v1h-3v-1h-3v1h-4z"/><path fill="#f00" d="M50 912h18v1h1v-1h216v1h1v-1h52v1h1v-1h28v1h1v-1h65v1h1v-1h70v1h1v-1h26v1h1v-1h39v-1h1v1h198V914h-3v-1h-3v1h-3v-1h-2v1h-8v-1h-1v1h-7v-1h-1v1h-13v-1h-1v1h-18v-1h-2v1h-18v-1h-2v1h-6v-1h-3v1h-5v-1h-1v1h-4v-1h-1v1h-3v-1h-1v1h-11v-1h-1v1h-7v-1h-1v1h-3v-1h-3v1h-7v-1h-3v1h-10v-1h-1v1h-2v-1h-2v1h-2v-1h-6v1h-3v-1h-1v1h-2v-1h-2v1h-4v-1h-1v1h-4v-1h-1v1h-2v-1h-1v1h-2v-1h-1v1h-2v-1h-5v1h-4v-1h-1v1h-3v-1h-1v1h-16v-1h-1v1h-5v-1h-1v1h-12v-1h-1v1h-5v-1h-2v1h-3v-1h-1v1h-3v-1h-4v1h-1v-1h-3v1h-6v-1h-1v1h-8v-1h-1v1h-4v-1h-1v1h-5v-1h-1v1h-3v-1h-4v1h-3v-1h-1v1h-1v-1h-2v1h-14v-1h-1v1h-6v-1h-1v1h-7v-1h-1v1h-10v-1h-1v1h-22v-1h-2v2h-1v-1h-14v-1h-1v1h-13v-1h-2v1h-1v-1h-1v1h-2v-1h-2v1h-1v-1h-2v1h-4v-1h-2v1h-8v-1h-1v1h-4v-1h-2v1h-6v-1h-1v1h-7v-1h-2v1h-8v-1h-1v1h-1v-1h-1v1h-2v-1h-1v1h-1v-1h-1v1h-4v-1h-2v1h-20v-1h-1v1h-7v-1h-4v1h-5v-1h-1v1h-2v-1h-1v1h-12v-1h-1v1h-2v-1h-5v1h-10v-1h-3v1h-1v-1h-1v1h-5v-1h-1v1h-17v-1h-2v1h-6v-1h-3v1h-1v-1h-1v1h-7v-1h-2v1h-6v-1h-1v1h-6v-1h-1v1h-5v-1h-2v1h-5v-1h-3v1h-15v-1h-1v1h-2v-1h-1v1h-28v-1h-2v1h-19v-1h-1v1h-1v-1h-1v1h-2v-1h-3v1h-5v-1h-2v1h-5v-1h-2v1h-5v-1h-2v1h-5z"/><path fill="#00f" d="M50 927h4v1h1v-1h134v1h1v-1h90v1h1v-1h40v-1h1v1h25v1h1v-1h54v1h1v-1h65v1h1v-1h84v1h1v-1h18v1h1v-1h6v1h1v-1h6v-1h1v1h66v1h1v-1h9v1h1v-1h96v1h1v-1h9V929h-2v-1h-1v1h-3v-1h-1v1h-1v-1h-1v1h-20v-1h-1v1h-1v-1h-1v1h-1v-1h-1v1h-1v-1h-6v1h-1v-1h-1v1h-7v-1h-2v1h-2v-1h-2v1h-1v-1h-1v1h-2v-1h-1v1h-7v-1h-1v1h-2v-1h-1v1h-3v-1h-3v1h-1v-1h-1v1h-4v-1h-2v1h-2v-1h-1v1h-4v-1h-1v1h-4v-1h-1v1h-2v-1h-1v1h-6v-1h-2v1h-8v-1h-1v1h-3v-1h-1v1h-13v-1h-2v1h-1v-1h-1v1h-4v-1h-1v1h-10v-1h-1v1h-8v-1h-4v1h-2v-1h-1v1h-2v-1h-1v1h-7v-1h-1v1h-10v-1h-1v1h-2v-1h-1v1h-3v-1h-3v1h-5v-1h-1v1h-5v-1h-1v1h-4v-1h-1v1h-7v-1h-1v1h-3v-1h-1v1h-2v-1h-2v1h-1v-1h-4v1h-1v-1h-2v1h-9v-1h-1v1h-2v-1h-1v1h-5v-1h-2v1h-2v-1h-1v1h-5v-1h-1v1h-1v-1h-3v1h-11v-1h-1v1h-1v-1h-1v1h-10v-1h-1v1h-5v-1h-2v1h-8v-1h-1v1h-6v-1h-1v1h-1v-1h-1v1h-15v-1h-1v1h-3v-1h-1v1h-13v-1h-1v1h-1v-1h-3v1h-10v-1h-1v1h-3v-1h-2v1h-13v-1h-1v1h-4v-1h-1v1h-2v-1h-3v1h-1v-1h-1v1h-7v-1h-1v1h-1v-1h-1v1h-2v-1h-1v1h-7v-1h-2v1h-14v-1h-3v1h-2v-1h-1v1h-3v-1h-2v1h-7v-1h-1v1h-3v-1h-5v1h-1v-1h-1v1h-2v-1h-1v1h-25v-1h-1v1h-3v-1h-1v1h-3v-1h-1v1h-5v-1h-1v1h-12v-1h-1v1h-1v-1h-1v1h-5v-1h-1v1h-3v-1h-2v1h-19v-1h-1v1h-4v-1h-2v1h-2v1h-1v-1h-2v-1h-2v1h-1v-1h-1v1h-3v-1h-2v1h-3v-1h-1v1h-11v-1h-1v1h-6v-1h-1v1h-9v-1h-2v1h-2v-1h-1v1h-3v-1h-1v1h-2v-1h-1v1h-4v-1h-1v1h-2v-1h-3v1h-6v-1h-1v1h-17v-1h-1v1h-5v-1h-1v1h-4v-1h-1v1h-13v-1h-2v1h-4v-1h-1v1h-10v-1h-1v1h-3v-1h-1v1h-1v-1h-1v1h-4v-1h-1v1h-8z"/><path fill="#006400" d="M50 942h2v-1h1v1h103v1h1v-1h6v-1h1v1h68v1h1v-1h86v-1h1v1h13v1h1v-1h26v1h1v-1h30v1h1v-1h1v1h1v-1h7v1h1v-1h126v1h1v-1h81v1h1v-1h22v1h2v-1h120v1h1v-1h2v1h1v-1h11V944h-7v-1h-1v1h-5v-1h-1v1h-5v-1h-2v1h-2v-1h-2v1h-8v-1h-1v1h-3v-1h-4v1h-11v-1h-1v1h-1v-1h-4v1h-3v-1h-1v1h-5v-1h-1v1h-7v-1h-1v1h-4v-1h-1v1h-2v-1h-4v1h-13v-1h-1v1h-3v-1h-3v1h-4v-1h-2v1h-4v-1h-1v1h-6v-1h-1v1h-17v-1h-1v1h-4v-1h-1v1h-2v-1h-1v1h-1v-1h-5v1h-13v-1h-1v1h-1v1h-1v-1h-1v-1h-2v1h-1v-1h-1v1h-9v-1h-1v1h-3v-1h-1v1h-16v-1h-1v1h-22v-1h-1v1h-1v-1h-2v1h-17v-1h-1v1h-7v-1h-1v1h-11v-1h-1v1h-27v-1h-1v1h-6v-1h-1v1h-3v-1h-1v1h-7v-1h-1v1h-1v-1h-1v1h-3v-1h-1v1h-11v-1h-1v1h-1v-1h-3v1h-5v-1h-1v1h-5v-1h-2v1h-2v-1h-2v1h-12v-1h-2v1h-13v-1h-1v1h-4v-1h-2v1h-14v-1h-1v1h-15v-1h-1v1h-4v-1h-2v1h-1v-1h-1v1h-5v-1h-3v1h-3v-1h-1v1h-23v-1h-1v1h-3v-1h-1v1h-5v-1h-1v1h-2v-1h-1v1h-2v-1h-4v1h-1v-1h-1v1h-3v-1h-1v1h-4v-1h-2v1h-3v-1h-1v1h-3v-1h-3v1h-4v-1h-1v1h-3v-1h-3v1h-2v-1h-2v1h-12v-1h-1v1h-1v-1h-4v1h-15v-1h-1v1h-10v-1h-1v1h-16v-1h-1v1h-16v-1h-1v1h-1v-1h-1v1h-4v-1h-2v1h-8v-1h-2v1h-2v-1h-1v1h-1v-1h-1v1h-5v-1h-1v1h-1v-1h-1v1h-5v-1h-1v1h-2v-1h-2v1h-1v-1h-1v1h-10v-1h-1v1h-6v-1h-1v1h-16v-1h-2v1h-11v-1h-1v1h-4v-1h-3v1h-2v-1h-1v1h-10v-1h-1v1h-5z"/><path fill="#000" d="M50 957h78v1h1v-1h69v1h1v-1h29v-1h1v1h65v1h1v-1h10v1h1v-1h5v1h1v-1h6v1h1v-1h111v1h1v-1h9v1h1v-1h20v1h1v-1h25v1h1v-1h53v1h1v-1h17v1h1v-1h61v-1h1v1h4v-1h2v1h1v-1h1v1h18v-1h1v1h2v-1h4v1h3v-1h1v1h2v-1h1v1h1v-1h2v1h2v-1h2v1h5v-1h1v1h5v-1h1v1h5v-1h1v1h6v-1h1v1h6v-1h1v1h51v1h1v-1h17V959h-3v-1h-1v1h-2v-1h-1v1h-2v-1h-1v1h-5v-1h-1v1h-4v-1h-1v1h-2v-1h-1v1h-8v-1h-2v1h-24v-1h-1v1h-8v-1h-2v1h-2v1h-1v-1h-5v1h-1v-1h-4v1h-1v-1h-3v1h-2v-1h-2v1h-1v-1h-3v1h-1v-1h-2v1h-1v-1h-7v1h-1v-1h-4v1h-1v-1h-2v1h-1v-1h-6v1h-1v-1h-3v1h-1v-1h-7v1h-1v-1h-1v1h-3v-1h-14v1h-1v-1h-5v-1h-1v1h-5v-1h-4v1h-1v-1h-1v1h-2v-1h-2v1h-2v-1h-2v1h-4v-1h-1v1h-17v-1h-1v1h-4v-1h-1v1h-2v-1h-1v1h-3v-1h-1v1h-4v-1h-1v1h-9v-1h-1v1h-9v-1h-2v1h-1v-1h-3v1h-9v-1h-3v1h-5v-1h-1v1h-3v-1h-2v1h-12v-1h-1v1h-3v-1h-1v1h-1v-1h-5v1h-1v-1h-2v1h-5v-1h-4v1h-3v-1h-2v1h-6v-1h-1v1h-9v-1h-1v1h-1v-1h-3v1h-12v-1h-1v1h-1v-1h-1v1h-2v-1h-2v1h-6v-1h-3v1h-14v-1h-1v1h-7v-1h-1v1h-4v-1h-1v1h-3v-1h-1v1h-1v-1h-1v1h-4v-1h-1v1h-1v-1h-2v1h-1v-1h-2v1h-7v-1h-1v1h-4v-1h-1v1h-14v-1h-1v1h-2v-1h-4v1h-1v-1h-2v1h-12v-1h-2v1h-3v-1h-1v1h-8v-1h-1v1h-2v-1h-2v1h-1v-1h-2v1h-13v-1h-1v1h-5v-1h-1v1h-3v-1h-1v1h-1v-1h-1v1h-1v-1h-1v1h-2v-1h-1v1h-1v-1h-1v1h-3v-1h-1v1h-5v-1h-1v1h-13v-1h-1v1h-7v-1h-2v1h-1v-1h-2v1h-6v-1h-3v1h-5v-1h-1v1h-4v-1h-1v1h-4v-1h-1v1h-1v-1h-1v1h-8v1h-1v-1h-1v-1h-1v1h-1v-1h-2v1h-1v-1h-1v1h-8v-1h-2v1h-3v-1h-1v1h-4v-1h-3v1h-6v-1h-1v1h-1v-1h-2v1h-3v-1h-7v1h-4v-1h-1v1h-3v-1h-1v1h-2v-1h-1v1h-1v-1h-2v1h-7v-1h-1v1h-1v-1h-1v1h-8v-1h-3v1h-1v-1h-2v1h-2v-1h-1v1h-7v-1h-1v1h-11v-1h-1v1h-1v-1h-2v1h-1v-1h-1v1h-5v-1h-6v1h-1v-1h-1v1h-1v-1h-1v1h-9v-1h-2v1h-3v-1h-1z"/><path fill="#f00" d="M50 972h68v1h1v-1h33v1h1v-1h27v1h1v-1h546v-1h1v1h42V974h-4v-1h-2v1h-1v-1h-1v1h-3v-1h-2v1h-9v-1h-3v1h-8v-1h-3v1h-10v-1h-2v1h-3v-1h-1v1h-2v-1h-2v1h-2v-1h-1v1h-1v-1h-1v1h-2v-1h-1v1h-3v-1h-1v1h-5v-1h-1v1h-1v-1h-2v1h-4v-1h-2v1h-1v-1h-1v1h-15v-1h-4v1h-4v-1h-1v1h-3v-1h-3v1h-3v-1h-1v1h-4v-1h-1v1h-3v-1h-1v1h-3v-1h-3v1h-7v-1h-1v1h-2v-1h-1v1h-3v-1h-1v1h-2v-1h-1v1h-6v-1h-2v1h-2v-1h-1v1h-5v-1h-1v1h-2v-1h-1v1h-3v-1h-1v1h-2v-1h-2v1h-2v-1h-1v1h-2v-1h-1v1h-5v-1h-1v1h-4v-1h-1v1h-1v-1h-1v1h-9v-1h-2v1h-2v-1h-1v1h-1v-1h-1v1h-3v-1h-2v1h-3v-1h-1v1h-1v-1h-2v1h-6v-1h-1v1h-2v-1h-1v1h-18v-1h-1v1h-7v-1h-1v1h-11v-1h-1v1h-15v-1h-1v1h-5v-1h-1v1h-12v-1h-1v1h-5v-1h-1v1h-4v-1h-1v1h-2v-1h-5v1h-1v-1h-2v1h-4v-1h-2v1h-1v-1h-1v1h-3v-1h-1v1h-1v-1h-1v1h-1v-1h-2v1h-8v-1h-1v1h-2v-1h-2v1h-3v-1h-3v1h-2v-1h-1v1h-1v-1h-2v1h-4v-1h-1v1h-5v-1h-1v1h-4v-1h-1v1h-5v-1h-2v1h-1v-1h-2v1h-1v-1h-1v1h-4v-1h-1v1h-2v-1h-1v1h-10v-1h-1v1h-1v-1h-1v1h-3v-1h-1v1h-7v-1h-1v1h-1v-1h-1v1h-1v-1h-1v1h-1v-1h-1v1h-1v-1h-3v1h-2v-1h-1v1h-3v-1h-1v1h-4v-1h-1v1h-11v-1h-1v1h-3v-1h-1v1h-5v-1h-1v1h-2v-1h-1v1h-8v-1h-1v1h-4v-1h-1v1h-1v-1h-1v1h-4v-1h-2v1h-1v-1h-2v1h-1v-1h-2v1h-4v-1h-1v1h-2v-1h-1v1h-2v-1h-1v1h-4v-1h-2v1h-3v-1h-1v1h-5v-1h-2v1h-2v-1h-3v1h-2v-1h-1v1h-1v-1h-1v1h-6v-1h-1v1h-4v-1h-1v1h-6v-1h-1v1h-2v-1h-2v1h-1v-1h-1v1h-6v-1h-2v1h-1v-1h-1v1h-5v-1h-1v1h-2v-1h-1v1h-8v-1h-2v1h-1v-1h-1v1h-7v-1h-2v1h-1v-1h-1v1h-4v-1h-3v1h-15v-1h-1v1h-6v-1h-1v1h-1v-1h-3v1h-1v-1h-1v1h-3v-1h-4v1h-7v-1h-1v1h-5v-1h-1v1h-3v-1h-2v1h-5v-1h-1v1h-7v-1h-1v1h-6v-1h-1v1h-1v-1h-1v1h-2v-1h-1v1h-6v-1h-1v1h-9v-1h-1z"/><path fill="#00f" d="M50 987h168v-1h1v1h322v1h1v-1h5v1h1v-1h36v1h1v-1h113v1h1v-1h71V989h-1v-1h-2v1h-13v-1h-1v1h-5v-1h-1v1h-5v-1h-2v1h-17v-1h-2v1h-1v-1h-1v1h-3v1h-1v-1h-20v-1h-1v1h-18v-1h-4v1h-8v-1h-1v1h-2v-1h-1v1h-4v-1h-1v1h-3v-1h-1v1h-12v-1h-1v1h-6v-1h-1v1h-4v-1h-2v1h-3v-1h-5v1h-7v-1h-1v1h-13v-1h-1v1h-35v-1h-2v1h-5v-1h-1v1h-2v-1h-2v1h-1v-1h-1v1h-1v-1h-3v1h-4v-1h-1v1h-2v-1h-2v1h-1v-1h-1v1h-3v-1h-1v1h-5v-1h-2v1h-14v-1h-3v1h-2v-1h-1v1h-22v-1h-1v1h-6v-1h-2v1h-3v-1h-1v1h-2v-1h-1v1h-1v-1h-1v1h-2v-1h-1v1h-3v-1h-2v1h-1v-1h-1v1h-1v-1h-2v1h-6v-1h-1v1h-14v-1h-2v1h-4v-1h-1v1h-6v-1h-2v1h-9v-1h-2v1h-2v-1h-1v1h-9v-1h-4v1h-2v-1h-1v1h-9v-1h-1v1h-5v1h-1v-2h-2v1h-11v-1h-2v1h-1v-1h-1v1h-7v-1h-3v1h-9v-1h-1v1h-15v-1h-1v1h-15v-1h-2v1h-4v-1h-2v1h-2v1h-1v-1h-2v-1h-1v1h-2v-1h-2v1h-7v-1h-1v1h-3v-1h-1v1h-3v-1h-5v1h-4v-1h-1v1h-5v-1h-1v1h-3v-1h-1v1h-3v-1h-1v1h-1v-1h-1v1h-3v-1h-1v1h-1v-1h-1v1h-12v-1h-1v1h-24v-1h-1v1h-12v-1h-2v1h-1v-1h-1v1h-3v-1h-1v1h-1v-1h-1v1h-2v-1h-1v1h-5v-1h-1v1h-2v-1h-2v1h-9v-1h-1v1h-1v-1h-1v1h-1v-1h-1v1h-1v-1h-1v1h-9v-1h-2v1h-11v-1h-1v1h-6v-1h-1v1h-7v-1h-4v1h-2v-1h-2v1h-2v-1h-1v1h-2v-1h-1v1h-1v-1h-2v1h-2v-1h-1v1h-3v-1h-1v1h-8v-1h-3v1h-4v-1h-3v1h-5v-1h-1v1h-2v-1h-1v1h-4v-1h-1z"/><path fill="#006400" d="M50 1002h89v1h1v-1h143v1h1v-1h69v1h1v-1h24v1h1v-1h38v-1h1v1h6v-1h1v1h109v-1h1v1h34v1h1v-1h18v1h1v-1h38v-1h1v1h1v-1h1v1h1v-1h1v1h1v-1h1v1h56v1h1v-1h2v1h1v-1h15v1h1v-1h29v1h1v-1h30V1003h-2v1h-2v-1h-1v1h-2v-1h-1v1h-8v1h-1v-1h-6v-1h-4v1h-1v-1h-1v1h-2v-1h-1v1h-2v-1h-1v1h-1v-1h-1v1h-9v-1h-1v1h-5v-1h-1v1h-3v-1h-1v1h-6v-1h-1v1h-1v-1h-1v1h-7v-1h-1v1h-1v-1h-1v1h-2v-1h-1v1h-1v-1h-3v1h-2v-1h-2v2h-1v-1h-8v-1h-1v1h-7v-1h-1v1h-5v-1h-1v1h-3v-1h-3v1h-2v-1h-1v1h-3v-1h-1v1h-13v1h-4v-1h-2v-1h-1v1h-5v-1h-2v1h-1v-1h-3v1h-1v-1h-1v1h-20v-1h-1v1h-9v-1h-1v1h-4v-1h-1v1h-3v-1h-1v1h-1v-1h-2v1h-13v-1h-2v1h-11v-1h-4v1h-2v-1h-2v1h-2v-1h-1v1h-12v-1h-1v1h-1v-1h-1v1h-18v-1h-1v1h-7v-1h-2v1h-6v-1h-1v1h-6v-1h-2v1h-9v-1h-2v1h-3v-1h-4v1h-1v-1h-1v1h-16v-1h-1v1h-4v-1h-3v1h-14v-1h-1v1h-4v-1h-2v1h-13v-1h-2v1h-9v-1h-1v1h-1v-1h-2v1h-1v-1h-1v1h-14v-1h-1v1h-2v-1h-2v1h-1v-1h-1v1h-3v-1h-1v1h-3v-1h-2v1h-5v-1h-3v1h-1v-1h-1v1h-8v-1h-1v1h-1v-1h-1v1h-7v-1h-1v1h-8v-1h-1v1h-8v-1h-1v1h-5v-1h-1v1h-1v-1h-1v1h-5v-1h-1v1h-3v-1h-2v1h-12v-1h-1v1h-32v-1h-1v1h-8v-1h-2v1h-4v-1h-1v1h-10v-1h-1v1h-6v-1h-1v1h-4v-1h-1v1h-10v-1h-2v1h-9v-1h-1v1h-4v-1h-1v1h-3v-1h-4v1h-5v-1h-1v1h-1v-1h-1v1h-7v-1h-1v1h-1v-1h-1v1h-9v-1h-1v1h-10v-1h-2v1h-12v-1h-3v1h-4v-1h-2v1h-3v-1h-1v1h-6v-1h-1v1h-3v-1h-2v1h-1v-1h-1v1h-5v-1h-1v1h-7v-1h-1v1h-4v-1h-1v1h-6v-1h-1v1h-9v-1h-1v1h-1z"/><path fill="#000" d="M50 1017h14v1h1v-1h43v1h1v-1h8v1h1v-1h4v1h1v-1h10v1h1v-1h45v1h1v-1h105v-1h2v1h8v-1h3v1h179v1h1v-1h46v-1h1v1h10v1h1v-1h138v1h1v-1h67v-1h1v1h19v1h1v-1h7V1018h-1v1h-7v-1h-2v1h-2v-1h-2v1h-1v-1h-1v1h-16v-1h-2v1h-1v-1h-1v1h-1v-1h-1v1h-3v-1h-1v1h-9v-1h-2v1h-3v-1h-1v1h-1v-1h-1v1h-3v-1h-1v1h-4v-1h-1v1h-1v-1h-1v1h-5v-1h-1v1h-7v-1h-4v1h-4v-1h-2v1h-8v-1h-1v1h-2v-1h-5v1h-3v-1h-3v1h-1v-1h-1v1h-8v-1h-2v1h-4v-1h-1v1h-4v-1h-1v1h-5v-1h-1v1h-2v-1h-1v1h-3v-1h-1v1h-5v-1h-1v1h-3v-1h-3v1h-2v-1h-1v1h-3v-1h-1v1h-2v-1h-1v1h-2v-1h-1v1h-2v-1h-2v1h-4v-1h-1v1h-5v-1h-1v1h-3v-1h-1v1h-3v-1h-1v1h-4v-1h-1v1h-21v-1h-2v1h-3v-1h-1v1h-1v-1h-1v1h-4v-1h-2v1h-1v-1h-2v1h-2v-1h-1v1h-3v-1h-1v1h-9v-1h-3v1h-1v-1h-1v1h-4v-1h-1v1h-2v-1h-1v1h-7v-1h-2v1h-3v-1h-1v1h-11v-1h-1v1h-7v-1h-1v1h-1v-1h-1v1h-9v-1h-1v1h-2v-1h-1v1h-3v-1h-1v1h-2v-1h-1v1h-2v-1h-2v1h-1v-1h-1v1h-2v-1h-3v1h-2v-1h-1v1h-4v-1h-1v1h-5v-1h-2v1h-1v-1h-2v1h-2v-1h-1v1h-7v-1h-1v1h-2v-1h-2v1h-2v-1h-1v1h-5v-1h-1v1h-5v-1h-1v1h-2v-1h-1v1h-1v-1h-1v1h-1v-1h-1v1h-2v-1h-3v1h-4v-1h-1v1h-2v-1h-1v1h-1v-1h-1v1h-1v-1h-1v1h-1v-1h-1v1h-3v-1h-1v1h-2v-1h-1v1h-8v-1h-6v1h-5v-1h-1v1h-12v-1h-2v1h-3v-1h-1v1h-3v-1h-1v1h-4v-1h-1v1h-3v-1h-2v1h-6v1h-1v-1h-5v1h-1v-1h-1v1h-1v-1h-3v-1h-1v1h-4v-1h-3v2h-1v-1h-11v-1h-1v1h-1v-1h-1v1h-9v-1h-2v1h-2v-1h-1v1h-5v-1h-2v1h-8v-1h-1v1h-9v-1h-1v1h-2v-1h-1v1h-2v-1h-1v1h-6v-1h-1v1h-4v-1h-2v1h-1v-1h-1v1h-7v-1h-3v1h-16v-1h-1v1h-6v-1h-1v1h-4v-1h-1v1h-1v-1h-10v1h-4v-1h-4v1h-1v-1h-1v1h-1v-1h-1v1h-2v-1h-1v1h-1v-1h-2v1h-5v-1h-1v1h-6v-1h-1v1h-1v-1h-1v1h-1v-1h-2v1h-8v-1h-1v1h-5v-1h-3v1h-2v-1h-5v1h-6v-1h-2v1h-2v-1h-1v1h-5v-1h-2v1h-2v-1h-3v1h-3v-1h-1v1h-2v-1h-1v1h-1v-1h-1v1h-4v-1h-1v1h-1v-1h-1z"/><path fill="#f00" d="M50 1032h111v1h1v-1h233v-1h1v1h20v-1h1v1h1v-1h3v1h5v-1h1v1h241v1h1v-1h51v1h1v-1h22v1h1v-1h26V1034h-8v-1h-1v1h-21v-1h-1v1h-7v-1h-1v1h-4v-1h-3v1h-9v-1h-2v1h-7v-1h-4v1h-1v-1h-1v1h-6v-1h-1v1h-2v-1h-1v1h-5v-1h-1v1h-14v-1h-1v1h-1v-1h-3v1h-4v-1h-1v1h-2v-1h-3v1h-2v-1h-1v1h-12v-1h-2v1h-1v-1h-1v1h-1v-1h-1v1h-8v-1h-3v1h-3v-1h-1v1h-2v-1h-6v1h-1v-1h-3v1h-2v-1h-1v1h-2v-1h-2v1h-8v-1h-1v1h-4v-1h-1v1h-4v-1h-2v1h-5v-1h-1v1h-6v-1h-1v1h-1v-1h-2v1h-9v-1h-1v1h-9v-1h-1v1h-1v-1h-1v1h-6v-1h-1v1h-7v-1h-1v1h-21v-1h-3v1h-2v-1h-3v1h-7v-1h-1v1h-18v-1h-1v1h-1v-1h-1v1h-15v-1h-2v1h-1v-1h-1v1h-5v-1h-1v1h-9v-1h-2v1h-6v1h-1v-1h-2v1h-3v-1h-1v1h-1v-1h-3v-1h-2v1h-3v-1h-2v1h-2v-1h-1v1h-3v-1h-2v1h-9v-1h-1v1h-1v-1h-1v1h-3v-1h-1v1h-3v-1h-1v1h-6v-1h-2v1h-11v-1h-1v1h-3v-1h-1v1h-2v-1h-1v1h-3v-1h-2v1h-2v-1h-6v1h-3v-1h-2v1h-2v-1h-1v1h-3v-1h-1v1h-9v-1h-1v1h-4v-1h-1v1h-2v-1h-1v1h-3v1h-1v-1h-4v-1h-1v1h-2v-1h-3v1h-1v-1h-1v1h-4v-1h-2v1h-1v-1h-2v1h-7v-1h-3v1h-2v-1h-1v1h-4v-1h-1v1h-2v-1h-1v1h-5v-1h-2v2h-1v-1h-12v-1h-4v1h-9v-1h-1v1h-3v1h-1v-1h-2v-1h-2v1h-7v-1h-1v1h-1v-1h-1v1h-6v-1h-1v1h-2v-1h-1v1h-3v-1h-1v1h-2v-1h-2v1h-5v-1h-1v1h-1v-1h-1v1h-2v-1h-1v1h-1v-1h-1v1h-6v-1h-1v1h-7v-1h-1v1h-3v-1h-1v1h-6v-1h-2v1h-7v-1h-5v1h-1v-1h-2v1h-1v-1h-1v1h-5v-1h-1v1h-3v-1h-2v1h-2v-1h-4v1h-9v-1h-1v1h-1v-1h-1v1h-4v-1h-1v1h-5v-1h-2v1h-8v-1h-1v1h-4v-1h-1v1h-16v-1h-1v1h-3v-1h-1v1h-12z"/><path fill="#00f" d="M50 1047h19v1h1v-1h131v1h1v-1h45v-1h1v1h8v1h1v-1h99v-1h1v1h226v-1h1v1h102v-1h1v1h1v-1h1v1h60v1h1v-1h20V1049h-2v-1h-1v1h-2v-1h-1v1h-2v-1h-4v1h-5v-1h-1v1h-4v-1h-1v1h-10v-1h-1v1h-3v-1h-1v1h-8v-1h-1v1h-12v-1h-4v1h-2v-1h-1v1h-2v-1h-1v1h-20v-1h-1v1h-16v-1h-1v1h-5v-1h-1v1h-2v-1h-1v1h-6v-1h-1v1h-9v-1h-1v1h-5v-1h-4v1h-1v-1h-1v1h-2v-1h-1v1h-9v-1h-3v1h-4v-1h-1v1h-1v-1h-3v1h-5v-1h-1v1h-1v-1h-1v1h-8v-1h-2v1h-2v-1h-1v1h-7v-1h-1v1h-3v-1h-2v1h-3v-1h-2v1h-7v-1h-4v1h-7v-1h-2v1h-2v-1h-1v1h-1v-1h-4v1h-5v-1h-1v1h-7v-1h-1v1h-4v-1h-1v1h-8v-1h-2v1h-7v-1h-1v1h-19v-1h-2v1h-19v-1h-1v1h-11v-1h-2v1h-18v-1h-1v1h-3v-1h-1v1h-1v-1h-2v1h-4v-1h-1v1h-3v-1h-2v1h-1v-1h-1v1h-1v-1h-5v1h-2v-1h-1v1h-1v-1h-2v1h-15v-1h-2v1h-8v-1h-2v1h-7v-1h-1v1h-10v-1h-1v1h-5v-1h-1v1h-6v-1h-4v1h-11v-1h-2v1h-1v-1h-2v1h-5v-1h-1v1h-3v-1h-2v1h-10v-1h-1v1h-4v-1h-1v1h-1v-1h-1v1h-3v-1h-1v1h-1v-1h-1v1h-2v-1h-1v1h-14v-1h-1v1h-8v-1h-3v1h-13v-1h-2v1h-1v-1h-1v1h-6v-1h-2v1h-2v-1h-1v1h-8v-1h-1v1h-14v-1h-1v1h-1v-1h-1v1h-12v-1h-3v1h-10v-1h-1v1h-9v-1h-1v1h-1v-1h-2v1h-2v-1h-1v1h-4v-1h-2v1h-4v-1h-1v1h-4v-1h-1v1h-2v-1h-2v1h-3v-1h-1v1h-3v-1h-1v1h-1v1h-1v-2h-2v1h-1v-1h-2v1h-2v-1h-2v1h-1v-1h-1v1h-10v-1h-1v1h-3v-1h-1v1h-3v-1h-1v1h-8v-1h-2v1h-2v-1h-5v1h-2v-1h-1v1h-13v-1h-2v1h-8v-1h-2v1h-1z"/><path fill="#006400" d="M50 1062h133v-1h1v1h30v1h1v-1h25v1h1v-1h16v1h1v-1h91v1h1v-1h81v1h1v-1h4v1h1v-1h7v1h1v-1h134v1h1v-1h5v1h1v-1h83v1h1v-1h100V1064h-3v-1h-1v1h-7v-1h-1v1h-1v-1h-4v1h-2v-1h-3v1h-2v-1h-1v1h-1v-1h-1v1h-5v-1h-2v1h-4v-1h-1v1h-7v-1h-1v1h-7v-1h-1v1h-3v-1h-2v1h-7v-1h-1v1h-4v-1h-1v1h-2v-1h-1v1h-3v-1h-1v1h-8v-1h-2v1h-4v-1h-1v1h-10v-1h-1v1h-2v-1h-1v1h-5v-1h-1v1h-2v-1h-1v1h-1v-1h-1v1h-3v-1h-2v1h-1v-1h-1v1h-5v-1h-1v1h-11v-1h-1v1h-2v-1h-1v1h-2v-1h-2v1h-3v-1h-1v1h-2v-1h-1v1h-10v-1h-2v1h-2v-1h-3v1h-10v-1h-2v1h-1v-1h-1v1h-1v-1h-1v1h-9v-1h-2v1h-1v-1h-1v1h-18v-1h-4v1h-5v-1h-1v1h-1v-1h-1v1h-5v-1h-1v1h-9v-1h-1v1h-10v-1h-1v1h-1v-1h-2v1h-6v-1h-2v1h-3v-1h-1v1h-1v-1h-1v1h-15v-1h-1v1h-9v-1h-1v1h-4v-1h-1v1h-9v-1h-1v1h-3v-1h-1v1h-3v-1h-1v1h-8v-1h-2v1h-4v-1h-5v1h-17v-1h-1v1h-15v-1h-1v1h-11v-1h-1v1h-2v1h-1v-1h-2v-1h-1v1h-9v-1h-1v1h-3v-1h-3v1h-4v-1h-1v1h-8v-1h-1v1h-3v-1h-1v1h-14v-1h-1v1h-21v-1h-1v1h-3v-1h-1v1h-2v-1h-1v1h-2v-1h-1v1h-5v-1h-1v1h-8v-1h-1v1h-2v-1h-1v1h-1v-1h-1v1h-2v-1h-3v1h-1v-1h-2v1h-2v-1h-1v1h-8v-1h-1v1h-1v-1h-2v1h-5v-1h-1v1h-1v-1h-3v1h-10v-1h-2v1h-16v-1h-1v1h-7v-1h-2v1h-5v-1h-1v1h-8v-1h-1v1h-10v-1h-1v1h-3v-1h-3v1h-2v-1h-1v1h-7v-1h-1v1h-3v-1h-1v1h-2v-1h-1v1h-5v-1h-1v1h-1v-1h-1v1h-2v-1h-1v1h-1v-1h-1v1h-2v-1h-1v1h-8v-1h-2v1h-1v-1h-1v1h-7v-1h-1v1h-12v-1h-1v1h-1v-1h-2v1h-11v-1h-1v1h-4v-1h-1v1h-4v-1h-4v1h-4v-1h-3v1h-1v-1h-1v1h-10v-1h-1v1h-2z"/><path fill="#000" d="M50 1077h194v1h1v-1h2v1h1v-1h18v-1h1v1h74v1h1v-1h16v1h1v-1h48v1h1v-1h147v-1h1v1h105v1h1v-1h108V1079h-11v-1h-3v1h-1v-1h-2v1h-3v-1h-1v1h-4v-1h-3v1h-3v-1h-2v1h-1v-1h-3v1h-1v-1h-1v1h-4v-1h-1v1h-1v-1h-1v1h-1v-1h-1v1h-1v-1h-1v1h-1v-1h-3v1h-10v-1h-1v1h-5v-1h-1v1h-2v-1h-3v1h-2v-1h-2v1h-9v-1h-1v1h-3v-1h-1v1h-1v-1h-1v1h-3v-1h-1v1h-2v-1h-1v1h-7v-1h-1v1h-20v-1h-1v1h-13v-1h-1v1h-14v-1h-3v1h-3v-1h-3v1h-5v-1h-1v1h-5v-1h-1v1h-7v-1h-1v1h-8v-1h-1v1h-20v-1h-1v1h-23v-1h-2v1h-16v-1h-1v1h-6v-1h-1v1h-3v-1h-2v1h-2v-1h-1v1h-3v-1h-2v1h-2v-1h-1v1h-10v-1h-1v1h-1v-1h-2v1h-1v-1h-1v1h-2v-1h-1v1h-2v-1h-3v1h-10v-1h-1v1h-4v-1h-1v1h-5v-1h-1v1h-3v-1h-2v1h-1v-1h-1v1h-2v-1h-1v1h-6v-1h-1v1h-1v-1h-4v1h-20v-1h-2v1h-2v-1h-1v1h-5v-1h-1v1h-4v-1h-2v1h-1v-1h-2v1h-1v-1h-1v1h-11v-1h-1v1h-7v-1h-1v1h-7v-1h-4v1h-16v-1h-1v1h-6v-1h-1v1h-1v-1h-7v1h-8v-1h-1v1h-11v-1h-1v1h-2v-1h-1v1h-5v-1h-2v1h-5v-1h-2v1h-1v-1h-2v1h-3v-1h-1v1h-7v-1h-1v1h-5v-1h-4v1h-31v-1h-1v1h-1v-1h-1v1h-2v-1h-1v1h-9v-1h-1v1h-3v-1h-3v1h-4v-1h-1v1h-7v-1h-1v1h-2v-1h-1v1h-5v-1h-1v1h-5v-1h-2v1h-1v-1h-5v1h-4v-1h-1v1h-9v-1h-2v1h-1v-1h-1v1h-1v-1h-2v1h-3v-1h-1v1h-3v-1h-1v1h-1v-1h-1v1h-8v-1h-1v1h-1v-1h-1v1h-4v-1h-1v1h-8v-1h-1v1h-7v-1h-1v1h-7v-1h-1v1h-3v-1h-1v1h-1v-1h-1v1h-8v-1h-1v1h-3v-1h-1v1h-2v-1h-1v1h-3v-1h-1v1h-4v-1h-1v1h-2v-1h-1v1h-1v-1h-3v1h-3z"/><path fill="#f00" d="M50 1092h16v1h1v-1h111v1h1v-1h17v1h1v-1h29v1h1v-1h197v1h1v-1h104v1h1v-1h4v1h1v-1h1v1h1v-1h51v1h1v-1h7v-1h1v1h122v-1h1v1h4v1h1v-1h42v1h1v-1h2V1094h-1v-1h-1v1h-1v-1h-1v1h-2v-1h-2v1h-10v-1h-1v1h-8v-1h-1v1h-4v-1h-1v1h-4v-1h-1v1h-15v-1h-2v1h-10v-1h-1v1h-6v-1h-2v1h-5v-1h-3v1h-5v-1h-2v1h-1v-1h-2v1h-17v-1h-1v1h-2v-1h-1v1h-4v-1h-1v1h-1v-1h-1v1h-7v-1h-2v1h-4v1h-1v-1h-4v-1h-1v1h-7v-1h-2v1h-12v-1h-1v1h-8v-1h-1v1h-10v-1h-1v1h-12v-1h-3v1h-2v-1h-1v1h-3v-1h-1v1h-2v-1h-4v1h-8v-1h-1v1h-2v-1h-1v1h-2v-1h-2v1h-17v-1h-1v1h-4v-1h-1v1h-6v-1h-1v1h-7v-1h-1v1h-1v-1h-1v1h-7v-1h-1v1h-4v-1h-1v1h-1v-1h-1v1h-2v-1h-1v1h-1v-1h-1v1h-1v-1h-1v1h-10v-1h-2v1h-13v-1h-2v1h-6v-1h-1v1h-4v-1h-1v1h-2v-1h-1v1h-1v-1h-1v1h-1v-1h-1v1h-2v-1h-1v1h-4v-1h-1v1h-5v-1h-2v1h-3v-1h-1v1h-5v-1h-1v1h-8v-1h-1v1h-3v-1h-1v1h-1v-1h-4v1h-1v-1h-1v1h-3v-1h-1v1h-3v-1h-1v1h-5v-1h-2v1h-9v-1h-1v1h-12v-1h-1v1h-13v-1h-2v1h-6v-1h-2v1h-5v-1h-1v1h-14v-1h-1v1h-4v-1h-3v1h-3v-1h-2v1h-1v-1h-3v1h-13v-1h-1v1h-6v-1h-1v1h-7v-1h-2v1h-5v-1h-1v1h-10v-1h-1v1h-7v-1h-1v1h-10v-1h-2v1h-2v-1h-1v1h-2v-1h-1v1h-1v-1h-3v1h-5v-1h-1v1h-5v-1h-2v1h-2v-1h-1v1h-5v-1h-1v1h-1v-1h-1v1h-10v-1h-1v1h-8v-1h-1v1h-4v-1h-1v1h-9v-1h-1v1h-5v-1h-2v1h-3v-1h-1v1h-4v-1h-1v1h-1v-1h-1v1h-6v-1h-1v1h-6v-1h-1v1h-2v-1h-1v1h-1v-1h-1v1h-21v-1h-2v1h-1v-1h-4v1h-1v-1h-1v1h-6v-1h-1v1h-6v-1h-1v1h-6v-1h-1v1h-6v-1h-1v1h-3v-1h-1v1h-4v-1h-1v1h-4z"/><path fill="#00f" d="M50 1107h35v1h1v-1h2v1h1v-1h31v1h1v-1h30v1h1v-1h55v1h1v-1h135v1h1v-1h31v1h1v-1h39v1h1v-1h98v-1h1v1h155v-1h1v1h99V1109h-6v-1h-3v1h-2v-1h-1v1h-4v-1h-1v1h-8v-1h-2v1h-4v-1h-1v1h-6v-1h-1v1h-3v-1h-1v1h-3v-1h-1v1h-2v-1h-3v1h-2v-1h-2v1h-6v-1h-1v1h-1v-1h-1v1h-1v-1h-2v1h-7v-1h-1v1h-4v1h-1v-1h-4v-1h-1v1h-2v-1h-1v1h-4v-1h-1v1h-2v-1h-1v1h-3v-1h-1v1h-2v-1h-1v1h-1v-1h-2v1h-1v-1h-1v1h-5v-1h-1v1h-4v-1h-2v1h-1v-1h-2v1h-2v-1h-2v1h-6v-1h-3v1h-10v-1h-1v1h-1v-1h-1v1h-10v-1h-1v1h-1v-1h-1v1h-9v-1h-1v1h-4v-1h-1v1h-3v-1h-1v1h-3v-1h-3v1h-4v-1h-1v1h-6v-1h-1v1h-12v-1h-1v1h-12v-1h-1v1h-10v-1h-1v1h-9v-1h-1v1h-2v-1h-2v1h-5v-1h-1v1h-8v-1h-1v1h-11v-1h-1v1h-3v-1h-4v1h-1v-1h-2v1h-4v1h-1v-2h-3v1h-3v-1h-3v1h-7v-1h-4v1h-5v1h-1v-1h-1v-1h-1v1h-4v-1h-2v1h-2v-1h-1v1h-2v-1h-1v1h-1v-1h-3v1h-2v-1h-2v1h-2v-1h-3v1h-1v-1h-1v2h-1v-1h-8v-1h-2v1h-4v-1h-1v1h-5v-1h-2v1h-4v-1h-1v1h-1v-1h-4v1h-14v-1h-1v1h-1v-1h-4v1h-8v-1h-1v1h-5v-1h-1v1h-1v-1h-1v1h-9v-1h-1v1h-11v-1h-1v1h-12v-1h-1v1h-1v-1h-1v1h-3v-1h-3v1h-3v-1h-1v1h-1v-1h-6v1h-1v-1h-1v1h-11v-1h-1v1h-12v-1h-2v1h-6v-1h-1v1h-11v-1h-1v1h-1v-1h-1v1h-2v-1h-2v1h-2v-1h-1v1h-6v-1h-1v1h-4v-1h-1v1h-1v-1h-2v1h-9v-1h-1v1h-6v-1h-2v1h-3v-1h-3v1h-2v-1h-2v1h-2v-1h-1v1h-5v-1h-1v1h-6v-1h-2v1h-1v-1h-1v1h-13v-1h-1v1h-1v-1h-1v1h-14v-1h-1v1h-2v-1h-1v1h-4v-1h-1v1h-1v-1h-1v1h-15v-1h-3v1h-6v-1h-1v1h-11v-1h-1v1h-8v-1h-1v1h-8v-1h-1v1h-12v-1h-3v1h-12v-1h-1v1h-5v-1h-1z"/><path fill="#006400" d="M50 1122h74v1h1v-1h52v1h1v-1h72v1h1v-1h43v-1h1v1h1v1h1v-1h151v-1h1v1h1v-1h1v-1h1v2h1v-1h1v-1h1v1h1v1h1v-2h1v1h1v1h1v-1h4v1h1v-2h1v1h1v1h2v-2h1v2h2v-1h1v1h1v-2h1v1h2v-1h1v2h1v-1h2v1h1v-1h2v1h2v-1h1v1h1v-1h1v1h1v-1h1v1h1v-1h1v1h5v-1h1v1h4v-1h1v1h1v-1h2v1h5v-1h1v1h2v-1h1v1h1v-1h1v1h4v-1h1v1h1v-1h1v1h4v-1h1v1h1v-1h1v1h1v-1h1v1h2v-1h4v-1h1v2h4v-1h1v1h2v-1h3v-1h2v1h1v1h1v-1h1v-1h1v2h2v-2h2v1h2v-1h1v1h3v1h9v-1h1v1h1v-1h1v1h2v-1h1v1h3v-1h1v1h3v-1h2v1h1v-1h1v1h1v-1h1v1h2v-1h1v1h1v-1h2v1h8v-1h1v1h1v-1h1v1h7v-1h1v1h4v-1h1v1h3v-1h1v1h16v1h1v-1h41v1h1v-1h24v-1h1v1h35v-1h1v1h21V1124h-3v-1h-3v1h-4v-1h-4v1h-4v-1h-2v1h-3v-1h-1v1h-10v-1h-4v1h-2v-1h-1v1h-4v-1h-1v1h-1v-1h-1v1h-1v-1h-1v1h-2v-1h-3v1h-3v-1h-4v1h-10v-1h-1v1h-1v-1h-1v1h-2v-1h-1v1h-5v-1h-1v1h-1v-1h-1v1h-12v-1h-1v1h-7v-1h-2v1h-17v-1h-1v1h-5v-1h-2v1h-11v1h-1v-1h-4v1h-3v-1h-2v1h-1v-1h-1v1h-1v-1h-3v1h-1v-1h-2v1h-1v-1h-1v1h-1v-1h-4v1h-1v-1h-1v1h-2v-1h-3v1h-1v-1h-3v1h-1v-1h-4v1h-1v-1h-1v1h-1v-1h-2v1h-1v-1h-1v1h-1v-1h-1v1h-1v-1h-3v2h-1v-2h-4v1h-1v-1h-1v1h-1v-1h-2v1h-1v-1h-1v2h-1v-1h-1v-1h-2v2h-1v-2h-1v1h-1v-1h-1v2h-1v-2h-3v1h-1v-1h-2v1h-1v-1h-1v2h-1v-2h-2v1h-1v-1h-3v1h-1v-1h-1v1h-1v-1h-2v1h-1v-1h-1v1h-1v-1h-3v1h-2v-1h-7v1h-1v-1h-4v1h-1v-1h-1v1h-1v-1h-2v1h-1v-1h-3v1h-1v-1h-1v1h-2v-1h-2v1h-3v-1h-2v1h-1v-1h-1v1h-4v-1h-2v1h-2v-1h-2v1h-3v1h-1v-2h-4v1h-1v1h-1v-1h-1v-1h-1v2h-1v-2h-2v1h-2v-1h-1v1h-1v-1h-1v2h-2v-1h-1v-1h-1v1h-1v-1h-1v2h-2v-1h-1v-1h-7v-1h-4v1h-1v-1h-3v1h-5v-1h-1v1h-1v-1h-1v1h-7v-1h-1v1h-1v-1h-2v1h-6v-1h-1v1h-2v-1h-1v1h-2v-1h-2v1h-4v-1h-1v1h-2v-1h-1v1h-3v-1h-1v1h-1v-1h-2v1h-2v-1h-1v1h-11v-1h-1v1h-7v-1h-1v1h-7v-1h-1v1h-1v-1h-2v1h-11v-1h-1v1h-1v-1h-1v1h-5v-1h-3v1h-1v-1h-1v1h-1v-1h-2v1h-2v-1h-2v1h-4v-1h-1v1h-1v-1h-1v1h-15v-1h-1v1h-4v-1h-2v1h-3v-1h-1v1h-16v-1h-1v1h-4v-1h-2v1h-10v-1h-1v1h-1v-1h-2v1h-9v-1h-1v1h-1v-1h-1v1h-7v-1h-3v1h-3v-1h-2v1h-3v-1h-1v1h-7v-1h-1v1h-9v-1h-1v1h-2v-1h-1v1h-2v-1h-2v1h-1v-1h-1v1h-1v-1h-1v1h-3v-1h-2v1h-3v-1h-1v1h-11v-1h-1v1h-4v-1h-1v1h-6v-1h-2v1h-3v-1h-1v1h-6v-1h-3v1h-1v-1h-2v1h-3v-1h-1v1h-2v-1h-1v1h-1v-1h-2v1h-20v-1h-1v1h-1v-1h-1v1h-4v-1h-1v1h-4v-1h-1v1h-2v-1h-1v1h-7v-1h-2v1h-9v-1h-1v1h-1v-1h-1v1h-3v-1h-1v1h-1v-1h-1v1h-5v-1h-1v1h-7v-1h-1v1h-4z"/><path fill="#000" d="M50 1137h9v1h2v-1h60v-1h1v1h20v1h1v-1h106v1h1v-1h10v1h1v-1h34v1h1v-1h90v1h1v-1h50v1h1v-1h165v1h1v-1h166V1139h-20v-1h-1v1h-3v-1h-2v1h-3v-1h-1v1h-3v-1h-1v1h-7v-1h-1v1h-7v-1h-2v1h-2v-1h-1v1h-9v-1h-1v1h-7v-1h-1v1h-4v-1h-2v1h-7v-1h-4v1h-3v-1h-1v1h-23v-1h-1v1h-3v-1h-1v1h-5v-1h-1v1h-10v-1h-1v1h-13v-1h-2v1h-2v-1h-1v1h-5v-1h-1v1h-6v-1h-1v1h-7v-1h-3v1h-4v-1h-1v1h-1v-1h-3v1h-2v-1h-1v1h-22v-1h-2v1h-8v-1h-2v1h-7v-1h-1v1h-2v-1h-1v1h-7v-1h-1v1h-6v-1h-2v1h-4v-1h-1v1h-1v-1h-1v1h-5v-1h-1v1h-12v-1h-2v1h-2v-1h-1v1h-8v-1h-1v1h-11v-1h-1v1h-1v-1h-4v1h-7v-1h-1v1h-12v-1h-1v1h-8v-1h-1v1h-5v-1h-3v1h-1v-1h-1v1h-5v-1h-1v1h-5v-1h-1v1h-2v-1h-2v1h-16v-1h-3v1h-1v-1h-2v1h-2v-1h-1v1h-3v-1h-1v1h-10v-1h-1v1h-6v-1h-1v1h-6v-1h-1v1h-2v-1h-1v1h-21v-1h-1v1h-5v-1h-1v1h-7v-1h-2v1h-7v-1h-2v1h-4v-1h-1v1h-3v-1h-2v1h-5v-1h-2v1h-8v-1h-1v1h-9v-1h-1v1h-10v-1h-2v1h-11v-1h-1v1h-2v-1h-2v1h-1v-1h-1v1h-9v-1h-1v1h-2v-1h-1v1h-6v-1h-3v1h-11v-1h-1v1h-6v-1h-2v1h-2v-1h-3v1h-14v-1h-1v1h-1v1h-1v-1h-1v-1h-1v1h-8v-1h-4v1h-4v-1h-3v1h-11v-1h-1v1h-8v-1h-1v1h-8v-1h-1v1h-20v-1h-1v1h-6v-1h-1v1h-9v-1h-2v1h-9v-1h-1v1h-7v-1h-1v1h-12v-1h-1v1h-2z"/><path fill="#f00" d="M50 1152h48v-1h1v1h81v1h1v-1h364v1h1v-1h1v1h1v-1h200v1h1v-1h21V1154h-10v-1h-1v1h-4v-1h-1v1h-6v-1h-2v1h-5v-1h-3v1h-2v-1h-4v1h-8v-1h-2v1h-1v-1h-2v1h-5v-1h-1v1h-1v-1h-1v1h-6v-1h-1v1h-4v-1h-2v1h-5v-1h-1v1h-3v-1h-1v1h-9v-1h-1v1h-6v-1h-2v1h-7v-1h-1v1h-5v-1h-1v1h-4v-1h-1v1h-8v-1h-3v1h-7v-1h-3v1h-1v-1h-1v1h-3v-1h-2v1h-5v-1h-2v1h-1v-1h-4v1h-2v-1h-1v1h-3v-1h-1v1h-1v-1h-1v1h-5v-1h-3v1h-1v-1h-2v1h-7v-1h-1v1h-7v-1h-2v1h-6v-1h-1v1h-2v-1h-1v1h-9v-1h-1v1h-20v-1h-2v1h-5v-1h-4v1h-2v-1h-1v1h-5v-1h-3v1h-1v-1h-1v1h-15v-1h-2v1h-5v-1h-3v1h-1v-1h-1v1h-10v-1h-1v1h-3v-1h-2v1h-4v-1h-1v1h-1v-1h-1v1h-5v-1h-1v1h-1v-1h-1v1h-6v-1h-2v1h-2v-1h-1v1h-3v-1h-1v1h-1v-1h-1v1h-8v-1h-3v1h-4v-1h-2v1h-17v-1h-1v1h-6v-1h-2v1h-1v-1h-2v1h-3v1h-1v-1h-18v-1h-2v1h-10v-1h-1v1h-4v-1h-1v2h-1v-2h-1v1h-1v-1h-2v1h-5v-1h-1v1h-1v-1h-1v1h-5v-1h-2v1h-11v-1h-2v1h-2v-1h-1v1h-1v-1h-1v1h-9v-1h-3v1h-1v-1h-1v1h-1v-1h-4v1h-7v-1h-1v1h-5v-1h-1v1h-4v-1h-1v1h-5v-1h-1v2h-1v-2h-2v1h-1v-1h-2v1h-4v-1h-1v1h-10v-1h-1v1h-20v-1h-2v1h-3v-1h-2v1h-1v-1h-1v1h-7v-1h-1v1h-2v-1h-2v1h-5v-1h-1v1h-7v-1h-2v1h-6v-1h-2v1h-1v-1h-2v1h-9v-1h-1v1h-7v-1h-1v1h-7v-1h-3v1h-6v-1h-1v1h-4v-1h-1v1h-21v-1h-3v1h-1v-1h-3v1h-2v-1h-1v1h-6v-1h-2v1h-3v-1h-1v1h-9v-1h-1v1h-7v-1h-1v1h-3v-1h-1v1h-2v-1h-2v1h-7v-1h-1v1h-8v-1h-1v1h-2z"/><path fill="#00f" d="M50 1167h197v-1h1v1h19v1h1v-1h209v1h1v-1h78v1h1v-1h42v1h1v-1h123v1h1v-1h31v1h1v-1h14V1169h-5v-1h-1v1h-5v-1h-1v1h-1v-1h-1v1h-10v-1h-2v1h-2v-1h-2v1h-1v-1h-1v1h-2v-1h-2v1h-2v-1h-1v1h-2v-1h-1v1h-5v-1h-2v1h-6v-1h-4v1h-1v-1h-1v1h-8v-1h-1v1h-14v-1h-1v1h-1v-1h-2v1h-1v-1h-1v1h-7v-1h-2v1h-7v-1h-2v1h-2v-1h-2v1h-4v-1h-2v1h-1v-1h-1v1h-7v-1h-1v1h-11v-1h-1v1h-2v-1h-2v1h-5v-1h-1v1h-7v-1h-1v1h-28v-1h-1v1h-3v-1h-4v1h-1v1h-1v-1h-10v-1h-1v1h-3v-1h-2v1h-10v-1h-1v1h-1v-1h-1v1h-3v-1h-2v1h-2v-1h-5v1h-3v-1h-1v1h-3v-1h-2v1h-8v-1h-1v1h-9v-1h-1v1h-4v-1h-1v1h-8v-1h-2v1h-7v-1h-2v1h-5v-1h-4v1h-7v-1h-1v1h-3v-1h-1v1h-3v-1h-1v1h-8v-1h-2v1h-2v-1h-1v1h-13v-1h-1v1h-12v-1h-1v1h-3v-1h-1v1h-3v-1h-1v1h-3v-1h-1v1h-10v-1h-1v1h-2v-1h-2v1h-5v-1h-1v1h-1v1h-1v-2h-1v1h-1v-1h-1v1h-6v-1h-1v1h-9v-1h-4v1h-3v-1h-2v1h-8v-1h-1v1h-1v-1h-2v1h-1v-1h-1v1h-4v-1h-4v1h-4v-1h-1v1h-1v-1h-1v1h-2v-1h-4v1h-4v-1h-2v1h-2v-1h-1v1h-12v-1h-3v1h-9v-1h-1v1h-1v-1h-2v1h-7v-1h-1v1h-2v-1h-1v1h-4v-1h-3v1h-4v-1h-1v1h-1v-1h-1v1h-2v-1h-2v1h-2v-1h-2v1h-7v-1h-1v1h-11v-1h-2v1h-1v-1h-2v1h-7v-1h-5v1h-5v-1h-2v1h-9v-1h-3v1h-6v-1h-2v1h-3v-1h-1v1h-3v-1h-1v1h-13v-1h-1v1h-5v-1h-2v1h-7v-1h-1v1h-14v-1h-1v1h-3v-1h-3v1h-6v-1h-1v1h-2v-1h-1v1h-10v-1h-2v1h-3v-1h-1v1h-1v-1h-1v1h-9v-1h-1v1h-1v-1h-1v1h-4v-1h-3v1h-4v-1h-1v1h-4v-1h-2v1h-1v-1h-1v1h-6v-1h-1v1h-10z"/><path fill="#006400" d="M50 1182h48v1h1v-1h6v1h1v-1h2v1h1v-1h12v1h1v-1h13v1h1v-1h96v1h1v-1h98v1h1v-1h143v1h1v-1h15v1h1v-1h75v1h1v-1h7v1h1v-1h93v1h1v-1h35v1h1v-1h64V1184h-4v-1h-4v1h-13v-1h-1v1h-3v-1h-1v1h-1v-1h-2v1h-1v-1h-2v1h-3v-1h-1v1h-7v-1h-1v1h-3v-1h-1v1h-2v-1h-1v1h-4v-1h-2v1h-2v-1h-1v1h-3v-1h-1v1h-1v-1h-2v1h-3v-1h-3v1h-3v-1h-1v1h-1v-1h-2v1h-12v-1h-1v1h-6v-1h-1v1h-1v-1h-2v1h-9v1h-1v-1h-1v-1h-1v1h-19v-1h-1v1h-8v-1h-1v1h-2v-1h-1v1h-8v-1h-1v1h-4v-1h-1v1h-1v-1h-1v1h-3v-1h-1v1h-1v-1h-3v1h-3v-1h-3v1h-2v-1h-1v1h-13v-1h-1v1h-1v-1h-2v1h-1v-1h-1v1h-1v-1h-2v1h-12v-1h-1v1h-1v-1h-1v1h-4v-1h-1v1h-2v-1h-1v1h-8v-1h-2v1h-3v-1h-2v1h-1v-1h-1v1h-1v-1h-2v1h-9v-1h-1v1h-1v-1h-1v1h-6v-1h-2v1h-3v-1h-1v1h-7v-1h-2v1h-4v-1h-1v1h-32v-1h-2v1h-3v-1h-1v1h-4v-1h-2v1h-13v-1h-1v1h-3v-1h-1v1h-5v-1h-2v1h-9v-1h-2v1h-13v-1h-1v1h-5v-1h-2v1h-8v-1h-1v1h-4v-1h-2v1h-5v-1h-2v1h-1v-1h-1v1h-3v-1h-3v1h-2v-1h-1v1h-1v-1h-3v1h-7v-1h-1v1h-2v-1h-1v1h-9v-1h-1v1h-6v-1h-2v1h-2v-1h-1v1h-6v-1h-2v1h-13v-1h-1v1h-1v-1h-1v1h-1v-1h-1v1h-1v-1h-1v1h-8v-1h-1v1h-5v-1h-1v1h-5v-1h-1v1h-5v-1h-1v1h-6v-1h-2v1h-6v-1h-2v1h-4v-1h-1v1h-2v-1h-1v1h-4v-1h-1v1h-9v-1h-1v1h-6v-1h-1v1h-5v-1h-3v1h-3v-1h-1v1h-4v-1h-3v1h-8v-1h-2v1h-4v-1h-2v1h-12v-1h-1v1h-11v-1h-1v1h-2v-1h-1v1h-13v-1h-1v1h-1v-1h-2v1h-8v-1h-1v1h-3v-1h-1v1h-4v-1h-1v1h-15v-1h-3v1h-2v-1h-1v1h-4v-1h-1v1h-5v-1h-1v1h-2v-1h-1v1h-9v-1h-2v1h-8v-1h-3v1h-3v-1h-2v1h-6z"/><path fill="#000" d="M50 1197h38v1h1v-1h56v-1h1v1h1v1h1v-1h12v1h1v-1h102v1h1v-1h301v1h1v-1h3v1h1v-1h22v1h1v-1h105v1h1v-1h71V1199h-1v-1h-2v1h-8v-1h-1v1h-2v-1h-2v1h-8v-1h-2v1h-1v-1h-1v1h-6v-1h-1v1h-2v-1h-2v1h-7v-1h-4v1h-1v-1h-1v1h-1v-1h-1v1h-3v-1h-3v1h-7v1h-1v-1h-5v-1h-1v1h-3v-1h-2v1h-1v-1h-1v1h-6v-1h-1v1h-2v-1h-1v1h-6v-1h-1v1h-1v-1h-1v1h-5v-1h-1v1h-1v-1h-3v1h-4v-1h-3v1h-12v-1h-1v1h-6v-1h-1v1h-8v-1h-1v1h-6v-1h-1v1h-14v-1h-1v1h-1v-1h-2v1h-3v-1h-2v1h-2v-1h-1v1h-1v-1h-1v1h-1v-1h-4v1h-6v-1h-1v1h-6v-1h-1v1h-11v-1h-2v1h-5v-1h-2v1h-2v-1h-3v1h-7v-1h-3v1h-20v-1h-2v1h-2v-1h-1v1h-4v-1h-7v1h-1v-1h-2v1h-7v-1h-2v1h-1v-1h-1v1h-3v-1h-1v1h-1v-1h-1v1h-4v-1h-2v1h-1v-1h-2v1h-3v-1h-1v1h-6v-1h-1v1h-6v-1h-1v1h-2v-1h-1v1h-3v-1h-1v1h-1v-1h-1v1h-1v-1h-1v1h-3v-1h-1v1h-1v-1h-4v1h-6v1h-1v-1h-1v-1h-1v1h-3v-1h-1v1h-13v-1h-1v1h-17v-1h-1v1h-7v-1h-1v1h-4v-1h-1v1h-1v-1h-1v1h-6v-1h-2v1h-4v-1h-2v1h-1v-1h-1v1h-9v-1h-1v1h-2v-1h-3v1h-9v-1h-2v1h-10v-1h-1v1h-3v-1h-1v1h-2v-1h-1v1h-2v-1h-2v1h-1v-1h-1v1h-2v-1h-2v1h-2v-1h-1v1h-5v-1h-2v1h-1v-1h-2v1h-1v-1h-2v1h-1v-1h-1v1h-3v-1h-1v1h-1v-1h-1v1h-5v-1h-1v1h-21v-1h-1v1h-3v-1h-1v1h-3v-1h-2v1h-11v-1h-1v1h-3v-1h-4v1h-3v-1h-1v1h-6v-1h-1v1h-3v-1h-3v1h-5v-1h-1v1h-1v-1h-1v1h-4v-1h-2v1h-3v-1h-1v1h-2v-1h-1v1h-1v-1h-1v1h-20v-1h-1v1h-9v-1h-2v1h-7v-1h-4v1h-9v-1h-1v1h-10v-1h-4v1h-1v-1h-1v1h-1v-1h-2v1h-5v-1h-1v1h-2v-1h-1v1h-5v-1h-1v1h-1v-1h-1v1h-6v-1h-2v1h-1v-1h-1v1h-1v-1h-1v1h-9v-1h-1v1h-2v-1h-1v1h-6v-1h-1v1h-2v-1h-1v1h-4v-1h-2v1h-1v-1h-1z"/><path fill="#f00" d="M50 1212h26v-1h1v1h17v1h1v-1h49v-1h1v1h25v1h1v-1h80v1h1v-1h2v1h1v-1h34v1h1v-1h19v1h1v-1h24v-1h1v1h54v1h1v-1h25v1h1v-1h44v1h1v-1h12v1h1v-1h10v1h1v-1h33v1h1v-1h85v1h1v-1h28v1h1v-1h83v1h1v-1h52V1213h-2v1h-11v-1h-1v1h-2v-1h-3v1h-3v-1h-1v1h-9v-1h-2v1h-1v-1h-4v1h-2v-1h-1v1h-2v-1h-2v1h-3v-1h-1v1h-4v-1h-1v1h-11v-1h-1v1h-1v-1h-1v1h-1v-1h-1v1h-1v-1h-1v1h-4v-1h-1v1h-2v-1h-3v1h-1v-1h-2v1h-9v-1h-2v1h-8v-1h-1v1h-7v-1h-1v1h-3v-1h-1v1h-1v-1h-1v1h-3v-1h-2v1h-3v-1h-3v1h-2v-1h-1v1h-7v-1h-1v1h-8v-1h-2v1h-3v-1h-4v1h-19v-1h-3v1h-5v-1h-2v1h-15v-1h-1v1h-14v1h-1v-1h-7v-1h-1v1h-5v-1h-1v1h-12v-1h-1v1h-1v-1h-3v1h-3v-1h-2v1h-1v-1h-1v1h-3v-1h-2v1h-10v-1h-1v1h-1v-1h-1v1h-3v-1h-1v1h-13v-1h-3v1h-10v-1h-1v1h-12v-1h-3v1h-4v-1h-1v1h-6v-1h-3v1h-7v-1h-1v1h-6v-1h-2v1h-2v-1h-1v1h-4v-1h-1v1h-16v-1h-1v1h-5v-1h-1v1h-3v-1h-1v1h-1v-1h-3v1h-15v-1h-1v1h-2v-1h-2v1h-3v-1h-1v1h-1v-1h-2v1h-5v-1h-2v1h-3v-1h-1v1h-9v-1h-1v1h-19v-1h-2v1h-7v-1h-1v1h-2v-1h-1v1h-2v-1h-1v1h-9v-1h-1v1h-3v-1h-2v1h-5v-1h-1v1h-2v-1h-5v1h-7v-1h-1v1h-4v-1h-2v1h-12v-1h-2v1h-1v-1h-2v1h-3v-1h-1v1h-8v-1h-1v1h-12v-1h-2v1h-4v-1h-1v1h-6v-1h-1v1h-4v-1h-1v1h-4v-1h-1v1h-6v-1h-2v1h-5v-1h-1v1h-5v-1h-1v1h-2v-1h-2v1h-2v-1h-1v1h-6v-1h-1v1h-7v-1h-1v1h-6v-1h-1v1h-11v-1h-1v1h-3v-1h-1v1h-3v-1h-1v1h-5v-1h-2v1h-6v-1h-1v1h-10v-1h-1v1h-5v-1h-5v1h-4v-1h-1v1h-12v-1h-2v1h-10v-1h-1v1h-5z"/><path fill="#00f" d="M50 1227h88v1h1v-1h132v-1h1v1h29v-1h1v1h146v1h1v-1h65v1h1v-1h32v-1h1v1h52v1h1v-1h58v-1h1v1h35v1h1v-1h42v1h1v-1h12v1h1v-1h6v1h1v-1h11V1229h-8v-1h-2v1h-27v-1h-1v1h-19v-1h-1v1h-2v-1h-3v1h-1v-1h-3v1h-2v-1h-1v1h-8v-1h-1v1h-34v-1h-1v1h-12v-1h-2v1h-4v-1h-2v1h-3v-1h-2v1h-4v-1h-1v1h-2v-1h-1v1h-7v-1h-1v1h-2v-1h-1v1h-13v-1h-1v1h-3v-1h-1v1h-3v-1h-1v1h-5v-1h-1v1h-1v-1h-1v1h-8v-1h-1v1h-1v-1h-2v1h-9v-1h-2v1h-5v-1h-1v1h-6v-1h-1v1h-6v-1h-1v1h-2v-1h-1v1h-2v-1h-1v1h-8v-1h-4v1h-2v-1h-4v1h-1v-1h-3v1h-3v-1h-2v1h-1v-1h-2v1h-4v-1h-1v1h-5v-1h-2v1h-2v-1h-1v1h-13v-1h-1v1h-1v-1h-1v1h-4v-1h-1v1h-1v-1h-1v1h-4v-1h-1v1h-13v-1h-1v1h-1v-1h-2v1h-2v-1h-2v1h-9v-1h-1v1h-3v1h-1v-1h-7v-1h-4v1h-7v-1h-4v1h-7v-1h-1v1h-7v1h-1v-1h-5v-1h-1v1h-9v-1h-1v1h-2v-1h-1v1h-16v-1h-3v1h-25v-1h-1v1h-4v-1h-2v1h-16v-1h-1v1h-4v-1h-1v1h-3v-1h-1v1h-5v-1h-1v1h-4v-1h-1v1h-3v-1h-1v1h-2v-1h-1v1h-2v-1h-1v1h-10v-1h-1v1h-9v-1h-2v1h-4v-1h-1v1h-5v-1h-5v1h-11v-1h-3v1h-3v-1h-2v1h-3v-1h-3v1h-14v-1h-1v1h-5v-1h-2v1h-1v-1h-3v1h-3v-1h-1v1h-23v-1h-1v1h-8v1h-1v-1h-3v-1h-1v1h-9v-1h-1v1h-5v-1h-1v1h-7v-1h-3v1h-9v-1h-2v1h-9v1h-1v-1h-5v-1h-1v1h-18v-1h-1v1h-3v-1h-1v1h-2v-1h-1v1h-1v-1h-1v1h-1v-1h-2v1h-5v-1h-1v1h-1z"/><path fill="#006400" d="M50 1242h81v1h1v-1h26v1h1v-1h102v1h1v-1h18v1h1v-1h139v-1h1v1h22v1h1v-1h50v-1h1v1h9v1h1v-1h45v1h1v-1h218v-1h1V1244h-2v-1h-1v1h-8v-1h-1v1h-1v-1h-2v1h-2v-1h-1v1h-2v-1h-3v1h-8v-1h-1v1h-10v-1h-1v1h-1v-1h-1v2h-1v-1h-5v-1h-1v1h-1v-1h-2v1h-10v-1h-1v1h-3v-1h-1v1h-4v-1h-4v1h-1v-1h-1v1h-4v-1h-1v1h-1v-1h-1v1h-1v-1h-1v1h-3v-1h-2v1h-2v-1h-1v1h-1v-1h-3v1h-4v-1h-1v1h-1v-1h-1v1h-1v-1h-1v1h-2v-1h-2v1h-1v-1h-1v1h-3v-1h-2v1h-6v-1h-2v1h-2v-1h-1v1h-5v-1h-1v1h-6v-1h-2v1h-2v-1h-1v1h-4v-1h-2v1h-14v-1h-2v1h-3v-1h-1v1h-7v-1h-2v1h-6v-1h-2v1h-6v-1h-1v1h-4v-1h-5v1h-2v-1h-1v1h-2v-1h-2v1h-7v-1h-2v1h-1v-1h-1v1h-4v-1h-2v1h-10v-1h-1v1h-6v-1h-1v1h-1v-1h-1v1h-3v-1h-1v1h-4v-1h-2v1h-6v-1h-1v1h-11v-1h-1v1h-10v-1h-1v1h-2v-1h-1v1h-3v-1h-1v1h-8v-1h-1v1h-6v-1h-1v1h-6v-1h-3v1h-1v-1h-1v1h-1v-1h-1v1h-2v-1h-1v1h-1v-1h-1v1h-2v-1h-1v1h-4v-1h-3v1h-1v-1h-3v1h-3v-1h-1v1h-2v-1h-2v1h-2v-1h-1v1h-6v-1h-1v1h-1v-1h-3v1h-1v-1h-2v1h-1v-1h-1v1h-1v-1h-1v1h-1v-1h-2v1h-3v-1h-1v1h-4v-1h-1v1h-4v-1h-1v1h-2v-1h-1v1h-1v-1h-2v1h-5v-1h-3v1h-7v-1h-1v1h-7v-1h-1v1h-1v-1h-1v1h-9v-1h-1v1h-3v-1h-1v1h-13v-1h-1v1h-3v-1h-1v1h-1v-1h-1v1h-5v-1h-1v1h-9v-1h-1v1h-1v-1h-1v1h-4v-1h-1v1h-9v-1h-2v1h-1v-1h-1v1h-1v-1h-2v1h-13v-1h-1v1h-1v-1h-1v1h-2v-1h-1v1h-6v-1h-1v1h-1v-1h-1v1h-4v-1h-1v1h-19v-1h-2v1h-5v-1h-1v1h-11v-1h-3v1h-1v-1h-3v1h-5v-1h-2v1h-4v-1h-1v1h-5v-1h-2v1h-2v-1h-1v1h-8v-1h-1v1h-9v-1h-2v1h-2v-1h-1v1h-6v-1h-1v1h-6v-1h-1v1h-1v-1h-1v1h-6v-1h-1v1h-1v-1h-1v1h-7v-1h-1v1h-2v-1h-1v1h-1v-1h-2v1h-3v-1h-2v1h-3v-1h-1v1h-2v-1h-1v1h-3v-1h-3v1h-2v-1h-2v1h-1v-1h-1v1h-8v-1h-4v1h-2v-1h-1v1h-2v-1h-1v1h-1v-1h-1v1h-2v-1h-1v1h-3v-1h-1v1h-3v-1h-1v1h-1v-1h-1v1h-3z"/><path fill="#000" d="M50 1257h4v1h1v-1h21v1h1v-1h54v1h1v-1h121v1h1v-1h48v1h1v-1h89v1h1v-1h131v1h1v-1h108v1h1v-1h136V1259h-8v-1h-1v1h-5v-1h-3v1h-2v-1h-1v1h-1v-1h-1v1h-13v-1h-1v1h-1v-1h-1v1h-2v-1h-1v1h-1v-1h-2v1h-5v-1h-1v1h-4v-1h-1v1h-2v-1h-2v1h-2v-1h-1v1h-5v-1h-1v1h-7v-1h-1v1h-2v-1h-3v1h-5v-1h-1v1h-4v-1h-2v1h-4v-1h-1v1h-4v-1h-1v1h-3v-1h-2v1h-5v-1h-1v1h-2v-1h-1v1h-13v-1h-1v1h-7v-1h-2v1h-6v-1h-1v1h-2v-1h-2v1h-1v-1h-1v1h-1v-1h-1v1h-6v-1h-1v1h-9v-1h-3v1h-3v-1h-1v1h-1v-1h-2v1h-1v-1h-1v1h-3v1h-1v-2h-2v1h-2v-1h-1v1h-1v-1h-2v1h-6v-1h-1v1h-4v-1h-3v1h-5v-1h-1v1h-5v-1h-1v1h-1v-1h-5v1h-10v-1h-1v1h-2v-1h-1v1h-3v-1h-1v1h-1v-1h-1v1h-2v-1h-1v1h-5v-1h-2v1h-4v-1h-1v1h-6v-1h-1v1h-1v-1h-1v1h-2v-1h-1v1h-2v-1h-4v1h-5v-1h-1v1h-1v-1h-1v1h-3v-1h-1v1h-6v-1h-4v1h-1v-1h-1v1h-14v-1h-1v1h-6v-1h-1v1h-1v-1h-1v1h-7v-1h-1v1h-4v-1h-1v1h-2v-1h-1v1h-1v-1h-1v1h-3v-1h-1v1h-1v-1h-3v1h-6v-1h-3v1h-3v-1h-1v1h-4v-1h-2v1h-1v-1h-1v1h-1v-1h-1v1h-4v-1h-4v1h-1v-1h-1v1h-3v-1h-2v1h-4v-1h-1v1h-4v-1h-2v1h-4v-1h-1v1h-5v-1h-2v1h-12v-1h-1v1h-1v-1h-2v1h-1v-1h-1v1h-4v-1h-3v1h-1v-1h-1v1h-18v-1h-1v1h-7v-1h-1v1h-4v-1h-2v1h-4v-1h-1v1h-8v-1h-1v1h-4v1h-1v-1h-2v-1h-2v1h-3v-1h-3v1h-3v-1h-1v1h-4v-1h-2v1h-10v-1h-1v1h-5v-1h-1v1h-5v-1h-3v1h-3v-1h-1v1h-8v-1h-3v1h-1v-1h-1v1h-1v-1h-1v1h-3v-1h-1v1h-4v-1h-1v1h-4v-1h-1v1h-3v-1h-2v1h-5v-1h-1v1h-9v-1h-4v1h-10v-1h-1v1h-4v-1h-1v1h-3v-1h-2v1h-7v-1h-1v1h-3v-1h-1v1h-3v-1h-1v1h-2v-1h-1v1h-7v-1h-1v1h-5v-1h-4v1h-2v-1h-1v1h-11v-1h-2v1h-1v-1h-1v1h-1v-1h-1v1h-5v-1h-1v1h-6v-1h-1v1h-2v-1h-2v1h-6v1h-1v-1h-3v-1h-5v1h-15z"/><path fill="#f00" d="M50 1272h125v1h1v-1h12v1h1v-1h2v1h1v-1h41v1h1v-1h27v1h1v-1h3v1h1v-1h14v1h1v-1h27v1h1v-1h132v1h1v-1h61v1h1v-1h24v-1h1v1h225v1h1v-1h15V1274h-1v-1h-1v1h-1v-1h-5v1h-2v-1h-1v1h-10v-1h-1v1h-6v-1h-2v1h-1v-1h-1v1h-2v-1h-1v1h-2v-1h-1v1h-8v-1h-1v1h-3v-1h-3v1h-12v-1h-1v1h-3v-1h-1v1h-5v-1h-1v1h-10v-1h-2v1h-3v-1h-2v1h-3v-1h-2v1h-7v-1h-1v1h-5v-1h-2v1h-9v-1h-2v1h-8v-1h-2v1h-1v-1h-1v1h-2v-1h-4v1h-3v-1h-3v1h-9v-1h-1v1h-1v-1h-1v1h-1v-1h-1v1h-9v-1h-2v1h-2v-1h-1v1h-2v-1h-1v1h-4v-1h-2v1h-2v-1h-3v1h-4v-1h-1v1h-1v-1h-1v1h-2v-1h-3v1h-3v-1h-1v1h-1v-1h-1v1h-8v-1h-1v1h-3v-1h-1v1h-4v-1h-4v1h-3v-1h-1v1h-6v-1h-1v1h-6v-1h-3v1h-2v-1h-2v1h-11v-1h-1v1h-2v-1h-1v1h-3v-1h-1v1h-12v-1h-1v1h-6v-1h-1v1h-7v-1h-1v1h-9v-1h-1v1h-4v-1h-1v1h-5v-1h-2v1h-2v-1h-1v1h-8v-1h-1v1h-1v-1h-1v1h-2v-1h-1v1h-1v-1h-1v1h-7v-1h-1v1h-1v-1h-3v1h-1v-1h-1v1h-1v-1h-1v1h-4v-1h-1v1h-3v-1h-1v1h-10v-1h-1v1h-3v-1h-1v1h-2v-1h-4v1h-4v-1h-3v1h-9v-1h-3v1h-2v-1h-2v1h-2v-1h-1v1h-1v-1h-2v1h-2v-1h-1v1h-2v-1h-3v1h-8v-1h-3v1h-1v-1h-1v1h-3v-1h-2v1h-1v-1h-2v1h-3v-1h-3v1h-18v-1h-2v1h-4v-1h-1v1h-1v-1h-1v1h-2v-1h-2v1h-1v-1h-2v1h-7v-1h-3v1h-2v-1h-1v1h-1v-1h-1v1h-1v-1h-2v1h-2v-1h-1v1h-5v-1h-1v1h-6v-1h-1v1h-2v-1h-1v1h-2v-1h-1v1h-15v-1h-2v1h-2v-1h-2v1h-1v-1h-1v1h-4v-1h-5v1h-3v-1h-2v1h-5v-1h-2v1h-1v-1h-1v1h-18v-1h-1v1h-6v-1h-1v1h-1v-1h-2v1h-5v-1h-3v1h-2v-1h-2v1h-2v-1h-2v1h-4v-1h-2v1h-4v-1h-1v1h-6v-1h-1v1h-2v-1h-3v1h-13v-1h-2v1h-7v-1h-2v1h-2v-1h-3v1h-2v-1h-1v1h-2v-1h-1v1h-1v-1h-1v1h-6v-1h-2v1h-4v-1h-2v1h-2v-1h-1v1h-3v-1h-2v1h-9v-1h-1v1h-2v-1h-4v1h-6z"/><path fill="#00f" d="M50 1287h75v-1h1v1h192v1h1v-1h192v1h1v-1h4v1h1v-1h50v1h1v-1h53v1h1v-1h106v-1h1v1h41V1288h-1v1h-3v-1h-1v1h-5v-1h-1v1h-4v-1h-1v1h-9v-1h-1v1h-1v-1h-1v1h-2v-1h-1v1h-2v-1h-2v1h-1v-1h-1v1h-6v-1h-2v1h-10v-1h-2v1h-6v-1h-2v1h-8v-1h-1v1h-2v-1h-1v1h-3v-1h-2v1h-13v-1h-1v1h-7v-1h-1v1h-11v-1h-2v1h-4v-1h-1v1h-10v-1h-2v1h-12v-1h-1v1h-13v-1h-1v1h-2v-1h-1v1h-3v-1h-2v1h-1v-1h-1v1h-2v-1h-2v1h-3v-1h-2v1h-1v-1h-1v1h-7v-1h-1v1h-6v-1h-1v1h-9v-1h-1v1h-1v-1h-1v1h-2v1h-1v-2h-1v1h-10v-1h-1v1h-5v-1h-4v1h-2v-1h-3v1h-2v-1h-1v1h-5v-1h-1v1h-3v-1h-1v1h-10v-1h-1v1h-1v-1h-1v1h-5v-1h-1v1h-1v-1h-3v1h-3v-1h-1v1h-1v-1h-2v1h-3v-1h-1v1h-2v-1h-1v1h-23v-1h-2v1h-4v-1h-1v1h-7v-1h-1v1h-7v-1h-3v1h-13v-1h-1v1h-12v-1h-1v1h-2v-1h-1v1h-20v-1h-2v1h-5v-1h-1v1h-5v-1h-1v1h-2v-1h-3v1h-1v-1h-1v1h-3v-1h-2v1h-15v-1h-2v1h-3v-1h-7v1h-2v-1h-1v1h-6v-1h-1v1h-11v-1h-2v1h-3v-1h-1v1h-4v-1h-1v1h-3v-1h-5v1h-1v-1h-1v1h-4v-1h-1v1h-3v-1h-1v1h-4v-1h-2v1h-3v-1h-1v1h-2v-1h-1v1h-12v-1h-1v1h-1v-1h-1v1h-16v-1h-2v1h-2v-1h-2v1h-1v-1h-1v1h-1v-1h-1v1h-6v-1h-2v1h-30v1h-1v-1h-12v-1h-4v1h-3v-1h-1v1h-10v-1h-1v1h-10v-1h-2v1h-1v-1h-2v1h-3v-1h-4v1h-13v-1h-1v1h-9v-1h-2v1h-2v-1h-1v1h-15v-1h-1v1h-3v-1h-1v1h-3v-1h-1v1h-4v-1h-3v1h-8v-1h-1v1h-6v-1h-2v1h-5v-1h-2v1h-1z"/><path fill="#006400" d="M50 1302h146v1h1v-1h118v-1h1v1h113v1h1v-1h70v-1h1v1h69v1h1v-1h186v1h1v-1h12V1304h-5v-1h-1v1h-12v-1h-2v1h-1v-1h-1v1h-8v-1h-1v1h-2v-1h-1v1h-3v-1h-1v1h-1v-1h-1v1h-8v-1h-1v1h-4v-1h-1v1h-9v-1h-1v1h-8v-1h-1v1h-4v-1h-1v1h-6v-1h-2v1h-2v-1h-1v1h-6v-1h-1v1h-6v-1h-1v1h-3v-1h-2v1h-2v-1h-1v1h-4v-1h-3v1h-2v-1h-1v1h-1v-1h-1v1h-3v-1h-2v1h-4v-1h-3v1h-10v-1h-1v1h-2v-1h-3v1h-1v-1h-2v1h-4v-1h-1v1h-4v-1h-3v1h-1v-1h-1v1h-3v-1h-1v1h-1v-1h-2v1h-8v-1h-1v1h-3v-1h-4v1h-1v-1h-1v1h-3v-1h-3v1h-10v-1h-2v1h-14v-1h-3v1h-1v-1h-2v1h-8v-1h-1v1h-2v-1h-1v1h-18v-1h-1v1h-2v-1h-1v1h-3v-1h-1v1h-3v-1h-1v1h-1v-1h-1v1h-16v-1h-1v1h-4v-1h-3v1h-6v-1h-1v1h-6v-1h-1v1h-8v-1h-1v1h-2v-1h-1v1h-2v-1h-1v1h-3v-1h-1v1h-5v-1h-1v1h-1v-1h-1v1h-3v-1h-1v1h-3v-1h-2v1h-3v-1h-1v1h-4v-1h-1v1h-5v-1h-3v1h-2v-1h-2v1h-8v-1h-2v1h-4v-1h-1v1h-2v-1h-1v1h-1v-1h-2v1h-1v-1h-4v1h-3v-1h-3v1h-1v-1h-2v1h-8v-1h-2v1h-2v-1h-1v1h-1v-1h-1v1h-3v-1h-1v1h-4v-1h-1v1h-11v-1h-1v1h-1v-1h-3v1h-1v-1h-2v1h-2v-1h-3v1h-2v-1h-1v1h-2v-1h-3v1h-2v-1h-3v1h-4v-1h-2v1h-2v-1h-1v1h-3v-1h-2v1h-10v-1h-1v1h-11v-1h-1v1h-5v-1h-1v1h-15v-1h-2v1h-2v-1h-1v1h-5v-1h-1v1h-2v-1h-1v1h-4v-1h-1v1h-2v-1h-2v1h-1v-1h-2v1h-2v-1h-1v1h-1v-1h-2v1h-1v-1h-1v1h-8v-1h-3v1h-1v-1h-1v1h-3v-1h-1v1h-9v1h-1v-2h-1v1h-7v1h-1v-1h-6v-1h-1v1h-1v-1h-1v1h-1v-1h-1v1h-7v-1h-5v1h-6v-1h-1v1h-3v-1h-2v1h-1v-1h-2v1h-4v-1h-2v1h-1v-1h-2v1h-8v-1h-2v1h-2v-1h-1v1h-3v-1h-1v1h-2v-1h-2v1h-2v-1h-1v1h-2v-1h-1v1h-1v-1h-2v1h-1v-1h-2v1h-5v-1h-3v1h-4v-1h-1v1h-3v-1h-1v1h-5v-1h-1v1h-6v-1h-1v1h-8v-1h-1v1h-2v-1h-1v1h-2v-1h-1v1h-1z"/><path fill="#000" d="M50 1317h52v-1h1v1h46v-1h1v1h35v1h1v-1h41v1h1v-1h48v1h1v-1h2v-1h1v1h216v1h1v-1h138v1h1v-1h87v1h1v-1h13v-1h1v1h32V1319h-1v-1h-1v1h-3v-1h-3v1h-13v-1h-1v1h-26v-1h-2v1h-7v-1h-1v1h-8v-1h-1v1h-10v-1h-2v1h-2v-1h-3v1h-3v-1h-2v1h-9v-1h-2v1h-17v-1h-1v1h-4v-1h-3v1h-1v-1h-1v1h-2v-1h-2v1h-9v-1h-1v1h-23v-1h-1v1h-7v-1h-1v1h-5v-1h-1v1h-1v-1h-1v1h-5v-1h-1v1h-8v-1h-2v1h-5v-1h-1v1h-7v-1h-5v1h-3v-1h-1v1h-4v-1h-1v1h-1v-1h-1v1h-1v-1h-2v1h-1v-1h-1v1h-4v-1h-1v1h-7v-1h-1v1h-4v-1h-3v1h-5v1h-1v-2h-2v1h-26v-1h-3v1h-7v-1h-2v1h-8v-1h-2v1h-4v-1h-1v1h-10v-1h-3v1h-7v-1h-1v1h-9v-1h-2v1h-3v-1h-1v1h-2v-1h-3v1h-3v-1h-1v1h-5v-1h-1v1h-1v-1h-1v1h-4v-1h-4v1h-11v-1h-1v1h-8v-1h-1v1h-3v-1h-1v1h-1v-1h-3v1h-2v-1h-2v1h-6v-1h-1v1h-4v-1h-1v1h-7v-1h-3v1h-2v-1h-1v1h-9v-1h-1v1h-3v-1h-2v1h-4v-1h-2v1h-6v-1h-1v1h-11v1h-1v-1h-1v-1h-1v1h-3v-1h-1v1h-10v-1h-1v1h-1v-1h-1v1h-10v-1h-1v1h-3v-1h-1v1h-11v-1h-2v1h-7v-1h-1v1h-10v-1h-1v1h-8v-1h-1v1h-2v-1h-1v1h-1v-1h-1v1h-8v-1h-1v1h-3v-1h-2v1h-1v-1h-1v1h-1v-1h-1v1h-17v-1h-1v1h-7v-1h-1v1h-4v-1h-1v1h-18v-1h-2v1h-8v-1h-1v1h-3v-1h-1v1h-7v-1h-1v1h-7v-1h-2v1h-1v-1h-1v1h-11v-1h-3v1h-4v-1h-1v1h-3v-1h-1v1h-6v-1h-1v1h-2v-1h-1v1h-1v1h-1v-1h-1v-1h-1v1h-4v-1h-1v1h-2v-1h-1v1h-8v-1h-2v1h-13z"/><path fill="#f00" d="M50 1332h18v1h1v-1h29v1h1v-1h115v1h1v-1h40v-1h1v1h181v-1h1v1h44v1h1v-1h7v-1h1v1h279V1334h-3v-1h-1v1h-9v-1h-2v1h-5v-1h-1v1h-3v-1h-1v1h-4v-1h-5v1h-3v-1h-1v1h-4v-1h-1v1h-5v-1h-2v1h-6v-1h-2v1h-4v-1h-2v1h-1v-1h-2v1h-1v-1h-1v1h-1v-1h-1v1h-3v-1h-1v1h-2v-1h-1v1h-10v-1h-2v1h-6v-1h-1v1h-6v-1h-4v1h-9v-1h-2v1h-3v-1h-1v1h-12v-1h-1v1h-1v-1h-3v1h-8v-1h-1v1h-4v-1h-1v1h-2v-1h-1v1h-3v-1h-1v1h-4v-1h-2v1h-1v-1h-2v1h-3v-1h-4v1h-2v-1h-1v1h-5v-1h-2v1h-3v-1h-1v1h-1v-1h-2v1h-2v-1h-1v1h-8v-1h-1v1h-11v-1h-1v1h-11v-1h-3v1h-5v-1h-1v1h-1v-1h-1v1h-9v-1h-1v1h-1v-1h-1v1h-10v-1h-4v1h-8v-1h-1v1h-10v-1h-1v1h-3v-1h-2v1h-1v-1h-1v1h-1v-1h-1v1h-2v-1h-1v1h-3v-1h-1v1h-1v-1h-1v1h-2v-1h-2v1h-5v-1h-2v1h-23v-1h-1v1h-15v-1h-2v1h-5v-1h-2v1h-10v-1h-1v1h-2v-1h-1v1h-3v-1h-1v1h-1v-1h-2v1h-4v-1h-1v1h-6v-1h-1v1h-10v-1h-1v1h-1v-1h-1v1h-7v-1h-1v1h-2v-1h-2v1h-6v-1h-1v1h-13v-1h-2v1h-5v-1h-1v1h-6v-1h-1v1h-2v-1h-1v1h-1v-1h-1v1h-1v-1h-1v1h-1v-1h-2v1h-2v-1h-3v1h-5v-1h-1v1h-4v-1h-3v1h-7v-1h-2v1h-6v-1h-2v1h-6v-1h-1v1h-8v-1h-1v1h-11v1h-1v-1h-7v-1h-1v1h-2v-1h-2v1h-3v-1h-2v1h-4v-1h-2v1h-6v-1h-1v1h-10v-1h-1v1h-4v-1h-1v1h-11v-1h-1v1h-1v-1h-5v1h-2v-1h-3v1h-6v-1h-1v1h-6v-1h-1v1h-2v-1h-1v1h-3v-1h-1v1h-7v-1h-1v1h-4v-1h-1v1h-5v-1h-2v1h-15v-1h-1v1h-1v-1h-2v1h-1v-1h-3v1h-1v-1h-3v1h-2v-1h-1v1h-4v-1h-1v1h-2v-1h-1v1h-2v-1h-2v1h-7v-1h-3v1h-2v-1h-1v1h-1v-1h-4v1h-4v-1h-1v1h-2v-1h-1v1h-1v-1h-6v1h-1v-1h-6z"/><path fill="#00f" d="M50 1347h111v1h1v-1h62v-1h1v1h4v1h1v-1h83v1h1v-1h79v1h1v-1h131v1h1v-1h5v1h1v-1h5v-1h1v1h131v1h1v-1h91v1h1v-1h8V1349h-2v-1h-1v1h-6v-1h-2v1h-4v-1h-2v1h-5v-1h-1v1h-4v-1h-1v1h-3v-1h-1v1h-4v-1h-2v1h-2v-1h-1v1h-13v-1h-2v1h-1v-1h-3v1h-3v-1h-2v1h-1v-1h-1v1h-2v-1h-1v1h-3v-1h-1v1h-3v-1h-1v1h-1v-1h-1v1h-1v-1h-1v1h-1v-1h-1v1h-7v-1h-1v1h-5v1h-1v-1h-7v-1h-1v1h-1v1h-1v-1h-7v-1h-1v1h-1v-1h-1v1h-2v-1h-1v1h-2v-1h-2v1h-1v-1h-1v1h-9v-1h-3v1h-4v-1h-3v1h-3v-1h-1v1h-6v-1h-1v1h-2v-1h-1v1h-6v-1h-1v1h-1v-1h-1v1h-8v-1h-2v1h-2v-1h-2v1h-1v-1h-2v1h-2v-1h-1v1h-2v-1h-1v1h-1v-1h-3v1h-7v-1h-1v1h-4v-1h-1v1h-4v-1h-1v1h-7v-1h-5v1h-2v1h-1v-1h-17v-1h-1v1h-2v-1h-1v1h-7v-1h-3v1h-6v-1h-2v1h-6v-1h-1v1h-2v-1h-2v1h-14v-1h-3v1h-1v-1h-2v1h-1v-1h-6v1h-4v-1h-1v1h-1v-1h-1v1h-4v-1h-3v1h-4v-1h-1v1h-2v-1h-1v1h-10v-1h-3v1h-4v-1h-3v1h-3v-1h-1v1h-7v-1h-1v1h-3v-1h-1v1h-3v-1h-1v1h-6v-1h-1v1h-2v-1h-1v1h-3v-1h-1v1h-1v-1h-3v1h-17v-1h-1v1h-5v-1h-1v1h-5v-1h-1v1h-9v-1h-1v1h-1v-1h-1v1h-8v-1h-1v1h-5v-1h-1v1h-2v-1h-1v1h-7v-1h-3v1h-1v-1h-1v1h-10v-1h-1v1h-1v-1h-1v1h-1v-1h-2v1h-5v-1h-1v1h-1v-1h-3v1h-2v-1h-2v1h-4v-1h-1v1h-5v-1h-1v1h-2v-1h-1v1h-8v-1h-1v1h-1v-1h-1v1h-2v-1h-1v1h-2v-1h-2v1h-7v-1h-1v1h-19v-1h-1v1h-1v-1h-1v1h-8v-1h-1v1h-1v-1h-2v1h-22v-1h-1v1h-5v-1h-1v1h-6v-1h-2v1h-1v-1h-1v1h-4v-1h-1v1h-10v-1h-1v1h-9v-1h-1v1h-3v-1h-2v1h-1v-1h-1v1h-10v-1h-1v1h-5v-1h-1v1h-7v-1h-4v1h-1v-1h-1v1h-2v-1h-1v1h-1v-1h-1v1h-2v-1h-2v1h-3v-1h-2v1h-3v-1h-2v1h-4v-1h-1v1h-3v-1h-1v1h-1v-1h-1v1h-5v-1h-1v1h-3v-1h-1v1h-2v-1h-1v1h-5v-1h-3v1h-2v-1h-2v1h-1z"/><path fill="#006400" d="M50 1362h50v1h1v-1h146v1h1v-1h20v1h1v-1h20v1h1v-1h39v1h1v-1h33v1h1v-1h92v1h1v-1h16v1h1v-1h3v-1h1v1h5v1h1v-1h22v-1h1v1h256v1h1v-1h5v1h1V1364h-1v-1h-3v1h-4v-1h-1v1h-3v-1h-2v1h-10v-1h-2v1h-3v-1h-1v1h-11v-1h-1v1h-1v-1h-1v1h-2v-1h-2v1h-1v-1h-1v1h-12v-1h-1v1h-7v-1h-2v1h-4v-1h-1v1h-1v-1h-1v1h-1v-1h-1v1h-1v-1h-2v1h-6v-1h-1v1h-6v-1h-1v1h-2v-1h-1v1h-6v-1h-1v1h-2v-1h-1v1h-4v-1h-1v1h-8v-1h-1v1h-2v-1h-4v1h-6v-1h-1v1h-1v-1h-2v1h-2v-1h-2v1h-2v-1h-2v1h-7v-1h-1v1h-1v-1h-2v1h-2v-1h-1v1h-1v-1h-1v1h-7v-1h-2v1h-3v-1h-4v1h-5v-1h-1v1h-2v-1h-2v1h-2v-1h-1v1h-12v-1h-1v1h-1v-1h-1v1h-1v-1h-1v1h-1v-1h-1v1h-4v-1h-1v1h-5v-1h-1v1h-2v-1h-1v1h-16v-1h-2v1h-2v-1h-1v1h-6v-1h-1v1h-1v-1h-1v1h-1v-1h-1v1h-5v-1h-1v1h-5v-1h-1v1h-2v-1h-2v1h-10v-1h-1v1h-1v-1h-1v1h-11v1h-1v-1h-8v-1h-1v1h-1v-1h-1v1h-14v-1h-1v1h-6v-1h-1v1h-2v-1h-1v1h-1v-1h-3v1h-4v-1h-2v1h-2v-1h-1v1h-4v-1h-1v1h-7v-1h-1v1h-2v-1h-1v1h-1v-1h-1v1h-1v-1h-1v1h-12v-1h-2v1h-3v-1h-1v1h-6v-1h-1v1h-7v-1h-1v1h-16v-1h-2v1h-4v-1h-1v1h-1v-1h-1v1h-14v-1h-1v1h-5v-1h-6v1h-1v-1h-1v1h-5v-1h-1v1h-1v-1h-3v1h-5v-1h-1v1h-2v-1h-1v1h-1v-1h-5v1h-2v-1h-2v1h-7v-1h-3v1h-1v-1h-1v1h-7v-1h-2v1h-19v-1h-4v1h-9v-1h-2v1h-1v-1h-3v1h-3v-1h-1v1h-4v-1h-1v1h-1v-1h-2v1h-9v-1h-2v1h-3v-1h-1v1h-1v-1h-1v1h-6v-1h-1v1h-4v-1h-5v1h-1v-1h-1v1h-1v-1h-1v1h-16v-1h-2v1h-8v-1h-3v1h-1v-1h-2v1h-2v-1h-1v1h-4v-1h-1v1h-4v-1h-1v1h-7v-1h-2v1h-4v-1h-3v1h-3v-1h-1v1h-1v-1h-1v1h-2v-1h-1v1h-8v-1h-1v1h-3v-1h-3v1h-4v-1h-2v1h-2v-1h-1v1h-2v-1h-1v1h-8v-1h-1v1h-4v-1h-3v1h-3v-1h-1v1h-1v-1h-1v1h-2v-1h-1v1h-3v-1h-3z"/><path fill="#000" d="M50 1377h114v1h1v-1h66v1h1v-1h190v-1h1v1h76v1h1v-1h91v-1h1v1h68v1h1v-1h13v1h1v-1h37v1h1v-1h41v1h1v-1h15V1379h-1v-1h-1v1h-3v-1h-2v1h-5v1h-1v-1h-6v-1h-1v1h-1v-1h-1v1h-10v-1h-1v1h-4v-1h-1v1h-21v-1h-1v1h-8v-1h-1v1h-1v-1h-2v1h-14v-1h-1v1h-10v-1h-1v1h-21v-1h-1v1h-18v-1h-2v1h-6v-1h-1v1h-2v-1h-2v1h-5v-1h-1v1h-2v-1h-1v1h-1v-1h-1v1h-7v-1h-1v1h-1v-1h-2v1h-2v1h-1v-2h-1v1h-4v-1h-2v1h-1v-1h-1v1h-1v-1h-2v1h-2v-1h-1v1h-6v-1h-1v1h-6v-1h-2v1h-9v-1h-1v1h-8v-1h-1v1h-9v-1h-1v1h-1v-1h-1v1h-3v-1h-2v1h-1v-1h-1v1h-4v-1h-1v1h-2v-1h-5v1h-5v-1h-1v1h-2v-1h-2v1h-5v-1h-1v1h-10v-1h-1v1h-9v-1h-1v1h-6v-1h-1v1h-4v-1h-2v1h-1v-1h-2v1h-1v-1h-1v1h-22v-1h-1v1h-6v-1h-2v1h-10v-1h-1v1h-4v-1h-1v1h-7v-1h-1v1h-3v-1h-1v1h-1v-1h-3v1h-1v-1h-1v1h-1v-1h-2v1h-9v-1h-1v1h-3v-1h-2v1h-6v-1h-1v1h-1v-1h-1v1h-3v-1h-1v1h-1v-1h-1v1h-3v-1h-1v1h-2v-1h-1v1h-1v-1h-1v1h-6v-1h-1v1h-1v-1h-1v1h-5v-1h-3v1h-2v-1h-1v1h-4v-1h-1v1h-6v-1h-3v1h-4v-1h-1v1h-6v-1h-1v1h-2v-1h-1v1h-4v-1h-2v1h-1v-1h-1v1h-4v-1h-1v1h-4v-1h-3v1h-5v-1h-1v1h-8v-1h-1v1h-7v-1h-1v1h-2v-1h-1v1h-1v-1h-1v1h-5v-1h-1v1h-4v-1h-1v1h-9v-1h-1v1h-3v-1h-3v1h-1v-1h-1v1h-4v-1h-2v1h-2v-1h-3v1h-1v-1h-1v1h-7v-1h-1v1h-10v-1h-2v1h-4v-1h-2v1h-1v-1h-2v1h-2v-1h-1v1h-1v-1h-1v1h-6v-1h-3v1h-1v-1h-1v1h-9v-1h-1v1h-1v-1h-2v1h-4v-1h-1v1h-3v-1h-1v1h-7v-1h-1v1h-1v-1h-1v1h-15v-1h-1v1h-5v-1h-3v1h-19v-1h-2v1h-1v-1h-1v1h-2v-1h-1v1h-2v-1h-1v1h-13v-1h-1v1h-14v-1h-1v1h-4z"/><path fill="#f00" d="M50 1392h293v1h1v-1h112v1h1v-1h63v1h1v-1h158v1h1v-1h90V1393h-1v1h-5v-1h-4v1h-1v-1h-2v1h-8v-1h-2v1h-10v-1h-1v1h-4v-1h-3v1h-4v-1h-2v1h-4v-1h-1v1h-3v-1h-1v1h-6v-1h-1v1h-6v-1h-1v1h-3v-1h-3v1h-2v-1h-1v1h-7v-1h-4v1h-1v-1h-1v1h-4v-1h-4v1h-13v-1h-1v1h-1v-1h-1v1h-4v-1h-1v1h-4v-1h-1v1h-4v-1h-1v1h-10v-1h-2v1h-9v-1h-4v1h-6v-1h-1v1h-9v-1h-1v1h-6v-1h-1v1h-6v-1h-3v1h-1v-1h-1v1h-5v-1h-5v1h-3v-1h-1v1h-5v-1h-1v1h-10v-1h-1v1h-3v-1h-1v1h-1v-1h-1v1h-5v-1h-2v1h-3v-1h-1v1h-2v-1h-1v1h-6v-1h-1v1h-13v-1h-1v1h-3v-1h-1v1h-9v-1h-1v1h-6v-1h-1v1h-2v-1h-1v1h-5v-1h-2v1h-9v-1h-1v1h-18v-1h-1v1h-11v-1h-1v1h-2v-1h-1v1h-1v1h-1v-2h-1v1h-4v-1h-1v1h-1v-1h-2v1h-12v-1h-1v1h-4v-1h-1v1h-2v-1h-1v1h-7v1h-1v-1h-3v-1h-1v1h-8v-1h-1v1h-10v-1h-2v1h-17v-1h-1v1h-2v-1h-2v1h-8v-1h-1v1h-5v-1h-3v1h-3v-1h-1v1h-2v-1h-1v1h-1v-1h-2v1h-3v-1h-4v1h-7v-1h-1v1h-1v-1h-1v1h-7v-1h-1v1h-4v-1h-1v1h-7v-1h-1v1h-4v-1h-2v1h-9v-1h-2v1h-3v-1h-1v1h-13v-1h-1v1h-2v-1h-1v1h-2v-1h-7v1h-2v-1h-2v1h-2v-1h-1v1h-1v-1h-1v1h-1v-1h-2v1h-1v-1h-1v1h-4v-1h-1v1h-2v-1h-1v1h-7v-1h-1v1h-6v-1h-2v1h-12v-1h-3v1h-6v-1h-1v1h-2v-1h-3v1h-3v-1h-2v1h-2v-1h-1v1h-2v-1h-1v1h-5v-1h-1v1h-1v-1h-1v1h-11v-1h-5v1h-10v-1h-1v1h-14v-1h-2v1h-2v-1h-1v1h-2v-1h-1v1h-1v-1h-1v1h-1v-1h-1v1h-6v-1h-3v1h-8v-1h-2v1h-3v-1h-1v1h-2v-1h-2v1h-1v-1h-2v1h-4v-1h-2v1h-10z"/><path fill="#00f" d="M50 1407h169v1h1v-1h21v1h1v-1h80v-1h1v1h12v1h1v-1h93v-1h1v1h129v1h1v-1h31v1h1v-1h178V1409h-7v-1h-1v1h-5v-1h-4v1h-5v-1h-1v1h-9v-1h-1v1h-4v-1h-1v1h-11v-1h-2v1h-10v-1h-1v1h-2v-1h-2v1h-2v-1h-1v1h-3v-1h-2v1h-2v-1h-1v1h-1v-1h-3v1h-16v-1h-2v1h-7v-1h-1v1h-3v-1h-1v1h-5v-1h-1v1h-2v-1h-1v1h-2v-1h-1v1h-2v-1h-2v1h-2v-1h-2v1h-2v-1h-1v1h-2v-1h-1v1h-3v-1h-2v1h-5v-1h-1v1h-14v-1h-1v1h-13v-1h-2v1h-11v-1h-4v1h-2v-1h-2v1h-5v-1h-1v1h-27v-1h-2v1h-5v-1h-1v1h-2v-1h-3v1h-3v1h-1v-1h-5v1h-1v-1h-6v-1h-1v1h-4v-1h-1v1h-9v-1h-2v1h-1v-1h-1v1h-2v-1h-4v1h-1v-1h-2v1h-1v-1h-1v1h-6v-1h-1v1h-9v-1h-1v1h-16v-1h-1v1h-3v-1h-2v1h-1v-1h-2v1h-4v-1h-1v1h-1v-1h-1v1h-5v-1h-1v1h-1v-1h-6v1h-15v-1h-1v1h-8v-1h-1v1h-8v-1h-1v1h-1v-1h-1v1h-1v-1h-1v1h-7v-1h-1v1h-1v-1h-1v1h-1v-1h-2v1h-6v-1h-2v1h-1v-1h-1v1h-2v-1h-1v1h-9v-1h-5v1h-3v-1h-1v1h-4v-1h-1v1h-2v-1h-2v1h-2v-1h-1v1h-1v-1h-1v1h-2v-1h-1v1h-1v-1h-1v1h-9v1h-1v-1h-2v-1h-3v1h-3v-1h-2v1h-12v-1h-1v1h-5v-1h-1v1h-8v-1h-1v1h-2v-1h-2v1h-4v-1h-2v1h-4v-1h-1v1h-2v-1h-1v1h-4v-1h-1v1h-6v-1h-1v1h-17v-1h-1v1h-5v-1h-1v1h-3v-1h-1v1h-2v-1h-3v1h-12v-1h-1v1h-7v-1h-2v1h-3v-1h-1v1h-12v-1h-2v1h-1v-1h-2v1h-1v-1h-2v1h-1v-1h-1v1h-8v-1h-1v1h-5v-1h-2v1h-1v-1h-1v1h-1v-1h-1v1h-2v-1h-1v1h-2v-1h-1v1h-7v-1h-2v1h-6v-1h-1v1h-9v-1h-1v1h-4v-1h-1v1h-2v-1h-1v1h-3v-1h-2v1h-1v-1h-1v1h-2v-1h-1v1h-3v-1h-1v1h-1v-1h-1v1h-1v-1h-3v1h-10v-1h-1v1h-4v-1h-1v1h-4v-1h-2v1h-3v-1h-2v1h-2z"/><path fill="#006400" d="M50 1422h26v-1h1v1h259v-1h1v1h5v1h1v-1h27v-1h1v1h180v1h1v-1h82v1h1v-1h135V1424h-5v-1h-1v1h-4v-1h-2v1h-3v-1h-1v1h-14v-1h-1v1h-4v-1h-2v1h-2v-1h-2v1h-1v-1h-2v1h-3v-1h-1v1h-2v-1h-1v1h-2v-1h-2v1h-4v-1h-1v1h-3v-1h-1v1h-4v-1h-1v1h-3v-1h-4v1h-6v-1h-3v1h-1v-1h-2v1h-6v-1h-2v1h-3v-1h-2v1h-7v-1h-2v1h-8v-1h-1v1h-18v-1h-2v1h-4v-1h-1v1h-5v-1h-3v1h-1v-1h-1v1h-3v-1h-1v1h-9v-1h-1v1h-7v-1h-1v1h-1v-1h-3v1h-6v-1h-1v1h-2v-1h-3v1h-5v-1h-2v1h-7v-1h-1v1h-4v-1h-3v1h-5v-1h-1v1h-9v-1h-2v1h-9v-1h-3v1h-1v-1h-1v1h-2v-1h-1v1h-3v-1h-1v1h-6v-1h-2v1h-1v-1h-3v1h-5v-1h-1v1h-5v-1h-3v1h-2v-1h-1v1h-1v-1h-1v1h-7v1h-1v-2h-1v1h-16v-1h-1v1h-5v-1h-1v1h-3v-1h-1v1h-8v-1h-4v1h-3v-1h-1v1h-2v-1h-1v1h-15v-1h-1v1h-5v-1h-2v1h-1v-1h-1v1h-6v-1h-3v1h-11v-1h-1v1h-4v-1h-2v1h-2v-1h-3v1h-9v-1h-1v1h-4v-1h-4v1h-4v-1h-1v1h-4v-1h-2v1h-4v-1h-1v1h-20v-1h-3v1h-1v-1h-2v1h-2v-1h-1v1h-8v-1h-2v1h-3v-1h-2v1h-4v-1h-1v1h-13v-1h-1v1h-3v-1h-1v1h-1v-1h-1v1h-1v-1h-3v1h-4v-1h-1v1h-5v-1h-1v1h-12v-1h-1v1h-2v-1h-1v1h-1v-1h-1v1h-9v-1h-1v1h-2v-1h-4v1h-1v-1h-1v1h-15v-1h-2v1h-1v-1h-2v1h-1v-1h-1v1h-1v-1h-2v1h-22v-1h-2v1h-19v-1h-1v1h-5v-1h-1v1h-6v-1h-1v1h-1v-1h-1v1h-1v-1h-2v1h-4v-1h-1v1h-1v-1h-1v1h-1v-1h-1v1h-1v-1h-2v1h-4v-1h-1v1h-3v-1h-1v1h-4v-1h-3v1h-5v-1h-1v1h-10v-1h-1v1h-7v-1h-1v1h-5v-1h-2v1h-1v-1h-1v1h-2v-1h-1v1h-1v-1h-1v1h-5v-1h-1v1h-5v-1h-1v1h-3v-1h-1v1h-1z"/><path fill="#000" d="M50 1437h71v1h1v-1h125v1h1v-1h46v1h1v-1h222v1h1v-1h56v-1h1v1h35v1h1v-1h25v1h1v-1h8v-1h1v1h124V1439h-4v-1h-1v1h-4v-1h-3v1h-1v-1h-1v1h-5v-1h-3v1h-5v-1h-3v1h-12v-1h-1v1h-1v-1h-1v1h-1v-1h-3v1h-2v-1h-1v1h-3v-1h-1v1h-2v-1h-1v1h-1v-1h-1v1h-4v-1h-1v1h-1v-1h-2v1h-1v-1h-2v1h-11v-1h-4v1h-11v-1h-1v1h-2v-1h-1v1h-5v-1h-6v1h-1v-1h-1v1h-4v-1h-1v1h-1v-1h-3v1h-4v-1h-1v1h-1v-1h-3v1h-1v-1h-2v1h-3v-1h-2v1h-1v-1h-1v1h-1v-1h-2v1h-3v-1h-1v1h-3v-1h-1v1h-7v-1h-3v1h-22v-1h-1v1h-5v-1h-1v1h-5v-1h-1v1h-1v-1h-1v1h-1v-1h-1v1h-6v-1h-4v1h-1v-1h-1v1h-1v-1h-3v1h-3v-1h-1v1h-1v-1h-2v1h-1v-1h-1v1h-6v-1h-1v1h-19v-1h-1v1h-17v-1h-1v1h-7v-1h-1v1h-3v-1h-1v1h-5v-1h-1v1h-7v-1h-1v1h-1v-1h-3v1h-5v-1h-1v1h-2v-1h-3v1h-2v-1h-1v1h-7v-1h-1v1h-2v-1h-3v1h-4v-1h-2v1h-1v-1h-1v1h-10v-1h-1v1h-3v-1h-1v1h-3v-1h-1v1h-1v-1h-1v1h-3v-1h-1v1h-2v-1h-1v1h-3v-1h-1v1h-2v-1h-1v1h-3v-1h-5v1h-20v-1h-1v1h-4v-1h-1v1h-8v-1h-3v1h-6v-1h-1v1h-1v-1h-1v1h-7v-1h-1v1h-3v-1h-1v1h-1v-1h-1v1h-6v-1h-1v1h-5v-1h-1v1h-1v-1h-1v1h-5v-1h-3v1h-6v-1h-3v1h-12v-1h-1v1h-1v-1h-1v1h-8v-1h-1v1h-1v-1h-3v1h-3v-1h-2v1h-3v-1h-1v1h-3v-1h-2v1h-2v-1h-1v1h-7v-1h-1v1h-1v-1h-1v1h-1v-1h-1v1h-1v-1h-1v1h-2v-1h-1v1h-1v-1h-1v1h-2v-1h-1v1h-2v-1h-1v1h-5v-1h-1v1h-2v-1h-1v1h-1v-1h-1v1h-3v-1h-1v1h-1v-1h-1v1h-2v-1h-2v1h-5v-1h-1v1h-4v-1h-1v1h-1v-1h-1v1h-1v-1h-1v1h-4v-1h-3v1h-2v-1h-1v1h-3v-1h-1v1h-4v-1h-3v1h-2v-1h-2v1h-8v-1h-2v1h-4v-1h-1v1h-6v-1h-1v1h-3v-1h-2v1h-4v-1h-1v1h-4v-1h-1v1h-3v-1h-1v1h-9v-1h-1v1h-9v-1h-3v1h-5v-1h-2v1h-3v-1h-2v1h-1v-1h-1v1h-17v-1h-1v1h-9v-1h-1v1h-5v-1h-1v1h-5z"/><path fill="#f00" d="M50 1452h3v1h1v-1h17v-1h1v1h170v1h1v-1h206v-1h1v1h1v-1h1v1h1v-1h4v1h62v1h1v-1h6v1h1v-1h95v1h1v-1h29v1h1v-1h31v-1h1v1h3v-1h2v1h1v-1h2v1h1v-1h1v1h4v-1h2v1h69V1454h-2v-1h-1v1h-6v-1h-1v1h-7v-1h-1v1h-5v-1h-3v1h-9v-1h-1v1h-3v-1h-2v1h-3v-1h-1v1h-13v-1h-2v1h-3v-1h-1v1h-2v-1h-2v1h-3v1h-1v-1h-3v1h-1v-1h-1v1h-1v-1h-7v1h-1v-1h-2v1h-1v-1h-4v-1h-3v1h-1v-1h-2v1h-2v-1h-1v1h-6v-1h-1v1h-2v-1h-1v1h-8v-1h-1v1h-1v-1h-1v1h-4v-1h-2v1h-15v-1h-1v1h-1v-1h-1v1h-10v-1h-1v1h-5v-1h-2v1h-1v-1h-1v1h-3v1h-1v-1h-1v-1h-1v1h-6v-1h-2v1h-20v-1h-1v1h-6v-1h-2v1h-2v-1h-1v1h-3v-1h-1v1h-4v-1h-1v1h-1v-1h-1v1h-10v-1h-1v1h-6v-1h-1v1h-6v-1h-1v1h-11v-1h-1v1h-9v-1h-1v1h-1v-1h-1v1h-4v-1h-1v1h-6v-1h-1v1h-6v-1h-1v1h-6v-1h-3v1h-7v-1h-1v1h-2v-1h-2v2h-4v-1h-1v1h-1v-1h-2v-1h-2v1h-5v-1h-2v1h-3v-1h-1v1h-8v1h-2v-1h-6v-1h-1v1h-1v-1h-1v1h-2v-1h-1v1h-38v-1h-1v1h-5v-1h-3v1h-5v-1h-1v1h-7v-1h-1v1h-9v-1h-2v1h-3v-1h-2v1h-17v-1h-2v1h-1v-1h-1v1h-5v-1h-1v1h-7v-1h-1v1h-17v-1h-1v1h-4v-1h-1v1h-3v-1h-1v1h-6v-1h-3v1h-4v-1h-1v1h-5v-1h-1v1h-6v-1h-1v1h-22v-1h-2v1h-2v-1h-1v1h-2v-1h-1v1h-9v-1h-2v1h-1v-1h-1v1h-9v-1h-1v1h-1v-1h-1v1h-2v-1h-1v1h-1v-1h-1v1h-1v-1h-1v1h-3v-1h-2v1h-1v-1h-1v1h-8v-1h-2v1h-11v-1h-2v1h-2v-1h-3v1h-3v-1h-1v1h-8v-1h-2v1h-1v-1h-2v2h-1v-1h-3v-1h-3v1h-9v-1h-2v1h-4v-1h-1v1h-3v-1h-1v1h-14v-1h-3v1h-24v-1h-2v1h-2v-1h-1v1h-11z"/><path fill="#00f" d="M50 1467h66v1h1v-1h197v-1h1v1h45v1h1v-1h19v1h1v-1h28v1h1v-1h12v1h1v-1h28v1h1v-1h2v1h1v-1h40v1h1v-1h49v1h1v-1h118v-1h1v1h61v1h1v-1h32v-1h1v1h10V1469h-6v-1h-2v1h-9v-1h-1v1h-4v-1h-1v1h-11v-1h-4v1h-2v-1h-2v1h-2v-1h-3v1h-4v-1h-2v1h-3v-1h-1v1h-10v-1h-1v1h-1v-1h-2v1h-3v-1h-2v1h-4v-1h-1v1h-2v-1h-1v1h-3v-1h-1v1h-3v-1h-4v1h-1v-1h-4v1h-7v-1h-3v1h-1v-1h-2v1h-10v-1h-3v1h-10v-1h-1v1h-5v-1h-2v1h-6v-1h-3v1h-9v-1h-1v1h-1v-1h-2v1h-1v-1h-4v1h-3v-1h-1v1h-4v-1h-2v1h-1v-1h-3v1h-1v-1h-2v1h-1v-1h-2v1h-1v-1h-3v1h-3v-1h-1v1h-12v-1h-1v1h-1v-1h-1v1h-1v-1h-1v1h-4v-1h-4v1h-7v-1h-3v1h-2v-1h-1v1h-1v-1h-1v1h-2v-1h-1v1h-3v-1h-1v1h-3v-1h-1v1h-1v-1h-1v1h-1v-1h-1v1h-1v-1h-1v1h-4v-1h-4v1h-1v-1h-1v1h-4v-1h-1v1h-1v-1h-2v1h-1v-1h-2v1h-6v-1h-1v1h-3v-1h-1v1h-2v-1h-1v1h-4v-1h-1v1h-1v-1h-2v1h-3v-1h-1v1h-1v-1h-1v1h-3v-1h-1v1h-2v-1h-2v1h-15v-1h-1v1h-4v-1h-3v1h-1v-1h-2v1h-15v-1h-1v1h-1v-1h-1v1h-4v-1h-4v1h-3v-1h-1v1h-2v-1h-2v1h-3v-1h-1v1h-1v-1h-1v1h-5v-1h-1v1h-13v-1h-1v1h-5v-1h-1v1h-2v-1h-1v1h-11v-1h-2v1h-1v-1h-1v1h-10v-1h-1v1h-7v-1h-1v1h-15v-1h-2v1h-6v-1h-1v1h-5v-1h-1v1h-5v-1h-3v1h-13v-1h-1v1h-1v-1h-1v1h-2v-1h-1v1h-8v-1h-1v1h-15v-1h-1v1h-4v-1h-1v1h-1v-1h-2v1h-2v-1h-1v1h-4v-1h-1v1h-9v-1h-2v1h-2v-1h-3v1h-7v-1h-2v1h-8v-1h-1v1h-2v-1h-1v1h-8v-1h-1v1h-9v-1h-1v1h-4v-1h-2v1h-5v-1h-2v1h-2v-1h-1v1h-3v-1h-1v1h-2v-1h-1v1h-1v-1h-2v1h-5v-1h-2v1h-4v-1h-1v1h-1v-1h-3v1h-3v-1h-1v1h-1v-1h-3v1h-3v-1h-1v1h-4v-1h-2v1h-5v-1h-2v1h-5v-1h-1v1h-4v-1h-1v1h-2v-1h-1v1h-4v-1h-1v1h-1v-1h-4v1h-18v-1h-1v1h-5v-1h-1v1h-4v-1h-2v1h-2z"/><path fill="#006400" d="M50 1482h49v1h1v-1h31v-1h1v1h40v1h1v-1h21v-1h1v1h63v1h1v-1h10v1h1v-1h102v1h1v-1h101v1h1v-1h37v1h1v-1h150v-1h1v1h100v1h1v-1h5V1484h-13v-1h-1v1h-1v-1h-1v1h-7v-1h-3v1h-11v-1h-3v1h-1v-1h-4v1h-12v-1h-1v1h-3v-1h-2v1h-11v-1h-1v1h-1v-1h-1v1h-2v-1h-3v1h-1v-1h-1v1h-5v-1h-1v1h-2v-1h-2v1h-13v-1h-1v1h-2v-1h-1v1h-1v-1h-1v1h-10v-1h-2v1h-2v-1h-1v1h-15v-1h-1v1h-12v-1h-1v1h-8v-1h-1v1h-7v-1h-1v1h-14v-1h-2v1h-10v-1h-3v1h-4v-1h-1v1h-4v-1h-3v1h-3v-1h-1v1h-2v-1h-2v1h-1v-1h-3v1h-1v-1h-1v1h-1v-1h-1v1h-1v-1h-1v1h-3v-1h-2v1h-1v-1h-2v1h-3v-1h-1v1h-1v-1h-2v1h-2v-1h-1v1h-13v-1h-1v1h-3v-1h-1v1h-1v-1h-1v1h-2v-1h-3v1h-7v-1h-2v1h-3v-1h-1v1h-2v-1h-1v1h-9v-1h-2v1h-3v-1h-1v1h-6v-1h-1v1h-3v-1h-3v1h-13v-1h-4v1h-6v-1h-1v1h-11v-1h-1v1h-2v-1h-5v1h-4v-1h-1v1h-4v-1h-1v1h-11v-1h-1v1h-3v-1h-1v1h-4v-1h-1v1h-4v-1h-2v1h-4v-1h-1v1h-4v-1h-3v1h-1v-1h-2v1h-1v-1h-2v1h-1v-1h-2v1h-3v-1h-1v1h-2v-1h-1v1h-5v-1h-1v1h-10v-1h-1v1h-4v-1h-1v1h-21v-1h-5v1h-12v-1h-1v1h-2v-1h-4v1h-1v-1h-1v1h-1v-1h-1v1h-6v-1h-1v1h-6v-1h-1v1h-4v-1h-1v1h-1v-1h-1v1h-8v-1h-1v1h-13v-1h-1v1h-6v-1h-1v1h-8v-1h-1v1h-2v-1h-1v1h-4v-1h-1v1h-5v-1h-2v1h-3v-1h-1v1h-1v-1h-1v1h-1v-1h-1v1h-1v-1h-1v1h-15v-1h-1v1h-1v-1h-2v1h-1v-1h-2v1h-3v-1h-1v1h-4v-1h-1v1h-13v-1h-1v1h-3v-1h-3v1h-4v-1h-1v1h-1v-1h-1v1h-18v-1h-2v1h-5v-1h-1v1h-3v-1h-2v1h-2v-1h-3v1h-2v-1h-1v1h-2v-1h-1v1h-1v-1h-1v1h-2v-1h-2v1h-1v-1h-1v1h-4v-1h-1v1h-3v-1h-1v1h-4v-1h-2v1h-3v-1h-1v1h-3v-1h-2v1h-3v-1h-1z"/><path fill="#006400" d="M579 147h1v77h-1zM625 627h1v78h-1zM629 1000h2v2h-2z"/><path fill="#f00" d="M442 1017h1v76h-1zM441 1055h1v38h-1zM280 1440h1v13h-1z"/><path fill="#000" d="M409 957h1v9h-1zM2 1523h1v1h-1zM3 1524h1v1h-1zM4 1521h1v3h-1zM5 1522h1v1h-1zM6 1521h1v4h-1zM7 1524h1v1h-1z"/><path fill="#00f" d="M367 975h1v13h-1z"/><path fill="#000" d="M50 50h720v1h-720z"/><path fill="#808080" d="M50 50h1v1440h-1zM98 50h1v1440h-1zM146 50h1v1440h-1zM194 50h1v1440h-1zM242 50h1v1440h-1zM290 50h1v1440h-1zM338 50h1v1440h-1zM386 50h1v1440h-1zM434 50h1v1440h-1zM482 50h1v1440h-1zM530 50h1v1440h-1zM578 50h1v1440h-1zM626 50h1v1440h-1zM674 50h1v1440h-1zM722 50h1v1440h-1zM770 50h1v1440h-1z"/><path fill="#000" d="M50 1490h721v1h-721zM50 1491h1v11h-1zM58 1491h1v7h-1zM66 1491h1v7h-1zM74 1491h1v7h-1zM82 1491h1v7h-1zM90 1491h1v7h-1zM98 1491h1v11h-1zM106 1491h1v7h-1zM114 1491h1v7h-1zM122 1491h1v7h-1zM130 1491h1v7h-1zM138 1491h1v7h-1zM146 1491h1v11h-1zM154 1491h1v7h-1zM162 1491h1v7h-1zM170 1491h1v7h-1zM178 1491h1v7h-1zM186 1491h1v7h-1zM194 1491h1v11h-1zM202 1491h1v7h-1zM210 1491h1v7h-1zM218 1491h1v7h-1zM226 1491h1v7h-1zM234 1491h1v7h-1zM242 1491h1v11h-1zM250 1491h1v7h-1zM258 1491h1v7h-1zM266 1491h1v7h-1zM274 1491h1v7h-1zM282 1491h1v7h-1zM290 1491h1v11h-1zM298 1491h1v7h-1zM306 1491h1v7h-1zM314 1491h1v7h-1zM322 1491h1v7h-1zM330 1491h1v7h-1zM338 1491h1v11h-1zM346 1491h1v7h-1zM354 1491h1v7h-1zM362 1491h1v7h-1zM370 1491h1v7h-1zM378 1491h1v7h-1zM386 1491h1v11h-1zM394 1491h1v7h-1zM402 1491h1v7h-1zM410 1491h1v7h-1zM418 1491h1v7h-1zM426 1491h1v7h-1zM434 1491h1v11h-1zM442 1491h1v7h-1zM450 1491h1v7h-1zM458 1491h1v7h-1zM466 1491h1v7h-1zM474 1491h1v7h-1zM482 1491h1v11h-1zM490 1491h1v7h-1zM498 1491h1v7h-1zM506 1491h1v7h-1zM514 1491h1v7h-1zM522 1491h1v7h-1zM530 1491h1v11h-1zM538 1491h1v7h-1zM546 1491h1v7h-1zM554 1491h1v7h-1zM562 1491h1v7h-1zM570 1491h1v7h-1zM578 1491h1v11h-1zM586 1491h1v7h-1zM594 1491h1v7h-1zM602 1491h1v7h-1zM610 1491h1v7h-1zM618 1491h1v7h-1zM626 1491h1v11h-1zM634 1491h1v7h-1zM642 1491h1v7h-1zM650 1491h1v7h-1zM658 1491h1v7h-1zM666 1491h1v7h-1zM674 1491h1v11h-1zM682 1491h1v7h-1zM690 1491h1v7h-1zM698 1491h1v7h-1zM706 1491h1v7h-1zM714 1491h1v7h-1zM722 1491h1v11h-1zM730 1491h1v7h-1zM738 1491h1v7h-1zM746 1491h1v7h-1zM754 1491h1v7h-1zM762 1491h1v7h-1zM770 1491h1v11h-1z"/></svg>
<div class="m" style="left:50px;top:6px">Oct23,2012</div>
<div class="m" style="left:50px;top:21px">YSB EHZ WY 01</div>
<div class="m" style="left:50px;top:36px">(Soda Butte, Yellowstone Park, WY)</div>
<div class="m" style="left:-1px;top:51px">MST</div>
<div class="m" style="left:785px;top:51px">UTC</div>
<div class="s" style="left:13px;top:112px"><b>0</b><b>1</b><b>:</b><b>0</b><b>0</b></div>
<div class="s" style="left:773px;top:112px"><b>0</b><b>8</b><b>:</b><b>1</b><b>5</b></div>
<div class="s" style="left:13px;top:172px"><b>0</b><b>2</b><b>:</b><b>0</b><b>0</b></div>
<div class="s" style="left:773px;top:172px"><b>0</b><b>9</b><b>:</b><b>1</b><b>5</b></div>
<div class="s" style="left:13px;top:232px"><b>0</b><b>3</b><b>:</b><b>0</b><b>0</b></div>
<div class="s" style="left:773px;top:232px"><b>1</b><b>0</b><b>:</b><b>1</b><b>5</b></div>
<div class="s" style="left:13px;top:292px"><b>0</b><b>4</b><b>:</b><b>0</b><b>0</b></div>
<div class="s" style="left:773px;top:292px"><b>1</b><b>1</b><b>:</b><b>1</b><b>5</b></div>
<div class="s" style="left:13px;top:352px"><b>0</b><b>5</b><b>:</b><b>0</b><b>0</b></div>
<div class="s" style="left:773px;top:352px"><b>1</b><b>2</b><b>:</b><b>1</b><b>5</b></div>
<div class="s" style="left:13px;top:412px"><b>0</b><b>6</b><b>:</b><b>0</b><b>0</b></div>
<div class="s" style="left:773px;top:412px"><b>1</b><b>3</b><b>:</b><b>1</b><b>5</b></div>
<div class="s" style="left:13px;top:472px"><b>0</b><b>7</b><b>:</b><b>0</b><b>0</b></div>
<div class="s" style="left:773px;top:472px"><b>1</b><b>4</b><b>:</b><b>1</b><b>5</b></div>
<div class="s" style="left:13px;top:532px"><b>0</b><b>8</b><b>:</b><b>0</b><b>0</b></div>
<div class="s" style="left:773px;top:532px"><b>1</b><b>5</b><b>:</b><b>1</b><b>5</b></div>
<div class="s" style="left:13px;top:592px"><b>0</b><b>9</b><b>:</b><b>0</b><b>0</b></div>
<div class="s" style="left:773px;top:592px"><b>1</b><b>6</b><b>:</b><b>1</b><b>5</b></div>
<div class="s" style="left:13px;top:652px"><b>1</b><b>0</b><b>:</b><b>0</b><b>0</b></div>
<div class="s" style="left:773px;top:652px"><b>1</b><b>7</b><b>:</b><b>1</b><b>5</b></div>
<div class="s" style="left:13px;top:712px"><b>1</b><b>1</b><b>:</b><b>0</b><b>0</b></div>
<div class="s" style="left:773px;top:712px"><b>1</b><b>8</b><b>:</b><b>1</b><b>5</b></div>
<div class="s" style="left:13px;top:772px"><b>1</b><b>2</b><b>:</b><b>0</b><b>0</b></div>
<div class="s" style="left:773px;top:772px"><b>1</b><b>9</b><b>:</b><b>1</b><b>5</b></div>
<div class="s" style="left:13px;top:832px"><b>1</b><b>3</b><b>:</b><b>0</b><b>0</b></div>
<div class="s" style="left:773px;top:832px"><b>2</b><b>0</b><b>:</b><b>1</b><b>5</b></div>
<div class="s" style="left:13px;top:892px"><b>1</b><b>4</b><b>:</b><b>0</b><b>0</b></div>
<div class="s" style="left:773px;top:892px"><b>2</b><b>1</b><b>:</b><b>1</b><b>5</b></div>
<div class="s" style="left:13px;top:952px"><b>1</b><b>5</b><b>:</b><b>0</b><b>0</b></div>
<div class="s" style="left:773px;top:952px"><b>2</b><b>2</b><b>:</b><b>1</b><b>5</b></div>
<div class="s" style="left:13px;top:1012px"><b>1</b><b>6</b><b>:</b><b>0</b><b>0</b></div>
<div class="s" style="left:773px;top:1012px"><b>2</b><b>3</b><b>:</b><b>1</b><b>5</b></div>
<div class="s" style="left:13px;top:1072px"><b>1</b><b>7</b><b>:</b><b>0</b><b>0</b></div>
<div class="s" style="left:773px;top:1072px"><b>0</b><b>0</b><b>:</b><b>1</b><b>5</b></div>
<div class="s" style="left:13px;top:1132px"><b>1</b><b>8</b><b>:</b><b>0</b><b>0</b></div>
<div class="s" style="left:773px;top:1132px"><b>0</b><b>1</b><b>:</b><b>1</b><b>5</b></div>
<div class="s" style="left:13px;top:1192px"><b>1</b><b>9</b><b>:</b><b>0</b><b>0</b></div>
<div class="s" style="left:773px;top:1192px"><b>0</b><b>2</b><b>:</b><b>1</b><b>5</b></div>
<div class="s" style="left:13px;top:1252px"><b>2</b><b>0</b><b>:</b><b>0</b><b>0</b></div>
<div class="s" style="left:773px;top:1252px"><b>0</b><b>3</b><b>:</b><b>1</b><b>5</b></div>
<div class="s" style="left:13px;top:1312px"><b>2</b><b>1</b><b>:</b><b>0</b><b>0</b></div>
<div class="s" style="left:773px;top:1312px"><b>0</b><b>4</b><b>:</b><b>1</b><b>5</b></div>
<div class="s" style="left:13px;top:1372px"><b>2</b><b>2</b><b>:</b><b>0</b><b>0</b></div>
<div class="s" style="left:773px;top:1372px"><b>0</b><b>5</b><b>:</b><b>1</b><b>5</b></div>
<div class="s" style="left:13px;top:1432px"><b>2</b><b>3</b><b>:</b><b>0</b><b>0</b></div>
<div class="s" style="left:773px;top:1432px"><b>0</b><b>6</b><b>:</b><b>1</b><b>5</b></div>
<div class="r" style="left:836px;top:54px"><b>&#8722;</b><b>5</b></div>
<div class="r" style="left:831px;top:69px"><b>&#8722;</b><b>1</b><b>2</b></div>
<div class="r" style="left:831px;top:84px"><b>&#8722;</b><b>1</b><b>3</b></div>
<div class="r" style="left:831px;top:99px"><b>&#8722;</b><b>1</b><b>0</b></div>
<div class="r" style="left:836px;top:114px"><b>&#8722;</b><b>9</b></div>
<div class="r" style="left:831px;top:129px"><b>&#8722;</b><b>1</b><b>0</b></div>
<div class="r" style="left:831px;top:144px"><b>&#8722;</b><b>1</b><b>0</b></div>
<div class="r" style="left:836px;top:159px"><b>&#8722;</b><b>8</b></div>
<div class="r" style="left:831px;top:174px"><b>&#8722;</b><b>1</b><b>0</b></div>
<div class="r" style="left:831px;top:189px"><b>&#8722;</b><b>1</b><b>0</b></div>
<div class="r" style="left:836px;top:204px"><b>&#8722;</b><b>9</b></div>
<div class="r" style="left:836px;top:219px"><b>&#8722;</b><b>9</b></div>
<div class="r" style="left:836px;top:234px"><b>&#8722;</b><b>7</b></div>
<div class="r" style="left:831px;top:249px"><b>&#8722;</b><b>1</b><b>0</b></div>
<div class="r" style="left:831px;top:264px"><b>&#8722;</b><b>1</b><b>0</b></div>
<div class="r" style="left:836px;top:279px"><b>&#8722;</b><b>7</b></div>
<div class="r" style="left:836px;top:294px"><b>&#8722;</b><b>7</b></div>
<div class="r" style="left:836px;top:309px"><b>&#8722;</b><b>8</b></div>
<div class="r" style="left:836px;top:324px"><b>&#8722;</b><b>6</b></div>
<div class="r" style="left:836px;top:339px"><b>&#8722;</b><b>8</b></div>
<div class="r" style="left:836px;top:354px"><b>&#8722;</b><b>9</b></div>
<div class="r" style="left:836px;top:369px"><b>&#8722;</b><b>9</b></div>
<div class="r" style="left:836px;top:384px"><b>&#8722;</b><b>8</b></div>
<div class="r" style="left:831px;top:399px"><b>&#8722;</b><b>1</b><b>1</b></div>
<div class="r" style="left:831px;top:414px"><b>&#8722;</b><b>1</b><b>1</b></div>
<div class="r" style="left:831px;top:429px"><b>&#8722;</b><b>1</b><b>0</b></div>
<div class="r" style="left:831px;top:444px"><b>&#8722;</b><b>1</b><b>1</b></div>
<div class="r" style="left:831px;top:459px"><b>&#8722;</b><b>1</b><b>0</b></div>
<div class="r" style="left:836px;top:474px"><b>&#8722;</b><b>6</b></div>
<div class="r" style="left:831px;top:489px"><b>&#8722;</b><b>1</b><b>1</b></div>
<div class="r" style="left:836px;top:504px"><b>&#8722;</b><b>9</b></div>
<div class="r" style="left:831px;top:519px"><b>&#8722;</b><b>1</b><b>0</b></div>
<div class="r" style="left:836px;top:534px"><b>&#8722;</b><b>6</b></div>
<div class="r" style="left:831px;top:549px"><b>&#8722;</b><b>1</b><b>0</b></div>
<div class="r" style="left:836px;top:564px"><b>&#8722;</b><b>4</b></div>
<div class="r" style="left:836px;top:579px"><b>&#8722;</b><b>7</b></div>
<div class="r" style="left:831px;top:594px"><b>&#8722;</b><b>1</b><b>2</b></div>
<div class="r" style="left:836px;top:609px"><b>&#8722;</b><b>6</b></div>
<div class="r" style="left:836px;top:624px"><b>&#8722;</b><b>3</b></div>
<div class="r" style="left:831px;top:639px"><b>&#8722;</b><b>1</b><b>0</b></div>
<div class="r" style="left:836px;top:654px"><b>&#8722;</b><b>7</b></div>
<div class="r" style="left:836px;top:669px"><b>&#8722;</b><b>9</b></div>
<div class="r" style="left:831px;top:684px"><b>&#8722;</b><b>1</b><b>1</b></div>
<div class="r" style="left:836px;top:699px"><b>&#8722;</b><b>7</b></div>
<div class="r" style="left:831px;top:714px"><b>&#8722;</b><b>1</b><b>1</b></div>
<div class="r" style="left:831px;top:729px"><b>&#8722;</b><b>1</b><b>3</b></div>
<div class="r" style="left:831px;top:744px"><b>&#8722;</b><b>1</b><b>1</b></div>
<div class="r" style="left:836px;top:759px"><b>&#8722;</b><b>7</b></div>
<div class="r" style="left:836px;top:774px"><b>&#8722;</b><b>6</b></div>
<div class="r" style="left:831px;top:789px"><b>&#8722;</b><b>1</b><b>0</b></div>
<div class="r" style="left:836px;top:804px"><b>&#8722;</b><b>9</b></div>
<div class="r" style="left:831px;top:819px"><b>&#8722;</b><b>1</b><b>1</b></div>
<div class="r" style="left:836px;top:834px"><b>&#8722;</b><b>9</b></div>
<div class="r" style="left:836px;top:849px"><b>&#8722;</b><b>9</b></div>
<div class="r" style="left:836px;top:864px"><b>&#8722;</b><b>7</b></div>
<div class="r" style="left:836px;top:879px"><b>&#8722;</b><b>9</b></div>
<div class="r" style="left:836px;top:894px"><b>&#8722;</b><b>8</b></div>
<div class="r" style="left:831px;top:909px"><b>&#8722;</b><b>1</b><b>1</b></div>
<div class="r" style="left:836px;top:924px"><b>&#8722;</b><b>7</b></div>
<div class="r" style="left:836px;top:939px"><b>&#8722;</b><b>9</b></div>
<div class="r" style="left:831px;top:954px"><b>&#8722;</b><b>1</b><b>0</b></div>
<div class="r" style="left:836px;top:969px"><b>&#8722;</b><b>8</b></div>
<div class="r" style="left:836px;top:984px"><b>&#8722;</b><b>7</b></div>
<div class="r" style="left:831px;top:999px"><b>&#8722;</b><b>1</b><b>1</b></div>
<div class="r" style="left:836px;top:1014px"><b>&#8722;</b><b>9</b></div>
<div class="r" style="left:831px;top:1029px"><b>&#8722;</b><b>1</b><b>0</b></div>
<div class="r" style="left:836px;top:1044px"><b>&#8722;</b><b>8</b></div>
<div class="r" style="left:836px;top:1059px"><b>&#8722;</b><b>7</b></div>
<div class="r" style="left:836px;top:1074px"><b>&#8722;</b><b>7</b></div>
<div class="r" style="left:836px;top:1089px"><b>&#8722;</b><b>7</b></div>
<div class="r" style="left:831px;top:1104px"><b>&#8722;</b><b>1</b><b>0</b></div>
<div class="r" style="left:836px;top:1119px"><b>&#8722;</b><b>8</b></div>
<div class="r" style="left:831px;top:1134px"><b>&#8722;</b><b>1</b><b>2</b></div>
<div class="r" style="left:836px;top:1149px"><b>&#8722;</b><b>8</b></div>
<div class="r" style="left:836px;top:1164px"><b>&#8722;</b><b>4</b></div>
<div class="r" style="left:836px;top:1179px"><b>&#8722;</b><b>9</b></div>
<div class="r" style="left:836px;top:1194px"><b>&#8722;</b><b>9</b></div>
<div class="r" style="left:836px;top:1209px"><b>&#8722;</b><b>9</b></div>
<div class="r" style="left:836px;top:1224px"><b>&#8722;</b><b>6</b></div>
<div class="r" style="left:831px;top:1239px"><b>&#8722;</b><b>1</b><b>2</b></div>
<div class="r" style="left:831px;top:1254px"><b>&#8722;</b><b>1</b><b>0</b></div>
<div class="r" style="left:831px;top:1269px"><b>&#8722;</b><b>1</b><b>0</b></div>
<div class="r" style="left:836px;top:1284px"><b>&#8722;</b><b>9</b></div>
<div class="r" style="left:836px;top:1299px"><b>&#8722;</b><b>9</b></div>
<div class="r" style="left:836px;top:1314px"><b>&#8722;</b><b>9</b></div>
<div class="r" style="left:831px;top:1329px"><b>&#8722;</b><b>1</b><b>1</b></div>
<div class="r" style="left:836px;top:1344px"><b>&#8722;</b><b>9</b></div>
<div class="r" style="left:836px;top:1359px"><b>&#8722;</b><b>8</b></div>
<div class="r" style="left:836px;top:1374px"><b>&#8722;</b><b>8</b></div>
<div class="r" style="left:836px;top:1389px"><b>&#8722;</b><b>7</b></div>
<div class="r" style="left:836px;top:1404px"><b>&#8722;</b><b>9</b></div>
<div class="r" style="left:831px;top:1419px"><b>&#8722;</b><b>1</b><b>2</b></div>
<div class="r" style="left:831px;top:1434px"><b>&#8722;</b><b>1</b><b>0</b></div>
<div class="r" style="left:831px;top:1449px"><b>&#8722;</b><b>1</b><b>0</b></div>
<div class="r" style="left:836px;top:1464px"><b>&#8722;</b><b>8</b></div>
<div class="r" style="left:836px;top:1479px"><b>&#8722;</b><b>5</b></div>
<div class="r" style="left:826px;top:50px;font-size:7.5px"><b style="width:4.5px">D</b><b style="width:4.5px">C</b></div>
<div class="s" style="left:43px;top:1502px"><b>0</b><b>0</b></div>
<div class="s" style="left:91px;top:1502px"><b>0</b><b>1</b></div>
<div class="s" style="left:139px;top:1502px"><b>0</b><b>2</b></div>
<div class="s" style="left:187px;top:1502px"><b>0</b><b>3</b></div>
<div class="s" style="left:235px;top:1502px"><b>0</b><b>4</b></div>
<div class="s" style="left:283px;top:1502px"><b>0</b><b>5</b></div>
<div class="s" style="left:331px;top:1502px"><b>0</b><b>6</b></div>
<div class="s" style="left:379px;top:1502px"><b>0</b><b>7</b></div>
<div class="s" style="left:427px;top:1502px"><b>0</b><b>8</b></div>
<div class="s" style="left:475px;top:1502px"><b>0</b><b>9</b></div>
<div class="s" style="left:523px;top:1502px"><b>1</b><b>0</b></div>
<div class="s" style="left:571px;top:1502px"><b>1</b><b>1</b></div>
<div class="s" style="left:619px;top:1502px"><b>1</b><b>2</b></div>
<div class="s" style="left:667px;top:1502px"><b>1</b><b>3</b></div>
<div class="s" style="left:715px;top:1502px"><b>1</b><b>4</b></div>
<div class="s" style="left:763px;top:1502px"><b>1</b><b>5</b></div>
<div class="m" style="left:374px;top:1513px">TIME (MINUTES)</div>
<div class="f" style="left:21px;top:1517px">Each Vertical Division = 1333.33 microvolts</div>
<div class="f" style="left:483px;top:1517px">Traces clipped at plus/minus 5 vertical divisions</div>
</body></html>
